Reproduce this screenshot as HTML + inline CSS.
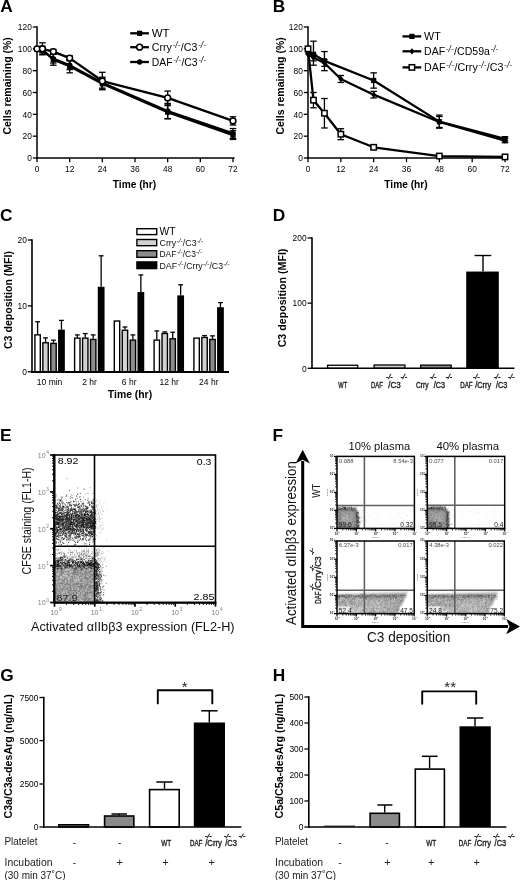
<!DOCTYPE html>
<html lang="en"><head><meta charset="utf-8"><title>Figure</title>
<style>html,body{margin:0;padding:0;background:#fff}svg{display:block}</style></head>
<body>
<svg width="520" height="880" viewBox="0 0 520 880" font-family='"Liberation Sans", Arial, sans-serif' shape-rendering="geometricPrecision">
<rect width="520" height="880" fill="#fff"/>
<filter id="soft" x="0" y="0" width="100%" height="100%" filterUnits="objectBoundingBox"><feGaussianBlur stdDeviation="0.38"/></filter>
<g filter="url(#soft)">
<rect width="520" height="880" fill="#fff"/>
<line x1="37.00" y1="26.30" x2="37.00" y2="158.75" stroke="#000" stroke-width="1.5"/>
<line x1="36.25" y1="158.00" x2="234.60" y2="158.00" stroke="#000" stroke-width="1.5"/>
<line x1="32.80" y1="158.00" x2="37.00" y2="158.00" stroke="#000" stroke-width="1.3"/>
<text x="31.80" y="161.31" font-size="8.4" text-anchor="end">0</text>
<line x1="32.80" y1="136.17" x2="37.00" y2="136.17" stroke="#000" stroke-width="1.3"/>
<text x="31.80" y="139.47" font-size="8.4" text-anchor="end">20</text>
<line x1="32.80" y1="114.33" x2="37.00" y2="114.33" stroke="#000" stroke-width="1.3"/>
<text x="31.80" y="117.64" font-size="8.4" text-anchor="end">40</text>
<line x1="32.80" y1="92.50" x2="37.00" y2="92.50" stroke="#000" stroke-width="1.3"/>
<text x="31.80" y="95.81" font-size="8.4" text-anchor="end">60</text>
<line x1="32.80" y1="70.67" x2="37.00" y2="70.67" stroke="#000" stroke-width="1.3"/>
<text x="31.80" y="73.97" font-size="8.4" text-anchor="end">80</text>
<line x1="32.80" y1="48.83" x2="37.00" y2="48.83" stroke="#000" stroke-width="1.3"/>
<text x="31.80" y="52.14" font-size="8.4" text-anchor="end">100</text>
<line x1="32.80" y1="27.00" x2="37.00" y2="27.00" stroke="#000" stroke-width="1.3"/>
<text x="31.80" y="30.31" font-size="8.4" text-anchor="end">120</text>
<line x1="37.00" y1="158.00" x2="37.00" y2="162.20" stroke="#000" stroke-width="1.3"/>
<text x="37.00" y="172.31" font-size="8.4" text-anchor="middle">0</text>
<line x1="69.67" y1="158.00" x2="69.67" y2="162.20" stroke="#000" stroke-width="1.3"/>
<text x="69.67" y="172.31" font-size="8.4" text-anchor="middle">12</text>
<line x1="102.33" y1="158.00" x2="102.33" y2="162.20" stroke="#000" stroke-width="1.3"/>
<text x="102.33" y="172.31" font-size="8.4" text-anchor="middle">24</text>
<line x1="135.00" y1="158.00" x2="135.00" y2="162.20" stroke="#000" stroke-width="1.3"/>
<text x="135.00" y="172.31" font-size="8.4" text-anchor="middle">36</text>
<line x1="167.67" y1="158.00" x2="167.67" y2="162.20" stroke="#000" stroke-width="1.3"/>
<text x="167.67" y="172.31" font-size="8.4" text-anchor="middle">48</text>
<line x1="200.33" y1="158.00" x2="200.33" y2="162.20" stroke="#000" stroke-width="1.3"/>
<text x="200.33" y="172.31" font-size="8.4" text-anchor="middle">60</text>
<line x1="233.00" y1="158.00" x2="233.00" y2="162.20" stroke="#000" stroke-width="1.3"/>
<text x="233.00" y="172.31" font-size="8.4" text-anchor="middle">72</text>
<text x="134.50" y="188.45" font-size="10.2" text-anchor="middle" font-weight="bold">Time (hr)</text>
<text x="11.32" y="134.60" font-size="10.4" font-weight="bold" textLength="97.40" lengthAdjust="spacingAndGlyphs" transform="rotate(-90 11.32 134.60)">Cells remaining (%)</text>
<text x="0.20" y="12.40" font-size="17.3" font-weight="bold">A</text>
<line x1="42.44" y1="46.10" x2="42.44" y2="52.65" stroke="#000" stroke-width="1.3"/>
<line x1="39.19" y1="46.10" x2="45.69" y2="46.10" stroke="#000" stroke-width="1.3"/>
<line x1="39.19" y1="52.65" x2="45.69" y2="52.65" stroke="#000" stroke-width="1.3"/>
<line x1="53.33" y1="54.29" x2="53.33" y2="65.21" stroke="#000" stroke-width="1.3"/>
<line x1="50.08" y1="54.29" x2="56.58" y2="54.29" stroke="#000" stroke-width="1.3"/>
<line x1="50.08" y1="65.21" x2="56.58" y2="65.21" stroke="#000" stroke-width="1.3"/>
<line x1="69.67" y1="59.75" x2="69.67" y2="72.85" stroke="#000" stroke-width="1.3"/>
<line x1="66.42" y1="59.75" x2="72.92" y2="59.75" stroke="#000" stroke-width="1.3"/>
<line x1="66.42" y1="72.85" x2="72.92" y2="72.85" stroke="#000" stroke-width="1.3"/>
<line x1="102.33" y1="78.31" x2="102.33" y2="89.23" stroke="#000" stroke-width="1.3"/>
<line x1="99.08" y1="78.31" x2="105.58" y2="78.31" stroke="#000" stroke-width="1.3"/>
<line x1="99.08" y1="89.23" x2="105.58" y2="89.23" stroke="#000" stroke-width="1.3"/>
<line x1="167.67" y1="105.60" x2="167.67" y2="118.70" stroke="#000" stroke-width="1.3"/>
<line x1="164.42" y1="105.60" x2="170.92" y2="105.60" stroke="#000" stroke-width="1.3"/>
<line x1="164.42" y1="118.70" x2="170.92" y2="118.70" stroke="#000" stroke-width="1.3"/>
<line x1="233.00" y1="130.71" x2="233.00" y2="139.44" stroke="#000" stroke-width="1.3"/>
<line x1="229.75" y1="130.71" x2="236.25" y2="130.71" stroke="#000" stroke-width="1.3"/>
<line x1="229.75" y1="139.44" x2="236.25" y2="139.44" stroke="#000" stroke-width="1.3"/>
<polyline points="37.00,48.83 42.44,49.38 53.33,59.75 69.67,66.30 102.33,83.77 167.67,112.15 233.00,135.07" fill="none" stroke="#000" stroke-width="2.3" stroke-linejoin="round"/>
<rect x="34.40" y="46.23" width="5.20" height="5.20" fill="#000"/>
<rect x="39.84" y="46.78" width="5.20" height="5.20" fill="#000"/>
<rect x="50.73" y="57.15" width="5.20" height="5.20" fill="#000"/>
<rect x="67.07" y="63.70" width="5.20" height="5.20" fill="#000"/>
<rect x="99.73" y="81.17" width="5.20" height="5.20" fill="#000"/>
<rect x="165.07" y="109.55" width="5.20" height="5.20" fill="#000"/>
<rect x="230.40" y="132.47" width="5.20" height="5.20" fill="#000"/>
<line x1="42.44" y1="47.74" x2="42.44" y2="54.29" stroke="#000" stroke-width="1.3"/>
<line x1="39.19" y1="47.74" x2="45.69" y2="47.74" stroke="#000" stroke-width="1.3"/>
<line x1="39.19" y1="54.29" x2="45.69" y2="54.29" stroke="#000" stroke-width="1.3"/>
<line x1="53.33" y1="54.29" x2="53.33" y2="63.03" stroke="#000" stroke-width="1.3"/>
<line x1="50.08" y1="54.29" x2="56.58" y2="54.29" stroke="#000" stroke-width="1.3"/>
<line x1="50.08" y1="63.03" x2="56.58" y2="63.03" stroke="#000" stroke-width="1.3"/>
<line x1="69.67" y1="60.84" x2="69.67" y2="69.58" stroke="#000" stroke-width="1.3"/>
<line x1="66.42" y1="60.84" x2="72.92" y2="60.84" stroke="#000" stroke-width="1.3"/>
<line x1="66.42" y1="69.58" x2="72.92" y2="69.58" stroke="#000" stroke-width="1.3"/>
<line x1="102.33" y1="77.22" x2="102.33" y2="88.13" stroke="#000" stroke-width="1.3"/>
<line x1="99.08" y1="77.22" x2="105.58" y2="77.22" stroke="#000" stroke-width="1.3"/>
<line x1="99.08" y1="88.13" x2="105.58" y2="88.13" stroke="#000" stroke-width="1.3"/>
<line x1="167.67" y1="103.42" x2="167.67" y2="118.70" stroke="#000" stroke-width="1.3"/>
<line x1="164.42" y1="103.42" x2="170.92" y2="103.42" stroke="#000" stroke-width="1.3"/>
<line x1="164.42" y1="118.70" x2="170.92" y2="118.70" stroke="#000" stroke-width="1.3"/>
<line x1="233.00" y1="128.53" x2="233.00" y2="138.35" stroke="#000" stroke-width="1.3"/>
<line x1="229.75" y1="128.53" x2="236.25" y2="128.53" stroke="#000" stroke-width="1.3"/>
<line x1="229.75" y1="138.35" x2="236.25" y2="138.35" stroke="#000" stroke-width="1.3"/>
<polyline points="37.00,48.83 42.44,51.02 53.33,58.66 69.67,65.21 102.33,82.68 167.67,111.06 233.00,133.44" fill="none" stroke="#000" stroke-width="2.3" stroke-linejoin="round"/>
<circle cx="37.00" cy="48.83" r="2.7" fill="#000"/>
<circle cx="42.44" cy="51.02" r="2.7" fill="#000"/>
<circle cx="53.33" cy="58.66" r="2.7" fill="#000"/>
<circle cx="69.67" cy="65.21" r="2.7" fill="#000"/>
<circle cx="102.33" cy="82.68" r="2.7" fill="#000"/>
<circle cx="167.67" cy="111.06" r="2.7" fill="#000"/>
<circle cx="233.00" cy="133.44" r="2.7" fill="#000"/>
<line x1="42.44" y1="42.83" x2="42.44" y2="54.84" stroke="#000" stroke-width="1.3"/>
<line x1="39.19" y1="42.83" x2="45.69" y2="42.83" stroke="#000" stroke-width="1.3"/>
<line x1="39.19" y1="54.84" x2="45.69" y2="54.84" stroke="#000" stroke-width="1.3"/>
<line x1="53.33" y1="49.38" x2="53.33" y2="53.75" stroke="#000" stroke-width="1.3"/>
<line x1="50.08" y1="49.38" x2="56.58" y2="49.38" stroke="#000" stroke-width="1.3"/>
<line x1="50.08" y1="53.75" x2="56.58" y2="53.75" stroke="#000" stroke-width="1.3"/>
<line x1="69.67" y1="55.93" x2="69.67" y2="60.30" stroke="#000" stroke-width="1.3"/>
<line x1="66.42" y1="55.93" x2="72.92" y2="55.93" stroke="#000" stroke-width="1.3"/>
<line x1="66.42" y1="60.30" x2="72.92" y2="60.30" stroke="#000" stroke-width="1.3"/>
<line x1="102.33" y1="72.30" x2="102.33" y2="89.77" stroke="#000" stroke-width="1.3"/>
<line x1="99.08" y1="72.30" x2="105.58" y2="72.30" stroke="#000" stroke-width="1.3"/>
<line x1="99.08" y1="89.77" x2="105.58" y2="89.77" stroke="#000" stroke-width="1.3"/>
<line x1="167.67" y1="91.08" x2="167.67" y2="104.84" stroke="#000" stroke-width="1.3"/>
<line x1="164.42" y1="91.08" x2="170.92" y2="91.08" stroke="#000" stroke-width="1.3"/>
<line x1="164.42" y1="104.84" x2="170.92" y2="104.84" stroke="#000" stroke-width="1.3"/>
<line x1="233.00" y1="116.74" x2="233.00" y2="125.03" stroke="#000" stroke-width="1.3"/>
<line x1="229.75" y1="116.74" x2="236.25" y2="116.74" stroke="#000" stroke-width="1.3"/>
<line x1="229.75" y1="125.03" x2="236.25" y2="125.03" stroke="#000" stroke-width="1.3"/>
<polyline points="37.00,48.83 42.44,48.83 53.33,51.56 69.67,58.11 102.33,81.04 167.67,97.96 233.00,120.88" fill="none" stroke="#000" stroke-width="2.3" stroke-linejoin="round"/>
<circle cx="37.00" cy="48.83" r="2.9" fill="#fff" stroke="#000" stroke-width="1.5"/>
<circle cx="42.44" cy="48.83" r="2.9" fill="#fff" stroke="#000" stroke-width="1.5"/>
<circle cx="53.33" cy="51.56" r="2.9" fill="#fff" stroke="#000" stroke-width="1.5"/>
<circle cx="69.67" cy="58.11" r="2.9" fill="#fff" stroke="#000" stroke-width="1.5"/>
<circle cx="102.33" cy="81.04" r="2.9" fill="#fff" stroke="#000" stroke-width="1.5"/>
<circle cx="167.67" cy="97.96" r="2.9" fill="#fff" stroke="#000" stroke-width="1.5"/>
<circle cx="233.00" cy="120.88" r="2.9" fill="#fff" stroke="#000" stroke-width="1.5"/>
<line x1="130.20" y1="33.30" x2="148.90" y2="33.30" stroke="#000" stroke-width="2.3"/>
<rect x="137.00" y="30.70" width="5.20" height="5.20" fill="#000"/>
<text x="151.80" y="37.20" font-size="10.8" textLength="17.80" lengthAdjust="spacingAndGlyphs">WT</text>
<line x1="130.20" y1="47.20" x2="148.90" y2="47.20" stroke="#000" stroke-width="2.3"/>
<circle cx="139.60" cy="47.20" r="2.9" fill="#fff" stroke="#000" stroke-width="1.5"/>
<text x="151.80" y="51.10" font-size="10.8" textLength="20.07" lengthAdjust="spacingAndGlyphs">Crry</text>
<text x="172.47" y="47.80" font-size="8.6" font-style="italic" textLength="7.99" lengthAdjust="spacingAndGlyphs">-/-</text>
<text x="180.87" y="51.10" font-size="10.8" textLength="16.54" lengthAdjust="spacingAndGlyphs">/C3</text>
<text x="198.01" y="47.80" font-size="8.6" font-style="italic" textLength="7.99" lengthAdjust="spacingAndGlyphs">-/-</text>
<line x1="130.20" y1="62.00" x2="148.90" y2="62.00" stroke="#000" stroke-width="2.3"/>
<circle cx="139.60" cy="62.00" r="2.7" fill="#000"/>
<text x="151.80" y="65.90" font-size="10.8" textLength="20.79" lengthAdjust="spacingAndGlyphs">DAF</text>
<text x="173.19" y="62.60" font-size="8.6" font-style="italic" textLength="7.81" lengthAdjust="spacingAndGlyphs">-/-</text>
<text x="181.41" y="65.90" font-size="10.8" textLength="16.18" lengthAdjust="spacingAndGlyphs">/C3</text>
<text x="198.19" y="62.60" font-size="8.6" font-style="italic" textLength="7.81" lengthAdjust="spacingAndGlyphs">-/-</text>
<line x1="308.00" y1="26.30" x2="308.00" y2="158.75" stroke="#000" stroke-width="1.5"/>
<line x1="307.25" y1="158.00" x2="506.60" y2="158.00" stroke="#000" stroke-width="1.5"/>
<line x1="303.80" y1="158.00" x2="308.00" y2="158.00" stroke="#000" stroke-width="1.3"/>
<text x="302.80" y="161.31" font-size="8.4" text-anchor="end">0</text>
<line x1="303.80" y1="136.17" x2="308.00" y2="136.17" stroke="#000" stroke-width="1.3"/>
<text x="302.80" y="139.47" font-size="8.4" text-anchor="end">20</text>
<line x1="303.80" y1="114.33" x2="308.00" y2="114.33" stroke="#000" stroke-width="1.3"/>
<text x="302.80" y="117.64" font-size="8.4" text-anchor="end">40</text>
<line x1="303.80" y1="92.50" x2="308.00" y2="92.50" stroke="#000" stroke-width="1.3"/>
<text x="302.80" y="95.81" font-size="8.4" text-anchor="end">60</text>
<line x1="303.80" y1="70.67" x2="308.00" y2="70.67" stroke="#000" stroke-width="1.3"/>
<text x="302.80" y="73.97" font-size="8.4" text-anchor="end">80</text>
<line x1="303.80" y1="48.83" x2="308.00" y2="48.83" stroke="#000" stroke-width="1.3"/>
<text x="302.80" y="52.14" font-size="8.4" text-anchor="end">100</text>
<line x1="303.80" y1="27.00" x2="308.00" y2="27.00" stroke="#000" stroke-width="1.3"/>
<text x="302.80" y="30.31" font-size="8.4" text-anchor="end">120</text>
<line x1="308.00" y1="158.00" x2="308.00" y2="162.20" stroke="#000" stroke-width="1.3"/>
<text x="308.00" y="172.31" font-size="8.4" text-anchor="middle">0</text>
<line x1="340.83" y1="158.00" x2="340.83" y2="162.20" stroke="#000" stroke-width="1.3"/>
<text x="340.83" y="172.31" font-size="8.4" text-anchor="middle">12</text>
<line x1="373.67" y1="158.00" x2="373.67" y2="162.20" stroke="#000" stroke-width="1.3"/>
<text x="373.67" y="172.31" font-size="8.4" text-anchor="middle">24</text>
<line x1="406.50" y1="158.00" x2="406.50" y2="162.20" stroke="#000" stroke-width="1.3"/>
<text x="406.50" y="172.31" font-size="8.4" text-anchor="middle">36</text>
<line x1="439.33" y1="158.00" x2="439.33" y2="162.20" stroke="#000" stroke-width="1.3"/>
<text x="439.33" y="172.31" font-size="8.4" text-anchor="middle">48</text>
<line x1="472.17" y1="158.00" x2="472.17" y2="162.20" stroke="#000" stroke-width="1.3"/>
<text x="472.17" y="172.31" font-size="8.4" text-anchor="middle">60</text>
<line x1="505.00" y1="158.00" x2="505.00" y2="162.20" stroke="#000" stroke-width="1.3"/>
<text x="505.00" y="172.31" font-size="8.4" text-anchor="middle">72</text>
<text x="406.00" y="188.45" font-size="10.2" text-anchor="middle" font-weight="bold">Time (hr)</text>
<text x="283.92" y="134.60" font-size="10.4" font-weight="bold" textLength="97.40" lengthAdjust="spacingAndGlyphs" transform="rotate(-90 283.92 134.60)">Cells remaining (%)</text>
<text x="272.80" y="12.40" font-size="17.3" font-weight="bold">B</text>
<line x1="313.47" y1="41.19" x2="313.47" y2="65.21" stroke="#000" stroke-width="1.3"/>
<line x1="310.22" y1="41.19" x2="316.72" y2="41.19" stroke="#000" stroke-width="1.3"/>
<line x1="310.22" y1="65.21" x2="316.72" y2="65.21" stroke="#000" stroke-width="1.3"/>
<line x1="324.42" y1="51.56" x2="324.42" y2="70.67" stroke="#000" stroke-width="1.3"/>
<line x1="321.17" y1="51.56" x2="327.67" y2="51.56" stroke="#000" stroke-width="1.3"/>
<line x1="321.17" y1="70.67" x2="327.67" y2="70.67" stroke="#000" stroke-width="1.3"/>
<line x1="373.67" y1="72.85" x2="373.67" y2="88.13" stroke="#000" stroke-width="1.3"/>
<line x1="370.42" y1="72.85" x2="376.92" y2="72.85" stroke="#000" stroke-width="1.3"/>
<line x1="370.42" y1="88.13" x2="376.92" y2="88.13" stroke="#000" stroke-width="1.3"/>
<line x1="439.33" y1="115.10" x2="439.33" y2="128.20" stroke="#000" stroke-width="1.3"/>
<line x1="436.08" y1="115.10" x2="442.58" y2="115.10" stroke="#000" stroke-width="1.3"/>
<line x1="436.08" y1="128.20" x2="442.58" y2="128.20" stroke="#000" stroke-width="1.3"/>
<line x1="505.00" y1="136.71" x2="505.00" y2="141.08" stroke="#000" stroke-width="1.3"/>
<line x1="501.75" y1="136.71" x2="508.25" y2="136.71" stroke="#000" stroke-width="1.3"/>
<line x1="501.75" y1="141.08" x2="508.25" y2="141.08" stroke="#000" stroke-width="1.3"/>
<polyline points="308.00,52.11 313.47,54.29 324.42,60.84 373.67,80.49 439.33,121.65 505.00,138.90" fill="none" stroke="#000" stroke-width="2.3" stroke-linejoin="round"/>
<rect x="305.40" y="49.51" width="5.20" height="5.20" fill="#000"/>
<rect x="310.87" y="51.69" width="5.20" height="5.20" fill="#000"/>
<rect x="321.82" y="58.24" width="5.20" height="5.20" fill="#000"/>
<rect x="371.07" y="77.89" width="5.20" height="5.20" fill="#000"/>
<rect x="436.73" y="119.05" width="5.20" height="5.20" fill="#000"/>
<rect x="502.40" y="136.30" width="5.20" height="5.20" fill="#000"/>
<line x1="313.47" y1="54.29" x2="313.47" y2="60.84" stroke="#000" stroke-width="1.3"/>
<line x1="310.22" y1="54.29" x2="316.72" y2="54.29" stroke="#000" stroke-width="1.3"/>
<line x1="310.22" y1="60.84" x2="316.72" y2="60.84" stroke="#000" stroke-width="1.3"/>
<line x1="324.42" y1="59.75" x2="324.42" y2="66.30" stroke="#000" stroke-width="1.3"/>
<line x1="321.17" y1="59.75" x2="327.67" y2="59.75" stroke="#000" stroke-width="1.3"/>
<line x1="321.17" y1="66.30" x2="327.67" y2="66.30" stroke="#000" stroke-width="1.3"/>
<line x1="340.83" y1="75.47" x2="340.83" y2="82.46" stroke="#000" stroke-width="1.3"/>
<line x1="337.58" y1="75.47" x2="344.08" y2="75.47" stroke="#000" stroke-width="1.3"/>
<line x1="337.58" y1="82.46" x2="344.08" y2="82.46" stroke="#000" stroke-width="1.3"/>
<line x1="373.67" y1="91.41" x2="373.67" y2="97.96" stroke="#000" stroke-width="1.3"/>
<line x1="370.42" y1="91.41" x2="376.92" y2="91.41" stroke="#000" stroke-width="1.3"/>
<line x1="370.42" y1="97.96" x2="376.92" y2="97.96" stroke="#000" stroke-width="1.3"/>
<line x1="439.33" y1="116.52" x2="439.33" y2="127.43" stroke="#000" stroke-width="1.3"/>
<line x1="436.08" y1="116.52" x2="442.58" y2="116.52" stroke="#000" stroke-width="1.3"/>
<line x1="436.08" y1="127.43" x2="442.58" y2="127.43" stroke="#000" stroke-width="1.3"/>
<line x1="505.00" y1="138.35" x2="505.00" y2="142.72" stroke="#000" stroke-width="1.3"/>
<line x1="501.75" y1="138.35" x2="508.25" y2="138.35" stroke="#000" stroke-width="1.3"/>
<line x1="501.75" y1="142.72" x2="508.25" y2="142.72" stroke="#000" stroke-width="1.3"/>
<polyline points="308.00,54.29 313.47,57.57 324.42,63.03 340.83,78.96 373.67,94.68 439.33,121.97 505.00,140.53" fill="none" stroke="#000" stroke-width="2.3" stroke-linejoin="round"/>
<path d="M308.00 51.19L310.60 54.29L308.00 57.39L305.40 54.29Z" fill="#000"/>
<path d="M313.47 54.47L316.07 57.57L313.47 60.67L310.87 57.57Z" fill="#000"/>
<path d="M324.42 59.93L327.02 63.03L324.42 66.12L321.82 63.03Z" fill="#000"/>
<path d="M340.83 75.86L343.43 78.96L340.83 82.06L338.23 78.96Z" fill="#000"/>
<path d="M373.67 91.58L376.27 94.68L373.67 97.78L371.07 94.68Z" fill="#000"/>
<path d="M439.33 118.88L441.93 121.97L439.33 125.07L436.73 121.97Z" fill="#000"/>
<path d="M505.00 137.43L507.60 140.53L505.00 143.63L502.40 140.53Z" fill="#000"/>
<line x1="313.47" y1="92.50" x2="313.47" y2="107.78" stroke="#000" stroke-width="1.3"/>
<line x1="310.22" y1="92.50" x2="316.72" y2="92.50" stroke="#000" stroke-width="1.3"/>
<line x1="310.22" y1="107.78" x2="316.72" y2="107.78" stroke="#000" stroke-width="1.3"/>
<line x1="324.42" y1="98.50" x2="324.42" y2="127.98" stroke="#000" stroke-width="1.3"/>
<line x1="321.17" y1="98.50" x2="327.67" y2="98.50" stroke="#000" stroke-width="1.3"/>
<line x1="321.17" y1="127.98" x2="327.67" y2="127.98" stroke="#000" stroke-width="1.3"/>
<line x1="340.83" y1="128.74" x2="340.83" y2="139.66" stroke="#000" stroke-width="1.3"/>
<line x1="337.58" y1="128.74" x2="344.08" y2="128.74" stroke="#000" stroke-width="1.3"/>
<line x1="337.58" y1="139.66" x2="344.08" y2="139.66" stroke="#000" stroke-width="1.3"/>
<line x1="373.67" y1="145.66" x2="373.67" y2="148.94" stroke="#000" stroke-width="1.3"/>
<line x1="370.42" y1="145.66" x2="376.92" y2="145.66" stroke="#000" stroke-width="1.3"/>
<line x1="370.42" y1="148.94" x2="376.92" y2="148.94" stroke="#000" stroke-width="1.3"/>
<polyline points="308.00,48.83 313.47,100.14 324.42,113.24 340.83,134.20 373.67,147.30 439.33,156.03 505.00,156.91" fill="none" stroke="#000" stroke-width="2.3" stroke-linejoin="round"/>
<rect x="305.30" y="46.13" width="5.40" height="5.40" fill="#fff" stroke="#000" stroke-width="1.5"/>
<rect x="310.77" y="97.44" width="5.40" height="5.40" fill="#fff" stroke="#000" stroke-width="1.5"/>
<rect x="321.72" y="110.54" width="5.40" height="5.40" fill="#fff" stroke="#000" stroke-width="1.5"/>
<rect x="338.13" y="131.50" width="5.40" height="5.40" fill="#fff" stroke="#000" stroke-width="1.5"/>
<rect x="370.97" y="144.60" width="5.40" height="5.40" fill="#fff" stroke="#000" stroke-width="1.5"/>
<rect x="436.63" y="153.34" width="5.40" height="5.40" fill="#fff" stroke="#000" stroke-width="1.5"/>
<rect x="502.30" y="154.21" width="5.40" height="5.40" fill="#fff" stroke="#000" stroke-width="1.5"/>
<line x1="402.50" y1="36.40" x2="421.20" y2="36.40" stroke="#000" stroke-width="2.3"/>
<rect x="409.30" y="33.80" width="5.20" height="5.20" fill="#000"/>
<text x="424.10" y="40.30" font-size="10.8" textLength="16.60" lengthAdjust="spacingAndGlyphs">WT</text>
<line x1="402.50" y1="51.30" x2="421.20" y2="51.30" stroke="#000" stroke-width="2.3"/>
<path d="M411.90 48.20L414.50 51.30L411.90 54.40L409.30 51.30Z" fill="#000"/>
<text x="424.10" y="55.20" font-size="10.8" textLength="21.09" lengthAdjust="spacingAndGlyphs">DAF</text>
<text x="445.79" y="51.90" font-size="8.6" font-style="italic" textLength="7.93" lengthAdjust="spacingAndGlyphs">-/-</text>
<text x="454.12" y="55.20" font-size="10.8" textLength="35.76" lengthAdjust="spacingAndGlyphs">/CD59a</text>
<text x="490.47" y="51.90" font-size="8.6" font-style="italic" textLength="7.93" lengthAdjust="spacingAndGlyphs">-/-</text>
<line x1="402.50" y1="67.40" x2="421.20" y2="67.40" stroke="#000" stroke-width="2.3"/>
<rect x="409.20" y="64.70" width="5.40" height="5.40" fill="#fff" stroke="#000" stroke-width="1.5"/>
<text x="424.10" y="71.30" font-size="10.8" textLength="21.41" lengthAdjust="spacingAndGlyphs">DAF</text>
<text x="446.11" y="68.00" font-size="8.6" font-style="italic" textLength="8.05" lengthAdjust="spacingAndGlyphs">-/-</text>
<text x="454.56" y="71.30" font-size="10.8" textLength="23.19" lengthAdjust="spacingAndGlyphs">/Crry</text>
<text x="478.35" y="68.00" font-size="8.6" font-style="italic" textLength="8.05" lengthAdjust="spacingAndGlyphs">-/-</text>
<text x="486.79" y="71.30" font-size="10.8" textLength="16.66" lengthAdjust="spacingAndGlyphs">/C3</text>
<text x="504.05" y="68.00" font-size="8.6" font-style="italic" textLength="8.05" lengthAdjust="spacingAndGlyphs">-/-</text>
<text x="0.10" y="220.70" font-size="17.3" font-weight="bold">C</text>
<line x1="37.60" y1="321.72" x2="37.60" y2="334.24" stroke="#000" stroke-width="1.3"/>
<line x1="35.20" y1="321.72" x2="40.00" y2="321.72" stroke="#000" stroke-width="1.3"/>
<rect x="34.90" y="334.84" width="5.40" height="36.96" fill="#fff" stroke="#000" stroke-width="1.4"/>
<line x1="45.55" y1="337.86" x2="45.55" y2="342.14" stroke="#000" stroke-width="1.3"/>
<line x1="43.15" y1="337.86" x2="47.95" y2="337.86" stroke="#000" stroke-width="1.3"/>
<rect x="42.85" y="342.75" width="5.40" height="29.06" fill="#d2d2d2" stroke="#000" stroke-width="1.4"/>
<line x1="53.50" y1="340.17" x2="53.50" y2="342.80" stroke="#000" stroke-width="1.3"/>
<line x1="51.10" y1="340.17" x2="55.90" y2="340.17" stroke="#000" stroke-width="1.3"/>
<rect x="50.80" y="343.40" width="5.40" height="28.40" fill="#8c8c8c" stroke="#000" stroke-width="1.4"/>
<line x1="61.45" y1="320.40" x2="61.45" y2="329.62" stroke="#000" stroke-width="1.3"/>
<line x1="59.05" y1="320.40" x2="63.85" y2="320.40" stroke="#000" stroke-width="1.3"/>
<rect x="58.05" y="329.62" width="6.80" height="42.18" fill="#000"/>
<line x1="77.30" y1="334.90" x2="77.30" y2="337.53" stroke="#000" stroke-width="1.3"/>
<line x1="74.90" y1="334.90" x2="79.70" y2="334.90" stroke="#000" stroke-width="1.3"/>
<rect x="74.60" y="338.13" width="5.40" height="33.67" fill="#fff" stroke="#000" stroke-width="1.4"/>
<line x1="85.25" y1="333.58" x2="85.25" y2="337.53" stroke="#000" stroke-width="1.3"/>
<line x1="82.85" y1="333.58" x2="87.65" y2="333.58" stroke="#000" stroke-width="1.3"/>
<rect x="82.55" y="338.13" width="5.40" height="33.67" fill="#d2d2d2" stroke="#000" stroke-width="1.4"/>
<line x1="93.20" y1="334.90" x2="93.20" y2="338.85" stroke="#000" stroke-width="1.3"/>
<line x1="90.80" y1="334.90" x2="95.60" y2="334.90" stroke="#000" stroke-width="1.3"/>
<rect x="90.50" y="339.45" width="5.40" height="32.35" fill="#8c8c8c" stroke="#000" stroke-width="1.4"/>
<line x1="101.15" y1="255.82" x2="101.15" y2="286.79" stroke="#000" stroke-width="1.3"/>
<line x1="98.75" y1="255.82" x2="103.55" y2="255.82" stroke="#000" stroke-width="1.3"/>
<rect x="97.75" y="286.79" width="6.80" height="85.01" fill="#000"/>
<rect x="114.30" y="321.00" width="5.40" height="50.80" fill="#fff" stroke="#000" stroke-width="1.4"/>
<line x1="124.95" y1="326.99" x2="124.95" y2="329.62" stroke="#000" stroke-width="1.3"/>
<line x1="122.55" y1="326.99" x2="127.35" y2="326.99" stroke="#000" stroke-width="1.3"/>
<rect x="122.25" y="330.22" width="5.40" height="41.58" fill="#d2d2d2" stroke="#000" stroke-width="1.4"/>
<line x1="132.90" y1="334.90" x2="132.90" y2="339.51" stroke="#000" stroke-width="1.3"/>
<line x1="130.50" y1="334.90" x2="135.30" y2="334.90" stroke="#000" stroke-width="1.3"/>
<rect x="130.20" y="340.11" width="5.40" height="31.69" fill="#8c8c8c" stroke="#000" stroke-width="1.4"/>
<line x1="140.85" y1="274.93" x2="140.85" y2="292.06" stroke="#000" stroke-width="1.3"/>
<line x1="138.45" y1="274.93" x2="143.25" y2="274.93" stroke="#000" stroke-width="1.3"/>
<rect x="137.45" y="292.06" width="6.80" height="79.74" fill="#000"/>
<line x1="156.80" y1="330.94" x2="156.80" y2="339.51" stroke="#000" stroke-width="1.3"/>
<line x1="154.40" y1="330.94" x2="159.20" y2="330.94" stroke="#000" stroke-width="1.3"/>
<rect x="154.10" y="340.11" width="5.40" height="31.69" fill="#fff" stroke="#000" stroke-width="1.4"/>
<line x1="164.75" y1="331.93" x2="164.75" y2="332.92" stroke="#000" stroke-width="1.3"/>
<line x1="162.35" y1="331.93" x2="167.15" y2="331.93" stroke="#000" stroke-width="1.3"/>
<rect x="162.05" y="333.52" width="5.40" height="38.28" fill="#d2d2d2" stroke="#000" stroke-width="1.4"/>
<line x1="172.70" y1="332.26" x2="172.70" y2="338.19" stroke="#000" stroke-width="1.3"/>
<line x1="170.30" y1="332.26" x2="175.10" y2="332.26" stroke="#000" stroke-width="1.3"/>
<rect x="170.00" y="338.79" width="5.40" height="33.01" fill="#8c8c8c" stroke="#000" stroke-width="1.4"/>
<line x1="180.65" y1="284.81" x2="180.65" y2="295.36" stroke="#000" stroke-width="1.3"/>
<line x1="178.25" y1="284.81" x2="183.05" y2="284.81" stroke="#000" stroke-width="1.3"/>
<rect x="177.25" y="295.36" width="6.80" height="76.44" fill="#000"/>
<rect x="193.90" y="338.13" width="5.40" height="33.67" fill="#fff" stroke="#000" stroke-width="1.4"/>
<line x1="204.55" y1="335.56" x2="204.55" y2="336.87" stroke="#000" stroke-width="1.3"/>
<line x1="202.15" y1="335.56" x2="206.95" y2="335.56" stroke="#000" stroke-width="1.3"/>
<rect x="201.85" y="337.47" width="5.40" height="34.33" fill="#d2d2d2" stroke="#000" stroke-width="1.4"/>
<line x1="212.50" y1="335.88" x2="212.50" y2="338.85" stroke="#000" stroke-width="1.3"/>
<line x1="210.10" y1="335.88" x2="214.90" y2="335.88" stroke="#000" stroke-width="1.3"/>
<rect x="209.80" y="339.45" width="5.40" height="32.35" fill="#8c8c8c" stroke="#000" stroke-width="1.4"/>
<line x1="220.45" y1="302.61" x2="220.45" y2="307.22" stroke="#000" stroke-width="1.3"/>
<line x1="218.05" y1="302.61" x2="222.85" y2="302.61" stroke="#000" stroke-width="1.3"/>
<rect x="217.05" y="307.22" width="6.80" height="64.58" fill="#000"/>
<line x1="32.00" y1="239.30" x2="32.00" y2="372.70" stroke="#000" stroke-width="1.6"/>
<line x1="31.20" y1="372.00" x2="229.00" y2="372.00" stroke="#000" stroke-width="1.8"/>
<line x1="27.80" y1="371.80" x2="32.00" y2="371.80" stroke="#000" stroke-width="1.3"/>
<text x="26.80" y="375.11" font-size="8.4" text-anchor="end">0</text>
<line x1="27.80" y1="305.90" x2="32.00" y2="305.90" stroke="#000" stroke-width="1.3"/>
<text x="26.80" y="309.21" font-size="8.4" text-anchor="end">10</text>
<line x1="27.80" y1="240.00" x2="32.00" y2="240.00" stroke="#000" stroke-width="1.3"/>
<text x="26.80" y="243.31" font-size="8.4" text-anchor="end">20</text>
<text x="49.60" y="384.64" font-size="8.5" text-anchor="middle">10 min</text>
<text x="89.60" y="384.64" font-size="8.5" text-anchor="middle">2 hr</text>
<text x="129.20" y="384.64" font-size="8.5" text-anchor="middle">6 hr</text>
<text x="169.20" y="384.64" font-size="8.5" text-anchor="middle">12 hr</text>
<text x="208.80" y="384.64" font-size="8.5" text-anchor="middle">24 hr</text>
<text x="130.00" y="397.72" font-size="10.4" text-anchor="middle" font-weight="bold">Time (hr)</text>
<text x="12.02" y="349.00" font-size="10.4" font-weight="bold" textLength="98.00" lengthAdjust="spacingAndGlyphs" transform="rotate(-90 12.02 349.00)">C3 deposition (MFI)</text>
<rect x="136.90" y="228.70" width="19.80" height="5.90" fill="#fff" stroke="#000" stroke-width="1.4"/>
<text x="159.50" y="235.25" font-size="10.2" textLength="16.00" lengthAdjust="spacingAndGlyphs">WT</text>
<rect x="136.90" y="239.50" width="19.80" height="6.20" fill="#d2d2d2" stroke="#000" stroke-width="1.4"/>
<text x="159.50" y="245.90" font-size="9.2" fill="#111" textLength="16.70" lengthAdjust="spacingAndGlyphs">Crry</text>
<text x="176.50" y="243.00" font-size="6.8" font-style="italic" fill="#111" textLength="6.17" lengthAdjust="spacingAndGlyphs">-/-</text>
<text x="182.87" y="245.90" font-size="9.2" fill="#111" textLength="13.76" lengthAdjust="spacingAndGlyphs">/C3</text>
<text x="196.93" y="243.00" font-size="6.8" font-style="italic" fill="#111" textLength="6.17" lengthAdjust="spacingAndGlyphs">-/-</text>
<rect x="136.90" y="250.70" width="19.80" height="6.60" fill="#8c8c8c" stroke="#000" stroke-width="1.4"/>
<text x="159.50" y="257.30" font-size="9.2" fill="#111" textLength="16.88" lengthAdjust="spacingAndGlyphs">DAF</text>
<text x="176.68" y="254.40" font-size="6.8" font-style="italic" fill="#111" textLength="5.89" lengthAdjust="spacingAndGlyphs">-/-</text>
<text x="182.77" y="257.30" font-size="9.2" fill="#111" textLength="13.14" lengthAdjust="spacingAndGlyphs">/C3</text>
<text x="196.21" y="254.40" font-size="6.8" font-style="italic" fill="#111" textLength="5.89" lengthAdjust="spacingAndGlyphs">-/-</text>
<rect x="136.20" y="261.20" width="21.20" height="8.10" fill="#000"/>
<text x="159.50" y="268.55" font-size="9.2" fill="#111" textLength="17.58" lengthAdjust="spacingAndGlyphs">DAF</text>
<text x="177.38" y="265.65" font-size="6.8" font-style="italic" fill="#111" textLength="6.13" lengthAdjust="spacingAndGlyphs">-/-</text>
<text x="183.71" y="268.55" font-size="9.2" fill="#111" textLength="19.04" lengthAdjust="spacingAndGlyphs">/Crry</text>
<text x="203.06" y="265.65" font-size="6.8" font-style="italic" fill="#111" textLength="6.13" lengthAdjust="spacingAndGlyphs">-/-</text>
<text x="209.39" y="268.55" font-size="9.2" fill="#111" textLength="13.68" lengthAdjust="spacingAndGlyphs">/C3</text>
<text x="223.37" y="265.65" font-size="6.8" font-style="italic" fill="#111" textLength="6.13" lengthAdjust="spacingAndGlyphs">-/-</text>
<text x="272.80" y="220.70" font-size="17.3" font-weight="bold">D</text>
<rect x="327.60" y="365.25" width="30.10" height="3.05" fill="#fff" stroke="#000" stroke-width="1.3"/>
<rect x="374.10" y="364.99" width="30.80" height="3.31" fill="#cfcfcf" stroke="#000" stroke-width="1.3"/>
<rect x="420.60" y="365.12" width="30.60" height="3.18" fill="#8a8a8a" stroke="#000" stroke-width="1.3"/>
<line x1="483.00" y1="255.50" x2="483.00" y2="271.55" stroke="#000" stroke-width="1.4"/>
<line x1="474.50" y1="255.50" x2="491.30" y2="255.50" stroke="#000" stroke-width="1.4"/>
<rect x="466.20" y="271.55" width="32.60" height="96.75" fill="#000"/>
<line x1="312.00" y1="237.30" x2="312.00" y2="369.10" stroke="#000" stroke-width="1.6"/>
<line x1="311.20" y1="368.30" x2="514.50" y2="368.30" stroke="#000" stroke-width="1.6"/>
<line x1="307.60" y1="368.30" x2="312.00" y2="368.30" stroke="#000" stroke-width="1.3"/>
<text x="306.60" y="371.61" font-size="8.4" text-anchor="end">0</text>
<line x1="307.60" y1="303.15" x2="312.00" y2="303.15" stroke="#000" stroke-width="1.3"/>
<text x="306.60" y="306.46" font-size="8.4" text-anchor="end">100</text>
<line x1="307.60" y1="238.00" x2="312.00" y2="238.00" stroke="#000" stroke-width="1.3"/>
<text x="306.60" y="241.31" font-size="8.4" text-anchor="end">200</text>
<text x="285.62" y="347.30" font-size="10.4" font-weight="bold" textLength="98.70" lengthAdjust="spacingAndGlyphs" transform="rotate(-90 285.62 347.30)">C3 deposition (MFI)</text>
<text x="338.30" y="388.00" font-size="8.2" fill="#222" textLength="8.90" lengthAdjust="spacingAndGlyphs" stroke="#222" stroke-width="0.36">WT</text>
<text x="371.00" y="388.00" font-size="8.2" fill="#222" textLength="11.80" lengthAdjust="spacingAndGlyphs" stroke="#222" stroke-width="0.36">DAF</text>
<text x="388.30" y="388.00" font-size="8.2" fill="#222" textLength="12.50" lengthAdjust="spacingAndGlyphs" stroke="#222" stroke-width="0.36">/C3</text>
<text x="389.40" y="378.60" font-size="6.6" text-anchor="middle" font-style="italic" fill="#222" textLength="6.60" lengthAdjust="spacingAndGlyphs" stroke="#222" stroke-width="0.36">-/-</text>
<text x="403.80" y="378.60" font-size="6.6" text-anchor="middle" font-style="italic" fill="#222" textLength="6.60" lengthAdjust="spacingAndGlyphs" stroke="#222" stroke-width="0.36">-/-</text>
<text x="416.00" y="388.00" font-size="8.2" fill="#222" textLength="12.60" lengthAdjust="spacingAndGlyphs" stroke="#222" stroke-width="0.36">Crry</text>
<text x="433.80" y="388.00" font-size="8.2" fill="#222" textLength="11.20" lengthAdjust="spacingAndGlyphs" stroke="#222" stroke-width="0.36">/C3</text>
<text x="433.00" y="378.60" font-size="6.6" text-anchor="middle" font-style="italic" fill="#222" textLength="6.60" lengthAdjust="spacingAndGlyphs" stroke="#222" stroke-width="0.36">-/-</text>
<text x="448.90" y="378.60" font-size="6.6" text-anchor="middle" font-style="italic" fill="#222" textLength="6.60" lengthAdjust="spacingAndGlyphs" stroke="#222" stroke-width="0.36">-/-</text>
<text x="460.20" y="388.00" font-size="8.2" fill="#222" textLength="12.40" lengthAdjust="spacingAndGlyphs" stroke="#222" stroke-width="0.36">DAF</text>
<text x="475.20" y="388.00" font-size="8.2" fill="#222" textLength="16.00" lengthAdjust="spacingAndGlyphs" stroke="#222" stroke-width="0.36">/Crry</text>
<text x="495.90" y="388.00" font-size="8.2" fill="#222" textLength="11.30" lengthAdjust="spacingAndGlyphs" stroke="#222" stroke-width="0.36">/C3</text>
<text x="476.20" y="378.60" font-size="6.6" text-anchor="middle" font-style="italic" fill="#222" textLength="6.60" lengthAdjust="spacingAndGlyphs" stroke="#222" stroke-width="0.36">-/-</text>
<text x="497.00" y="378.60" font-size="6.6" text-anchor="middle" font-style="italic" fill="#222" textLength="6.60" lengthAdjust="spacingAndGlyphs" stroke="#222" stroke-width="0.36">-/-</text>
<text x="511.20" y="378.60" font-size="6.6" text-anchor="middle" font-style="italic" fill="#222" textLength="6.60" lengthAdjust="spacingAndGlyphs" stroke="#222" stroke-width="0.36">-/-</text>
<text x="0.00" y="440.70" font-size="17.3" font-weight="bold">E</text>
<clipPath id="clipE"><rect x="54.5" y="455.0" width="161.0" height="147.5"/></clipPath>
<filter id="blE" x="-20%" y="-20%" width="140%" height="140%"><feGaussianBlur stdDeviation="1.1"/></filter>
<g clip-path="url(#clipE)">
<rect x="54.5" y="565.5" width="41.0" height="39.0" fill="#9c9c9c" filter="url(#blE)"/>
</g>
<path d="M80.4 572.4h0.8M91.7 591.4h0.8M86.7 571.1h0.8M63.8 598.1h0.8M67.0 572.5h0.8M90.8 592.4h0.8M54.7 596.5h0.8M88.6 574.6h0.8M87.6 568.5h0.8M73.9 587.0h0.8M67.1 583.7h0.8M66.1 583.0h0.8M65.1 594.3h0.8M73.0 582.4h0.8M75.4 583.6h0.8M77.5 583.3h0.8M95.8 582.0h0.8M87.4 580.2h0.8M80.3 571.0h0.8M95.5 576.1h0.8M63.4 574.9h0.8M61.1 574.3h0.8M79.9 594.4h0.8M56.3 569.3h0.8M56.0 572.7h0.8M75.9 584.7h0.8M73.8 576.7h0.8M92.6 574.0h0.8M80.6 579.0h0.8M75.8 583.8h0.8M75.1 590.3h0.8M64.8 601.5h0.8M55.0 597.0h0.8M62.5 581.1h0.8M83.2 581.9h0.8M62.8 580.6h0.8M69.8 574.0h0.8M54.7 600.7h0.8M88.9 567.6h0.8M60.9 572.7h0.8M65.6 589.8h0.8M91.0 587.1h0.8M75.7 575.4h0.8M89.7 600.1h0.8M81.0 580.4h0.8M85.3 587.4h0.8M58.3 568.4h0.8M77.0 598.4h0.8M75.6 568.9h0.8M90.7 579.8h0.8M69.5 598.2h0.8M79.3 600.4h0.8M57.0 598.9h0.8M70.6 596.0h0.8M67.9 573.7h0.8M60.7 566.2h0.8M88.4 581.9h0.8M70.2 567.4h0.8M95.1 601.0h0.8M79.0 565.3h0.8M79.6 577.2h0.8M81.0 572.6h0.8M82.6 565.5h0.8M60.8 583.7h0.8M72.8 567.9h0.8M64.4 598.7h0.8M71.2 590.8h0.8M58.5 578.9h0.8M94.7 596.6h0.8M63.4 594.9h0.8M82.4 577.2h0.8M67.0 596.8h0.8M90.8 599.9h0.8M82.0 588.2h0.8M60.0 578.2h0.8M89.6 598.8h0.8M93.7 600.4h0.8M92.0 578.0h0.8M78.1 568.2h0.8M60.5 597.5h0.8M62.5 589.9h0.8M93.0 573.7h0.8M77.4 586.3h0.8M62.0 576.6h0.8M91.2 599.5h0.8M81.1 577.8h0.8M78.1 572.4h0.8M70.1 566.6h0.8M71.6 577.8h0.8M64.4 602.1h0.8M56.1 573.2h0.8M90.9 582.2h0.8M73.9 601.5h0.8M77.2 565.3h0.8M67.9 576.1h0.8M85.7 595.8h0.8M55.5 568.6h0.8M69.9 599.8h0.8M55.8 596.3h0.8M59.6 570.4h0.8M94.6 587.2h0.8M81.8 585.8h0.8M72.3 591.0h0.8M76.2 576.5h0.8M90.7 579.4h0.8M68.8 574.0h0.8M79.0 575.9h0.8M82.9 571.6h0.8M69.2 598.9h0.8M76.0 598.3h0.8M86.3 578.5h0.8M92.2 591.0h0.8M60.8 583.4h0.8M93.2 575.5h0.8M54.7 578.1h0.8M85.7 601.2h0.8M88.1 577.8h0.8M60.2 586.7h0.8M71.9 600.4h0.8M88.3 576.2h0.8M55.1 595.3h0.8M80.6 569.3h0.8M87.4 592.5h0.8M75.8 595.3h0.8M84.6 596.4h0.8M63.9 601.6h0.8M62.7 591.7h0.8M69.6 601.6h0.8M61.9 575.4h0.8M68.9 584.6h0.8M93.8 573.0h0.8M78.3 568.1h0.8M68.6 581.5h0.8M65.8 592.0h0.8M94.0 594.2h0.8M72.9 565.6h0.8M95.2 600.3h0.8M75.9 574.3h0.8M76.1 576.0h0.8M91.7 596.2h0.8M85.3 598.5h0.8M78.6 592.6h0.8M72.2 577.5h0.8M90.9 582.4h0.8M71.6 596.3h0.8M92.8 578.4h0.8M57.4 595.2h0.8M72.3 594.3h0.8M76.1 582.6h0.8M94.0 598.6h0.8M64.9 579.4h0.8M88.0 593.1h0.8M82.6 589.0h0.8M84.3 577.4h0.8M80.6 584.9h0.8M94.8 587.7h0.8M68.3 585.1h0.8M71.0 569.2h0.8M62.9 602.2h0.8M56.6 601.2h0.8M63.3 566.4h0.8M92.5 600.4h0.8M89.4 584.9h0.8M59.2 569.7h0.8M79.6 595.8h0.8M74.4 581.2h0.8M79.2 591.7h0.8M81.9 596.0h0.8M67.2 585.2h0.8M94.4 566.9h0.8M73.8 595.8h0.8M80.6 591.0h0.8M80.9 599.1h0.8M62.1 575.1h0.8M57.1 594.4h0.8M71.6 597.7h0.8M86.2 578.3h0.8M88.3 580.4h0.8M84.8 577.5h0.8M59.2 565.2h0.8M92.4 573.7h0.8M87.8 577.4h0.8M90.9 569.1h0.8M76.2 593.7h0.8M92.5 581.0h0.8M56.4 586.3h0.8M55.8 575.7h0.8M55.3 578.5h0.8M65.0 593.3h0.8M64.8 582.6h0.8M62.3 587.4h0.8M78.0 580.9h0.8M56.1 585.9h0.8M79.0 598.7h0.8M61.4 575.0h0.8M82.6 584.5h0.8M55.4 590.8h0.8M67.4 568.3h0.8M93.4 601.1h0.8M76.8 583.7h0.8M88.2 574.2h0.8M81.8 593.5h0.8M79.8 595.6h0.8M62.4 588.6h0.8M78.3 599.4h0.8M56.1 568.3h0.8M87.8 584.8h0.8M94.3 592.9h0.8M89.9 599.4h0.8M56.6 589.1h0.8M68.6 587.6h0.8M67.7 579.6h0.8M59.2 586.4h0.8M80.5 585.8h0.8M87.6 598.9h0.8M67.5 596.0h0.8M90.3 592.6h0.8M87.6 599.6h0.8M59.9 567.5h0.8M86.3 593.9h0.8M91.1 582.4h0.8M62.7 593.2h0.8M78.3 576.1h0.8M81.0 582.5h0.8M79.8 595.9h0.8M58.5 566.3h0.8M81.9 575.9h0.8M80.7 583.3h0.8M88.7 596.9h0.8M87.8 575.1h0.8M68.1 595.9h0.8M84.5 574.2h0.8M90.5 576.4h0.8M91.6 585.8h0.8M61.2 589.5h0.8M55.6 598.0h0.8M81.5 598.0h0.8M63.4 574.4h0.8M77.9 593.0h0.8M93.7 588.8h0.8M70.2 579.5h0.8M65.0 594.1h0.8M73.4 598.7h0.8M81.8 583.0h0.8M58.7 599.4h0.8M70.3 569.8h0.8M60.0 571.2h0.8M82.0 593.7h0.8M89.0 576.5h0.8M70.1 587.0h0.8M69.9 583.6h0.8M76.9 570.5h0.8M63.4 593.3h0.8M64.8 592.8h0.8M68.2 570.4h0.8M73.5 574.7h0.8M57.9 595.0h0.8M85.7 599.2h0.8M78.5 597.6h0.8M66.9 583.8h0.8M57.7 578.8h0.8M86.2 581.7h0.8M59.9 571.6h0.8M60.0 583.6h0.8M59.9 573.7h0.8M57.9 571.1h0.8M92.1 579.3h0.8M65.7 567.4h0.8M67.2 582.6h0.8M89.1 591.1h0.8M80.2 589.4h0.8M62.3 601.6h0.8M72.5 598.2h0.8M91.2 588.8h0.8M70.1 598.7h0.8M84.0 581.7h0.8M58.5 595.0h0.8M84.7 575.7h0.8M86.7 584.8h0.8M88.8 601.7h0.8M82.5 587.5h0.8M69.9 584.0h0.8M57.2 594.5h0.8M76.0 576.7h0.8M85.9 596.2h0.8M62.4 565.7h0.8M65.5 573.9h0.8M76.7 571.6h0.8M85.6 574.7h0.8M91.7 600.5h0.8M59.7 565.9h0.8M62.1 576.2h0.8M87.7 586.5h0.8M81.2 591.4h0.8M84.4 594.0h0.8M95.9 579.4h0.8M93.5 573.3h0.8M89.5 597.0h0.8M86.8 569.6h0.8M70.9 567.4h0.8M81.1 573.7h0.8M62.2 583.5h0.8M86.0 600.3h0.8M85.9 592.3h0.8M84.4 586.1h0.8M73.0 584.5h0.8M70.2 591.0h0.8M71.9 588.5h0.8M55.9 577.6h0.8M89.5 568.5h0.8M77.0 572.5h0.8M70.6 594.4h0.8M77.2 588.8h0.8M84.4 594.9h0.8M70.3 566.7h0.8M89.0 598.8h0.8M92.7 579.3h0.8M70.6 599.7h0.8M60.2 587.3h0.8M86.1 585.5h0.8M95.7 595.7h0.8M60.6 588.5h0.8M84.1 590.3h0.8M88.8 570.9h0.8M92.7 587.7h0.8M59.6 578.4h0.8M58.3 567.8h0.8M95.5 570.0h0.8M59.3 583.0h0.8M61.8 574.8h0.8M78.4 593.7h0.8M73.0 569.6h0.8M85.6 565.5h0.8M62.4 602.4h0.8M92.4 576.7h0.8M63.5 584.1h0.8M86.4 572.9h0.8M57.3 572.8h0.8M74.1 580.1h0.8M55.9 594.6h0.8M67.5 566.5h0.8M67.5 596.4h0.8M84.4 602.1h0.8M73.4 586.0h0.8M56.9 578.5h0.8M95.8 573.8h0.8M91.4 571.9h0.8M92.5 577.1h0.8M64.7 596.9h0.8M70.9 565.1h0.8M63.9 594.5h0.8M59.7 590.0h0.8M55.9 565.7h0.8M75.4 567.6h0.8M59.6 592.6h0.8M61.8 590.2h0.8M90.2 576.8h0.8M74.6 597.3h0.8M62.1 572.9h0.8M82.3 581.0h0.8M65.5 569.3h0.8M76.4 589.2h0.8M66.2 568.3h0.8M75.9 571.7h0.8M80.6 593.7h0.8M76.8 583.8h0.8M70.9 589.8h0.8M87.3 592.5h0.8M90.7 587.7h0.8M61.9 572.4h0.8M60.2 591.2h0.8M59.2 569.3h0.8M95.2 575.1h0.8M93.6 581.8h0.8M64.1 569.3h0.8M94.8 569.0h0.8M63.1 589.5h0.8M75.5 592.8h0.8M75.1 578.9h0.8M92.5 579.6h0.8M56.2 572.8h0.8M67.6 584.6h0.8M79.4 586.8h0.8M57.3 600.0h0.8M64.3 566.5h0.8M73.8 599.1h0.8M91.1 602.1h0.8M86.1 578.0h0.8M88.9 592.2h0.8M86.1 595.9h0.8M83.9 589.4h0.8M89.8 575.8h0.8M82.8 588.4h0.8M85.0 597.9h0.8M67.0 569.0h0.8M61.5 583.0h0.8M85.9 565.8h0.8M61.4 596.7h0.8M92.7 594.2h0.8M79.3 566.7h0.8M68.2 593.0h0.8M93.4 590.9h0.8M60.9 569.7h0.8M75.9 584.7h0.8M58.3 590.9h0.8M94.6 577.6h0.8M78.4 583.9h0.8M87.9 601.6h0.8M66.2 588.8h0.8M87.8 583.8h0.8M83.7 567.5h0.8M81.2 569.5h0.8M93.9 596.9h0.8M72.5 592.8h0.8M71.7 596.3h0.8M83.2 586.7h0.8M89.2 586.6h0.8M68.4 584.9h0.8M82.3 592.6h0.8M63.2 577.4h0.8M77.4 583.6h0.8M86.4 582.6h0.8M57.2 589.8h0.8M84.7 573.1h0.8M55.1 565.9h0.8M94.3 568.3h0.8M73.9 571.7h0.8M71.5 597.1h0.8M84.4 591.9h0.8M76.2 593.1h0.8M84.8 581.7h0.8M58.0 568.9h0.8M77.9 582.4h0.8M77.7 597.4h0.8M93.2 584.1h0.8M56.1 588.7h0.8M73.3 579.0h0.8M80.7 570.6h0.8M77.4 588.5h0.8M57.6 583.2h0.8M79.1 578.0h0.8M63.7 574.7h0.8M62.6 591.1h0.8M91.0 576.9h0.8M62.7 586.6h0.8M73.4 574.7h0.8M85.6 593.3h0.8M83.9 579.1h0.8M77.5 582.9h0.8M88.0 599.8h0.8M73.8 591.9h0.8M80.2 592.6h0.8M88.5 577.7h0.8M82.6 596.5h0.8M81.1 579.5h0.8M71.4 602.1h0.8M77.7 598.6h0.8M70.9 589.7h0.8M85.4 596.2h0.8M70.3 585.4h0.8M73.9 592.5h0.8M85.9 569.7h0.8M75.4 602.1h0.8M68.5 595.0h0.8M88.8 570.3h0.8M70.3 574.1h0.8M89.6 586.6h0.8M87.1 593.6h0.8M73.1 570.6h0.8M84.1 601.0h0.8M55.9 578.0h0.8M70.7 602.3h0.8M90.2 593.2h0.8M78.6 583.2h0.8M77.6 578.6h0.8M82.1 568.6h0.8M82.6 568.3h0.8M78.7 588.6h0.8M72.0 594.0h0.8M62.1 599.0h0.8M66.6 578.7h0.8M66.7 600.2h0.8M72.4 576.1h0.8M96.0 600.2h0.8M69.1 599.5h0.8M73.1 570.8h0.8M69.9 597.3h0.8M78.6 591.4h0.8M93.8 591.3h0.8M91.4 596.5h0.8M70.2 585.1h0.8M65.6 584.0h0.8M91.2 578.8h0.8M75.0 597.4h0.8M82.9 598.8h0.8M57.5 571.0h0.8M90.5 594.0h0.8M67.5 575.3h0.8M75.0 571.9h0.8M62.7 572.4h0.8M71.9 586.5h0.8M88.9 575.5h0.8M88.8 574.1h0.8M74.2 568.7h0.8M86.4 577.2h0.8M73.5 594.0h0.8M70.0 565.8h0.8M77.2 583.1h0.8M62.9 587.6h0.8M67.6 566.9h0.8M83.8 576.0h0.8M86.5 599.0h0.8M56.9 602.3h0.8M84.9 596.9h0.8M88.4 571.4h0.8M73.0 593.7h0.8M57.1 581.9h0.8M82.8 571.4h0.8M64.7 583.0h0.8M81.2 599.6h0.8M70.1 597.9h0.8M80.9 579.7h0.8M65.2 567.4h0.8M74.3 598.8h0.8M76.3 602.0h0.8M80.7 584.2h0.8M62.9 573.4h0.8M94.4 585.4h0.8M66.5 591.1h0.8M67.2 583.1h0.8M65.1 578.2h0.8M57.3 574.3h0.8M72.1 576.1h0.8M86.5 566.9h0.8M83.9 574.6h0.8M62.6 600.7h0.8M60.2 565.3h0.8M67.8 592.3h0.8M86.4 594.6h0.8M74.8 580.2h0.8M92.8 587.3h0.8M81.7 573.3h0.8M80.3 590.1h0.8M86.4 591.5h0.8M85.6 592.5h0.8M68.8 583.4h0.8M65.2 601.4h0.8M72.7 597.5h0.8M74.8 586.5h0.8M60.4 590.6h0.8M72.8 575.3h0.8M81.1 600.4h0.8M60.1 589.2h0.8M60.2 598.6h0.8M61.7 575.8h0.8M66.3 601.8h0.8M94.4 569.0h0.8M55.6 584.9h0.8M62.1 569.1h0.8M61.3 572.1h0.8M74.2 593.7h0.8M55.1 567.5h0.8M73.5 579.4h0.8M61.3 572.2h0.8M65.7 596.9h0.8M87.4 568.1h0.8M62.1 577.6h0.8M80.1 597.1h0.8M71.4 590.8h0.8M71.8 591.4h0.8M88.4 602.2h0.8M61.2 565.9h0.8M92.8 589.9h0.8M91.6 592.9h0.8M82.2 593.1h0.8M56.6 591.8h0.8M82.0 567.7h0.8M79.4 568.1h0.8M86.5 594.0h0.8M63.4 587.9h0.8M94.1 574.9h0.8M91.3 565.3h0.8M59.2 585.0h0.8M67.6 568.4h0.8M55.8 593.1h0.8M89.0 577.8h0.8M92.5 595.3h0.8M95.6 568.6h0.8M79.9 583.5h0.8M82.1 568.7h0.8M82.7 594.3h0.8M78.2 586.0h0.8M94.0 573.8h0.8M79.7 601.1h0.8M68.4 590.6h0.8M75.8 577.6h0.8M55.3 597.1h0.8M84.6 579.2h0.8M83.3 600.3h0.8M72.0 576.1h0.8M89.8 601.9h0.8M85.9 567.3h0.8M68.5 592.5h0.8M57.7 575.9h0.8M60.0 580.9h0.8M62.1 588.9h0.8M67.1 566.7h0.8M73.1 573.4h0.8M93.0 568.9h0.8M66.1 592.7h0.8M91.8 573.3h0.8M82.7 583.7h0.8M89.9 577.3h0.8M71.2 573.9h0.8M54.6 600.1h0.8M87.2 584.0h0.8M64.7 589.4h0.8M60.4 591.4h0.8M87.7 595.8h0.8M83.0 574.9h0.8M63.3 567.9h0.8M65.6 582.5h0.8M93.5 571.4h0.8M65.6 565.8h0.8M83.6 599.5h0.8M59.9 588.5h0.8M88.3 580.5h0.8M59.4 570.1h0.8M75.9 593.5h0.8M56.0 585.0h0.8M77.3 571.5h0.8M89.6 601.8h0.8M58.0 600.7h0.8M65.9 599.8h0.8M86.2 596.0h0.8M79.7 584.9h0.8M67.5 576.3h0.8M80.6 589.4h0.8M73.4 570.7h0.8M90.3 588.1h0.8M66.7 567.5h0.8M85.9 565.5h0.8M80.9 591.8h0.8M85.2 577.9h0.8M70.2 591.1h0.8M84.6 594.2h0.8M83.5 596.3h0.8M70.6 588.1h0.8M55.6 596.8h0.8M94.5 589.7h0.8M84.1 599.8h0.8M63.0 598.6h0.8M84.8 566.6h0.8M66.1 575.0h0.8M74.0 579.6h0.8M90.2 574.5h0.8M73.1 571.6h0.8M66.5 597.8h0.8M67.2 565.9h0.8M57.7 571.8h0.8M63.6 593.5h0.8M65.8 573.4h0.8M61.7 574.7h0.8M57.1 601.3h0.8M73.8 593.6h0.8M63.4 581.8h0.8M85.2 570.1h0.8M92.8 575.1h0.8M65.8 601.8h0.8M78.2 594.7h0.8M75.5 567.6h0.8M57.6 591.5h0.8M59.7 579.1h0.8M91.2 592.0h0.8M74.2 576.1h0.8M87.9 569.9h0.8M57.3 565.7h0.8M79.2 576.1h0.8M90.4 597.3h0.8M90.5 598.4h0.8M54.7 590.6h0.8M76.2 593.0h0.8M69.8 572.3h0.8M86.0 578.3h0.8M57.5 598.7h0.8M65.5 602.0h0.8M88.2 581.6h0.8M74.0 594.1h0.8M73.3 600.0h0.8M94.7 602.4h0.8M67.8 576.1h0.8M56.2 589.5h0.8M70.8 579.6h0.8M60.9 582.4h0.8M57.9 582.3h0.8M78.1 575.4h0.8M94.1 565.7h0.8M78.5 593.7h0.8M81.4 591.1h0.8M67.9 596.5h0.8M78.2 570.7h0.8M85.7 573.9h0.8M79.0 587.4h0.8M87.8 600.1h0.8M77.3 582.7h0.8M62.7 572.5h0.8M78.7 587.3h0.8M74.9 600.9h0.8M61.4 597.6h0.8M80.2 598.7h0.8M88.4 580.4h0.8M60.1 574.8h0.8M77.1 597.6h0.8M84.9 594.6h0.8M71.2 596.9h0.8M65.7 579.7h0.8M69.9 575.7h0.8M77.0 574.0h0.8M83.0 597.6h0.8M77.7 599.5h0.8M58.9 578.8h0.8M88.4 597.8h0.8M92.8 579.3h0.8M58.7 581.8h0.8M64.9 586.2h0.8M61.7 573.3h0.8M89.7 575.0h0.8M92.3 575.0h0.8M56.3 574.8h0.8M68.3 584.3h0.8M62.5 568.8h0.8M74.0 594.3h0.8M92.7 571.6h0.8M57.4 581.6h0.8M61.6 589.1h0.8M74.7 570.2h0.8M76.2 580.3h0.8M85.4 586.1h0.8M72.7 585.6h0.8M60.4 598.5h0.8M69.2 594.4h0.8M95.3 569.5h0.8M85.7 596.2h0.8M59.3 585.6h0.8M88.0 590.4h0.8M67.4 571.0h0.8M86.9 582.7h0.8M55.0 591.2h0.8M90.7 594.9h0.8M61.2 595.2h0.8M73.4 573.1h0.8M82.0 596.2h0.8M75.6 586.3h0.8M61.4 590.1h0.8M60.3 596.9h0.8M66.3 580.2h0.8M56.7 599.5h0.8M63.5 598.0h0.8M59.9 595.3h0.8M73.8 579.2h0.8M69.3 584.8h0.8M78.9 571.5h0.8M66.2 593.5h0.8M55.9 598.4h0.8M68.2 571.0h0.8M85.8 592.9h0.8M65.1 591.0h0.8M71.3 566.4h0.8M85.8 599.4h0.8M71.4 583.0h0.8M91.3 575.1h0.8M92.6 566.1h0.8M67.4 594.3h0.8M85.0 577.7h0.8M65.0 584.3h0.8M60.3 572.3h0.8M72.7 587.8h0.8M79.5 579.9h0.8M93.3 595.2h0.8M60.6 590.0h0.8M84.1 592.1h0.8M74.2 574.4h0.8M60.0 567.4h0.8M94.9 598.0h0.8M83.4 600.1h0.8M59.8 589.1h0.8M92.1 599.6h0.8M58.8 591.5h0.8M58.3 587.7h0.8M68.3 580.7h0.8M93.4 578.3h0.8M55.9 583.4h0.8M92.6 573.3h0.8M79.9 581.0h0.8M57.3 584.0h0.8M78.1 566.2h0.8M73.5 579.8h0.8M77.9 575.7h0.8M85.1 588.8h0.8M82.7 595.4h0.8M95.9 588.0h0.8M61.0 589.9h0.8M88.2 588.0h0.8M71.6 574.6h0.8M87.0 579.1h0.8M91.5 596.7h0.8M95.7 600.5h0.8M65.5 571.8h0.8M73.3 565.4h0.8M93.6 601.1h0.8M93.7 597.2h0.8M70.0 587.8h0.8M93.5 595.6h0.8M71.3 587.3h0.8M70.1 598.9h0.8M85.9 574.1h0.8M74.1 581.7h0.8M73.1 590.1h0.8M70.5 573.1h0.8M72.5 591.8h0.8M60.3 574.8h0.8M57.0 591.6h0.8M85.8 595.2h0.8M77.9 580.9h0.8M82.4 602.1h0.8M87.8 588.7h0.8M64.0 593.4h0.8M64.2 565.8h0.8M66.0 569.2h0.8M67.1 591.7h0.8M86.1 600.4h0.8M70.0 588.6h0.8M67.9 599.2h0.8M80.9 567.2h0.8M62.2 598.4h0.8M58.9 597.9h0.8M83.4 588.6h0.8M85.9 581.1h0.8M66.8 591.4h0.8M80.9 574.1h0.8M55.9 590.0h0.8M71.3 591.0h0.8M78.5 585.2h0.8M65.0 574.8h0.8M69.0 565.1h0.8M79.8 572.3h0.8M79.0 596.3h0.8M60.9 573.0h0.8M83.8 567.8h0.8M57.8 574.2h0.8M94.7 584.5h0.8M62.9 587.0h0.8M65.0 597.9h0.8M62.8 597.1h0.8M95.6 601.3h0.8M66.4 598.2h0.8M79.6 581.9h0.8M95.6 570.3h0.8M93.9 600.8h0.8M56.3 573.6h0.8M76.1 588.3h0.8M79.5 574.9h0.8M83.6 595.6h0.8M68.4 572.5h0.8M68.1 580.8h0.8M54.7 573.2h0.8M56.0 597.3h0.8M77.3 588.2h0.8M57.6 588.7h0.8M62.9 576.8h0.8M68.3 571.6h0.8M57.4 597.2h0.8M55.8 593.7h0.8M93.0 592.5h0.8M72.6 602.4h0.8M63.0 586.0h0.8M83.9 571.7h0.8M54.9 587.9h0.8M64.7 575.8h0.8M94.4 584.2h0.8M91.8 582.2h0.8M80.9 586.1h0.8M58.4 599.6h0.8M67.7 595.4h0.8M55.7 580.6h0.8M63.6 595.6h0.8M55.6 597.3h0.8M59.7 594.0h0.8M80.8 585.7h0.8M58.7 598.7h0.8M61.0 583.4h0.8M92.0 569.0h0.8M68.4 575.2h0.8M68.3 589.7h0.8M58.1 579.2h0.8M87.5 580.9h0.8M82.6 580.1h0.8M77.2 572.2h0.8M80.1 568.5h0.8M58.7 566.8h0.8M65.3 590.2h0.8M78.7 577.2h0.8M94.0 582.1h0.8M88.4 600.1h0.8M81.1 588.5h0.8M76.0 595.4h0.8M55.1 593.6h0.8M91.5 600.8h0.8M57.3 567.5h0.8M59.9 579.4h0.8M83.3 600.6h0.8M88.2 582.4h0.8M87.1 600.5h0.8M73.3 571.9h0.8M61.8 567.3h0.8M56.0 598.6h0.8M89.8 580.4h0.8M95.1 584.1h0.8M64.6 600.1h0.8M90.4 573.2h0.8M71.2 601.3h0.8M67.4 579.9h0.8M75.5 574.3h0.8M54.8 573.8h0.8M72.9 584.4h0.8M62.8 582.5h0.8M84.1 598.2h0.8M75.4 566.9h0.8M90.6 566.6h0.8M91.7 570.7h0.8M67.6 587.7h0.8M66.1 594.3h0.8M93.5 583.0h0.8M75.4 588.0h0.8M58.5 589.1h0.8M56.4 565.7h0.8M95.6 574.2h0.8M78.5 602.4h0.8M56.8 577.4h0.8M75.7 600.5h0.8M75.4 583.5h0.8M72.6 573.3h0.8M94.0 565.1h0.8M93.9 573.2h0.8M59.7 577.1h0.8M60.8 581.5h0.8M71.4 581.8h0.8M89.1 585.6h0.8M80.4 582.8h0.8M84.8 566.2h0.8M78.4 575.0h0.8M63.2 601.1h0.8M88.4 566.0h0.8M55.1 592.5h0.8M83.5 582.9h0.8M62.6 591.5h0.8M74.1 577.5h0.8M95.0 578.9h0.8M76.9 584.4h0.8M56.9 599.1h0.8M72.3 577.3h0.8M81.9 568.2h0.8M56.9 566.4h0.8M65.0 598.1h0.8M55.3 576.8h0.8M76.9 569.5h0.8M70.3 587.4h0.8M75.4 596.7h0.8M66.8 587.5h0.8M81.8 570.7h0.8M61.7 580.2h0.8M92.1 575.0h0.8M94.3 565.6h0.8M75.0 601.2h0.8M73.8 582.2h0.8M90.2 570.1h0.8M66.5 598.2h0.8M87.8 601.9h0.8M66.4 595.6h0.8M84.4 574.5h0.8M68.4 572.1h0.8M79.5 584.7h0.8M92.9 586.9h0.8M56.8 597.9h0.8M88.0 601.3h0.8M77.0 599.1h0.8M70.2 577.8h0.8M69.0 587.0h0.8M57.4 569.6h0.8M65.2 584.5h0.8M80.4 567.7h0.8M58.5 569.2h0.8M82.3 569.6h0.8M94.4 576.3h0.8M95.2 576.6h0.8M91.4 591.4h0.8M88.0 567.9h0.8M61.9 569.2h0.8M94.8 589.6h0.8M62.9 590.2h0.8M90.6 591.6h0.8M90.9 592.0h0.8M80.3 589.9h0.8M76.1 585.7h0.8M62.8 592.8h0.8M76.1 568.1h0.8M66.6 572.9h0.8M59.7 592.8h0.8M59.8 572.2h0.8M87.7 584.9h0.8M92.8 574.8h0.8M60.4 581.2h0.8M55.1 596.3h0.8M65.4 589.8h0.8M60.1 581.7h0.8M62.3 575.3h0.8M78.7 595.2h0.8M72.0 589.6h0.8M72.3 581.5h0.8M63.0 597.6h0.8M82.1 591.0h0.8M66.5 601.8h0.8M71.1 589.9h0.8M73.7 598.7h0.8M92.0 585.6h0.8M64.7 591.6h0.8M84.3 596.6h0.8M67.3 568.4h0.8M91.6 582.8h0.8M70.9 587.7h0.8M75.5 567.2h0.8M90.9 594.6h0.8M82.4 591.8h0.8M58.4 600.1h0.8M60.2 579.0h0.8M95.6 582.6h0.8M55.7 599.2h0.8M67.0 580.4h0.8M94.3 596.3h0.8M55.1 580.8h0.8M61.2 577.7h0.8M63.4 575.4h0.8M58.1 573.0h0.8M74.1 581.2h0.8M79.1 571.1h0.8M67.7 596.0h0.8M59.0 601.5h0.8M88.2 568.7h0.8M87.9 567.1h0.8M77.8 565.1h0.8M60.2 600.0h0.8M77.0 567.8h0.8M80.6 590.5h0.8M72.3 576.4h0.8M90.4 572.4h0.8M70.7 574.2h0.8M75.7 590.9h0.8M59.2 565.7h0.8M77.9 597.4h0.8M86.3 586.3h0.8M84.8 573.8h0.8M65.2 572.8h0.8M95.7 589.6h0.8M84.4 588.6h0.8M72.1 576.9h0.8M71.7 577.5h0.8M86.8 582.4h0.8M61.8 599.1h0.8M81.0 585.2h0.8M84.3 596.5h0.8M75.9 589.0h0.8M90.7 586.1h0.8M73.9 583.4h0.8M73.8 590.5h0.8M66.3 583.4h0.8M92.7 592.2h0.8M67.6 571.8h0.8M83.4 577.1h0.8M71.5 597.7h0.8M93.3 579.8h0.8M93.8 596.6h0.8M55.7 600.2h0.8M95.8 586.7h0.8M79.6 568.8h0.8M57.6 593.4h0.8M75.1 590.0h0.8M56.6 575.9h0.8M77.3 597.4h0.8M62.2 583.1h0.8M69.8 567.1h0.8M67.1 567.5h0.8M79.5 573.6h0.8M88.6 587.9h0.8M93.4 595.6h0.8M68.1 568.7h0.8M78.1 565.8h0.8M54.7 588.3h0.8M69.9 580.4h0.8M94.4 581.6h0.8M59.4 595.8h0.8M90.6 599.5h0.8M81.6 601.3h0.8M66.7 594.2h0.8M86.8 565.1h0.8M66.5 570.6h0.8M91.6 587.0h0.8M57.9 600.8h0.8M59.4 568.1h0.8M85.6 584.3h0.8M73.1 579.9h0.8M60.6 580.3h0.8M75.8 575.1h0.8M66.8 575.2h0.8M77.3 573.9h0.8M85.4 568.9h0.8M90.1 585.8h0.8M56.9 581.7h0.8M79.1 591.7h0.8M95.3 589.0h0.8M73.6 600.7h0.8M86.4 577.7h0.8M58.5 598.1h0.8M90.8 579.4h0.8M78.7 589.8h0.8M91.4 595.2h0.8M87.2 579.9h0.8M90.6 581.7h0.8M56.9 588.7h0.8M84.2 569.2h0.8M62.7 584.9h0.8M65.5 568.6h0.8M68.0 573.4h0.8M79.0 588.4h0.8M80.6 601.5h0.8M93.2 602.5h0.8M55.0 574.8h0.8M62.5 570.5h0.8M69.5 584.4h0.8M88.4 581.6h0.8M77.3 579.2h0.8M75.7 593.8h0.8M86.0 591.6h0.8M81.7 586.1h0.8M66.5 588.3h0.8M58.1 586.8h0.8M73.7 590.4h0.8M91.0 599.8h0.8M79.3 600.5h0.8M56.7 601.7h0.8M72.8 597.2h0.8M70.5 568.9h0.8M78.7 581.9h0.8M78.9 594.3h0.8M94.0 576.0h0.8M68.5 587.8h0.8M71.4 567.1h0.8M80.0 572.6h0.8M91.3 580.0h0.8M83.8 567.6h0.8M74.0 580.9h0.8M88.3 573.6h0.8M74.6 597.3h0.8M94.5 577.0h0.8M66.2 579.3h0.8M59.8 595.1h0.8M89.0 586.0h0.8M66.8 566.9h0.8M89.7 573.2h0.8M79.8 587.9h0.8M75.6 572.5h0.8M58.1 574.3h0.8M87.1 588.4h0.8M57.2 583.5h0.8M94.6 575.1h0.8M90.9 586.0h0.8M67.1 588.8h0.8M59.8 566.5h0.8M91.3 575.3h0.8M74.4 576.5h0.8M59.7 598.0h0.8M75.2 566.9h0.8M64.7 578.0h0.8M71.4 572.3h0.8M81.1 591.1h0.8M92.5 595.4h0.8M87.7 567.2h0.8M61.2 597.4h0.8M74.3 591.1h0.8M74.9 573.1h0.8M95.6 599.3h0.8M58.1 576.0h0.8M75.7 594.6h0.8M92.4 567.8h0.8M71.1 582.1h0.8M65.4 584.0h0.8M77.6 598.6h0.8M67.8 596.4h0.8M93.0 585.5h0.8M58.0 566.9h0.8M63.1 581.1h0.8M58.0 579.1h0.8M84.0 602.3h0.8M66.7 590.5h0.8M91.9 580.2h0.8M91.6 578.7h0.8M93.4 593.8h0.8M65.1 568.6h0.8M54.5 595.6h0.8M70.6 590.2h0.8M94.4 581.3h0.8M86.2 591.6h0.8M57.0 579.9h0.8M83.7 570.4h0.8M92.6 580.6h0.8M94.7 566.9h0.8M84.2 568.3h0.8M90.3 581.5h0.8M89.4 595.9h0.8M69.4 572.6h0.8M58.6 583.8h0.8M84.7 601.7h0.8M60.2 596.0h0.8M70.4 598.8h0.8M95.8 590.3h0.8M77.7 587.1h0.8M76.2 586.8h0.8M93.8 587.5h0.8M66.3 582.4h0.8M96.0 578.5h0.8M92.3 574.0h0.8M69.6 567.4h0.8M68.1 578.8h0.8M59.8 593.9h0.8M92.5 585.7h0.8M62.2 571.1h0.8M54.9 595.5h0.8M91.4 566.6h0.8M79.3 599.9h0.8M82.4 589.4h0.8M84.9 585.9h0.8M56.3 580.5h0.8M58.3 595.9h0.8M75.2 565.3h0.8M56.6 565.6h0.8M75.4 584.5h0.8M85.1 576.1h0.8M81.8 580.1h0.8M80.1 585.1h0.8M56.4 566.6h0.8M64.3 601.9h0.8M91.7 590.4h0.8M59.6 568.7h0.8M76.6 592.7h0.8M56.6 585.0h0.8M93.5 590.8h0.8M61.6 592.7h0.8M71.5 602.2h0.8M77.2 569.4h0.8M84.3 602.4h0.8M93.4 582.9h0.8M85.1 572.5h0.8M68.9 579.0h0.8M57.6 578.7h0.8M83.9 598.6h0.8M94.9 584.7h0.8M55.2 567.5h0.8M86.6 591.8h0.8M61.8 583.7h0.8M73.6 595.5h0.8M76.2 566.7h0.8M80.0 597.4h0.8M95.6 598.5h0.8M83.0 565.3h0.8M70.8 582.9h0.8M84.2 569.6h0.8M73.9 584.9h0.8M71.6 568.3h0.8M69.7 598.3h0.8M75.0 571.9h0.8M66.2 590.1h0.8M64.5 589.5h0.8M60.7 577.0h0.8M72.8 573.0h0.8M66.7 599.3h0.8M89.2 566.5h0.8M89.7 574.5h0.8M68.8 577.3h0.8M80.2 586.9h0.8M91.9 578.8h0.8M69.4 569.2h0.8M77.5 586.4h0.8M72.9 592.2h0.8M81.5 591.4h0.8M94.3 583.4h0.8M60.3 576.5h0.8M94.6 565.4h0.8M82.1 585.0h0.8M87.5 588.6h0.8M80.9 581.5h0.8M90.6 601.0h0.8M68.0 572.6h0.8M83.9 595.5h0.8M65.5 592.0h0.8M75.6 598.7h0.8M82.8 599.7h0.8M62.8 573.9h0.8M57.0 599.6h0.8M87.3 580.1h0.8M88.1 590.5h0.8M82.1 600.7h0.8M67.8 587.3h0.8M81.8 586.9h0.8M58.0 567.7h0.8M82.0 587.4h0.8M78.4 574.0h0.8M80.1 579.6h0.8M73.0 579.2h0.8M63.8 601.5h0.8M84.6 588.9h0.8M73.8 592.2h0.8M85.4 571.5h0.8M69.6 576.4h0.8M58.1 597.9h0.8M77.0 569.5h0.8M80.3 600.7h0.8M92.8 581.0h0.8M91.3 579.6h0.8M56.9 584.3h0.8M86.5 581.6h0.8M65.3 582.6h0.8M83.4 580.9h0.8M70.2 591.3h0.8M67.9 575.4h0.8M74.8 571.2h0.8M76.5 581.3h0.8M83.3 568.3h0.8M81.0 581.8h0.8M82.6 583.5h0.8M70.4 594.4h0.8M82.6 569.1h0.8M68.8 579.9h0.8M79.7 594.3h0.8M73.6 577.7h0.8M77.9 596.4h0.8M55.2 591.9h0.8M75.2 566.6h0.8M63.6 579.4h0.8M70.5 593.7h0.8M57.6 584.7h0.8M81.8 590.2h0.8M91.6 602.1h0.8M69.2 590.3h0.8M58.9 585.5h0.8M80.2 596.7h0.8M59.8 581.1h0.8M91.5 565.4h0.8M59.6 575.2h0.8M69.5 587.3h0.8M75.0 600.6h0.8M59.4 587.8h0.8M67.7 575.6h0.8M65.9 602.2h0.8M84.1 580.0h0.8M95.4 573.5h0.8M69.6 585.7h0.8M87.3 577.9h0.8M60.3 569.2h0.8M78.6 591.7h0.8M72.5 590.9h0.8M66.5 601.5h0.8M88.6 570.1h0.8M85.5 599.1h0.8M60.1 594.9h0.8M66.6 574.5h0.8M88.5 583.0h0.8M95.7 588.6h0.8M79.9 576.8h0.8M90.7 569.0h0.8M95.3 596.4h0.8M85.2 571.2h0.8M81.3 583.4h0.8M63.7 581.4h0.8M69.9 598.9h0.8M80.4 586.0h0.8M92.9 580.9h0.8M67.0 601.6h0.8M70.9 578.2h0.8M55.4 592.2h0.8M83.4 573.8h0.8M72.9 593.4h0.8M87.6 593.2h0.8M64.2 596.1h0.8M81.9 583.2h0.8M82.4 573.3h0.8M73.8 588.7h0.8M62.3 599.1h0.8M71.2 576.6h0.8M85.4 565.8h0.8M62.4 571.9h0.8M58.2 600.0h0.8M73.7 565.2h0.8M64.2 567.0h0.8M87.7 568.7h0.8M88.4 598.4h0.8M93.7 579.4h0.8M89.4 590.9h0.8M81.4 591.5h0.8M62.3 581.3h0.8M88.7 592.5h0.8M84.7 582.3h0.8M85.5 585.3h0.8M83.4 576.5h0.8M88.9 565.1h0.8M66.9 587.2h0.8M82.4 575.0h0.8M76.0 575.3h0.8M68.5 598.0h0.8M68.1 578.6h0.8M61.0 568.8h0.8M74.9 588.6h0.8M69.8 585.2h0.8M72.0 567.2h0.8M89.8 578.1h0.8M82.8 587.9h0.8M82.7 575.5h0.8M95.3 602.0h0.8M63.5 595.0h0.8M75.6 583.9h0.8M58.3 599.3h0.8M70.8 566.3h0.8M93.9 573.4h0.8M58.1 599.3h0.8M85.9 584.1h0.8M90.4 571.4h0.8M75.6 586.4h0.8M87.6 592.4h0.8M72.8 587.6h0.8M69.2 566.7h0.8M75.5 566.4h0.8M62.6 580.3h0.8M67.3 565.6h0.8M67.2 568.2h0.8M95.5 589.1h0.8M68.4 581.4h0.8M64.0 568.2h0.8M93.5 597.9h0.8M60.3 578.8h0.8M94.6 598.1h0.8M89.9 587.8h0.8M81.4 588.3h0.8M72.3 580.9h0.8M62.7 590.2h0.8M58.9 574.1h0.8M58.8 574.7h0.8M69.0 597.8h0.8M71.4 572.6h0.8M92.8 579.5h0.8M76.8 592.9h0.8M95.6 577.4h0.8M84.4 578.7h0.8M60.6 599.1h0.8M77.5 572.7h0.8M61.1 574.0h0.8M56.1 598.3h0.8M93.7 575.3h0.8M68.5 577.4h0.8M62.4 598.1h0.8M58.7 577.0h0.8M81.6 602.4h0.8M73.6 595.8h0.8M55.0 596.8h0.8M84.2 573.5h0.8M65.2 573.1h0.8M86.9 593.2h0.8M74.8 596.0h0.8M76.7 573.4h0.8M73.5 572.7h0.8M82.6 574.1h0.8M95.6 570.2h0.8M87.6 580.8h0.8M57.4 583.9h0.8M75.0 588.6h0.8M64.2 567.1h0.8M58.7 572.2h0.8M62.6 569.4h0.8M64.8 575.1h0.8M94.3 572.0h0.8M85.4 600.1h0.8M89.9 579.0h0.8M83.5 570.2h0.8M67.6 590.0h0.8M70.7 601.5h0.8M72.8 594.8h0.8M66.7 589.3h0.8M72.0 579.2h0.8M86.5 580.1h0.8M57.6 576.3h0.8M66.0 595.2h0.8M74.4 595.1h0.8M82.6 583.4h0.8M81.3 597.3h0.8M84.6 589.5h0.8M58.9 590.7h0.8M62.0 575.1h0.8M67.3 574.1h0.8M66.2 573.5h0.8M85.9 599.2h0.8M95.7 595.0h0.8M82.8 598.7h0.8M55.9 595.9h0.8M66.9 595.2h0.8M87.8 581.4h0.8M92.9 593.7h0.8M79.2 571.2h0.8M69.0 589.6h0.8M69.2 566.6h0.8M80.8 601.2h0.8M90.4 598.0h0.8M68.6 571.2h0.8M62.4 593.8h0.8M54.6 595.9h0.8M60.2 566.6h0.8M89.8 586.2h0.8M80.4 580.8h0.8M95.6 588.2h0.8M57.4 598.2h0.8M69.7 592.1h0.8M87.5 572.9h0.8M81.9 585.8h0.8M57.3 586.1h0.8M71.2 565.4h0.8M81.0 569.9h0.8M83.0 578.5h0.8M73.2 571.7h0.8M62.3 573.9h0.8M94.6 590.4h0.8M73.9 601.0h0.8M84.3 582.2h0.8M76.7 589.2h0.8M57.8 593.6h0.8M64.3 590.2h0.8M57.1 589.6h0.8M62.4 565.0h0.8M62.8 597.6h0.8M71.7 571.0h0.8M67.9 571.8h0.8M69.5 584.1h0.8M88.4 587.0h0.8M55.4 593.3h0.8M58.8 576.0h0.8M88.0 600.4h0.8M76.7 588.6h0.8M72.7 596.7h0.8M65.6 582.9h0.8M77.0 567.7h0.8M63.7 565.5h0.8M90.1 589.0h0.8M88.7 581.0h0.8M67.9 581.5h0.8M55.5 577.2h0.8M91.3 571.7h0.8M66.9 582.8h0.8M81.8 574.6h0.8M90.1 598.5h0.8M87.6 571.7h0.8M90.3 601.3h0.8M74.8 597.3h0.8M89.5 579.4h0.8M73.6 594.0h0.8M65.4 586.8h0.8M74.5 582.5h0.8M68.4 595.4h0.8M86.3 596.2h0.8M89.0 572.6h0.8M60.4 599.0h0.8M61.3 566.2h0.8M70.4 565.2h0.8M73.7 583.1h0.8M94.2 576.3h0.8M93.6 580.9h0.8M94.6 583.0h0.8M84.8 582.6h0.8M82.6 599.0h0.8M65.7 599.4h0.8M70.0 578.0h0.8M54.6 575.8h0.8M89.1 589.5h0.8M66.0 572.4h0.8M57.8 580.0h0.8M67.6 591.9h0.8M67.9 565.2h0.8M84.5 593.9h0.8M54.7 592.5h0.8M64.0 579.5h0.8M91.7 574.3h0.8M90.0 585.3h0.8M80.6 576.1h0.8M77.7 595.8h0.8M63.7 587.1h0.8M90.8 576.5h0.8M86.1 595.3h0.8M75.8 587.8h0.8M61.2 569.9h0.8M63.5 580.5h0.8M70.2 583.4h0.8M68.2 600.4h0.8M57.0 577.0h0.8M71.4 581.8h0.8M73.1 601.6h0.8M66.4 581.0h0.8M70.4 596.0h0.8M68.3 568.6h0.8M70.1 579.8h0.8M80.2 571.9h0.8M75.1 598.1h0.8M62.7 585.7h0.8M87.5 573.2h0.8M75.8 568.5h0.8M73.5 580.8h0.8M84.1 568.6h0.8M85.7 583.2h0.8M89.7 592.3h0.8M88.2 576.6h0.8M82.3 571.3h0.8M84.4 578.6h0.8M61.0 571.2h0.8M83.5 596.6h0.8M65.1 568.6h0.8M65.2 592.8h0.8M59.5 577.5h0.8M71.0 592.3h0.8M55.3 593.9h0.8M81.8 570.1h0.8M85.5 593.4h0.8M86.7 600.5h0.8M59.8 586.3h0.8M81.1 589.2h0.8M89.3 577.1h0.8M56.0 571.5h0.8M62.5 592.9h0.8M65.6 595.8h0.8M73.7 572.7h0.8M61.6 569.3h0.8M76.9 578.2h0.8M68.8 588.5h0.8M81.7 578.7h0.8M76.5 601.2h0.8M83.0 594.7h0.8M64.7 599.4h0.8M83.8 587.5h0.8M85.0 593.3h0.8M84.5 600.7h0.8M57.3 566.3h0.8M93.8 586.6h0.8M78.4 572.0h0.8M65.8 594.8h0.8M72.5 573.7h0.8M76.0 592.8h0.8M76.0 577.5h0.8M64.8 589.4h0.8M65.5 590.5h0.8M69.6 599.1h0.8M86.9 597.7h0.8M72.7 581.4h0.8M56.1 590.8h0.8M73.3 571.8h0.8M62.9 568.7h0.8M55.0 591.8h0.8M95.0 599.0h0.8M66.7 593.0h0.8M76.8 584.4h0.8M69.4 588.6h0.8M56.7 592.4h0.8M91.9 586.3h0.8M93.3 578.6h0.8M62.2 596.9h0.8M71.8 578.8h0.8M70.0 598.9h0.8M61.4 595.0h0.8M82.0 594.7h0.8M87.0 596.3h0.8M86.0 602.0h0.8M82.5 602.1h0.8M55.2 583.8h0.8M64.0 579.1h0.8M75.9 592.5h0.8M83.7 601.3h0.8M70.5 588.6h0.8M73.1 566.0h0.8M89.4 566.4h0.8M55.5 582.4h0.8M65.6 594.5h0.8M66.5 598.3h0.8M95.7 579.1h0.8M63.9 584.4h0.8M56.5 584.2h0.8M71.8 568.5h0.8M81.5 565.0h0.8M60.9 584.6h0.8M89.3 583.9h0.8" stroke="#707070" stroke-width="0.8" fill="none" stroke-opacity="0.7" clip-path="url(#clipE)"/>
<path d="M89.9 596.8h0.8M61.9 573.9h0.8M89.5 584.2h0.8M65.6 586.5h0.8M76.6 595.2h0.8M83.5 568.0h0.8M60.5 579.9h0.8M93.3 583.9h0.8M93.8 587.9h0.8M94.3 572.0h0.8M54.6 586.3h0.8M80.9 591.6h0.8M82.0 593.0h0.8M90.6 575.0h0.8M62.8 582.6h0.8M59.6 577.6h0.8M87.7 580.8h0.8M65.2 579.9h0.8M57.2 600.6h0.8M58.3 567.5h0.8M81.0 600.6h0.8M76.5 568.2h0.8M85.2 569.8h0.8M87.6 574.3h0.8M54.6 577.2h0.8M92.8 597.4h0.8M90.6 596.9h0.8M92.8 600.2h0.8M86.0 580.8h0.8M70.2 567.6h0.8M64.7 589.2h0.8M91.9 598.9h0.8M71.7 570.8h0.8M74.5 596.4h0.8M83.1 567.1h0.8M82.7 593.0h0.8M82.9 584.5h0.8M80.1 599.2h0.8M75.4 598.1h0.8M85.9 568.7h0.8M70.7 584.7h0.8M65.3 575.6h0.8M91.8 582.6h0.8M89.2 569.4h0.8M83.9 579.8h0.8M61.4 581.5h0.8M56.4 567.1h0.8M92.3 583.8h0.8M93.2 598.8h0.8M65.7 569.2h0.8M80.3 600.5h0.8M55.3 584.4h0.8M70.6 574.5h0.8M83.4 601.4h0.8M69.3 583.8h0.8M87.6 582.5h0.8M91.9 580.4h0.8M60.1 598.3h0.8M82.7 571.6h0.8M69.9 574.5h0.8M61.6 577.1h0.8M68.8 569.2h0.8M74.3 597.0h0.8M91.2 584.3h0.8M85.9 588.4h0.8M54.7 598.4h0.8M56.8 584.6h0.8M95.2 576.8h0.8M77.3 585.9h0.8M79.5 584.8h0.8M69.0 577.6h0.8M88.6 575.2h0.8M77.3 579.7h0.8M78.8 593.1h0.8M64.7 572.9h0.8M86.3 602.4h0.8M63.3 575.4h0.8M60.1 576.7h0.8M79.0 571.4h0.8M88.6 580.9h0.8M66.5 580.2h0.8M66.9 591.2h0.8M60.6 598.8h0.8M79.2 575.8h0.8M86.1 595.7h0.8M59.7 577.9h0.8M76.4 581.4h0.8M76.6 571.6h0.8M58.9 598.7h0.8M76.2 580.3h0.8M65.6 591.9h0.8M62.7 567.9h0.8M94.9 591.7h0.8M58.2 575.0h0.8M68.6 583.0h0.8M79.9 590.9h0.8M71.1 573.1h0.8M55.2 585.7h0.8M90.0 596.7h0.8M64.3 572.8h0.8M71.4 583.6h0.8M91.8 573.5h0.8M94.3 572.1h0.8M92.0 584.4h0.8M71.4 583.2h0.8M85.0 589.9h0.8M89.3 597.5h0.8M62.6 592.1h0.8M94.2 578.9h0.8M58.7 584.3h0.8M81.5 590.9h0.8M64.3 596.8h0.8M63.3 591.2h0.8M60.1 584.8h0.8M93.1 571.7h0.8M59.8 597.8h0.8M91.9 577.0h0.8M61.3 581.4h0.8M68.0 598.4h0.8M63.2 574.4h0.8M95.0 599.4h0.8M58.3 575.1h0.8M89.8 570.1h0.8M66.8 585.2h0.8M93.5 595.2h0.8M85.3 581.3h0.8M65.3 596.9h0.8M75.4 581.1h0.8M61.1 595.9h0.8M71.2 571.0h0.8M55.6 577.1h0.8M82.4 571.3h0.8M78.8 593.3h0.8M65.6 583.7h0.8M55.0 590.3h0.8M93.0 575.5h0.8M59.6 593.1h0.8M67.9 602.2h0.8M55.5 569.8h0.8M70.2 578.3h0.8M71.0 597.9h0.8M76.4 597.2h0.8M67.8 598.0h0.8M64.7 575.0h0.8M86.7 587.0h0.8M65.9 570.1h0.8M68.1 582.3h0.8M74.6 587.5h0.8M65.7 576.2h0.8M84.3 582.0h0.8M57.9 580.0h0.8M67.7 570.0h0.8M71.8 569.4h0.8M65.1 594.7h0.8M88.9 567.1h0.8M69.0 602.0h0.8M71.7 598.8h0.8M73.7 602.0h0.8M88.5 594.9h0.8M63.5 567.1h0.8M88.5 571.1h0.8M93.4 578.3h0.8M65.4 573.4h0.8M61.4 569.1h0.8M86.8 599.6h0.8M67.3 599.3h0.8M63.8 594.2h0.8M57.7 576.0h0.8M79.7 597.3h0.8M92.9 596.1h0.8M90.6 578.5h0.8M78.6 571.5h0.8M72.5 571.8h0.8M94.5 581.5h0.8M81.6 596.5h0.8M93.7 569.7h0.8M82.7 582.3h0.8M83.1 579.6h0.8M83.2 598.7h0.8M59.7 572.4h0.8M64.9 590.3h0.8M57.2 578.5h0.8M92.7 590.0h0.8M95.3 596.2h0.8M79.3 596.3h0.8M60.9 597.0h0.8M59.6 577.4h0.8M72.8 576.8h0.8M70.5 571.4h0.8M62.5 576.1h0.8M58.2 571.2h0.8M81.0 594.8h0.8M87.0 568.7h0.8M57.1 573.8h0.8M67.2 595.1h0.8M66.8 594.3h0.8M76.7 601.6h0.8M79.3 580.6h0.8M71.3 568.6h0.8M90.0 595.7h0.8M70.5 577.2h0.8M66.9 594.4h0.8M85.9 567.7h0.8M89.0 568.2h0.8M90.5 588.2h0.8M61.4 591.3h0.8M62.6 587.0h0.8M73.5 585.9h0.8M94.2 588.2h0.8M79.9 571.6h0.8M80.1 569.3h0.8M67.9 579.4h0.8M95.1 586.4h0.8M62.0 575.8h0.8M77.4 573.4h0.8M82.2 582.8h0.8M87.7 581.5h0.8M87.9 576.5h0.8M70.3 599.9h0.8M65.6 600.5h0.8M94.7 568.7h0.8M77.2 584.0h0.8M66.1 575.4h0.8M60.2 578.9h0.8M87.4 568.0h0.8M89.3 569.8h0.8M77.9 568.2h0.8M70.2 571.5h0.8M81.5 590.0h0.8M94.7 569.8h0.8M78.2 598.5h0.8M86.8 595.5h0.8M90.7 576.6h0.8M85.5 591.5h0.8M74.4 600.8h0.8M61.8 571.1h0.8M83.1 586.9h0.8M88.6 583.5h0.8M94.0 578.0h0.8M60.7 577.2h0.8M59.2 570.1h0.8M80.6 590.0h0.8M88.4 574.0h0.8M57.6 582.0h0.8M79.7 599.9h0.8M65.4 579.4h0.8M95.5 578.2h0.8M69.3 600.1h0.8M57.9 587.7h0.8M86.6 587.3h0.8M66.8 574.9h0.8M71.7 589.8h0.8M59.9 580.5h0.8M68.1 586.3h0.8M60.0 581.1h0.8M65.1 569.9h0.8M78.2 598.2h0.8M66.8 591.6h0.8M81.9 601.0h0.8M91.4 577.9h0.8M78.1 577.0h0.8M55.7 571.8h0.8M93.9 577.9h0.8M62.6 578.5h0.8M68.7 573.5h0.8M76.1 576.4h0.8M79.9 577.4h0.8M68.5 597.5h0.8M72.6 582.8h0.8M80.2 596.1h0.8M73.2 568.8h0.8M66.1 573.7h0.8M71.3 600.8h0.8M70.3 568.8h0.8M66.5 569.5h0.8M79.1 585.4h0.8M75.5 577.3h0.8M71.4 573.9h0.8M83.6 588.6h0.8M87.8 588.6h0.8M81.1 573.7h0.8M68.5 586.1h0.8M92.9 583.1h0.8M58.8 597.1h0.8M87.5 569.4h0.8M71.8 575.3h0.8M70.8 587.1h0.8M89.1 568.2h0.8M81.4 597.0h0.8M94.4 601.4h0.8M90.5 578.7h0.8M59.3 594.5h0.8M75.1 575.8h0.8M86.0 600.7h0.8M57.9 574.5h0.8M76.7 567.2h0.8M95.2 569.4h0.8M64.3 583.3h0.8M59.3 568.4h0.8M66.4 601.8h0.8M68.6 589.4h0.8M66.2 587.2h0.8M72.2 589.2h0.8M88.7 581.8h0.8M75.7 598.4h0.8M78.7 592.3h0.8M59.0 582.3h0.8M57.2 577.1h0.8M93.5 572.1h0.8M68.7 578.2h0.8M93.3 579.5h0.8M68.3 569.9h0.8M80.7 599.8h0.8M81.6 576.2h0.8M58.2 586.2h0.8M57.4 569.3h0.8M72.6 586.6h0.8M59.7 589.9h0.8M66.6 569.8h0.8M62.5 601.6h0.8M67.3 572.8h0.8M73.2 576.3h0.8M67.3 593.1h0.8M68.3 579.0h0.8M74.4 598.1h0.8M82.5 575.5h0.8M56.2 578.1h0.8M95.4 591.6h0.8M72.2 597.5h0.8M92.3 598.4h0.8M54.8 577.2h0.8M56.9 585.8h0.8M58.6 581.6h0.8M91.9 591.0h0.8M71.4 575.1h0.8M89.2 596.8h0.8M83.0 592.3h0.8M58.1 573.2h0.8M69.3 578.1h0.8M68.1 578.9h0.8M73.1 600.0h0.8M85.4 583.2h0.8M57.9 588.9h0.8M92.5 600.0h0.8M74.0 581.1h0.8M69.5 600.6h0.8M83.1 577.4h0.8M65.8 567.5h0.8M83.7 570.6h0.8M71.6 591.6h0.8M74.1 580.5h0.8M62.3 596.6h0.8M62.8 585.9h0.8M89.8 591.3h0.8M78.1 579.5h0.8M71.8 587.8h0.8M86.3 591.8h0.8M91.9 580.4h0.8M61.0 584.4h0.8M95.4 596.9h0.8M55.1 600.0h0.8M79.7 579.4h0.8M65.3 569.4h0.8M64.8 596.9h0.8M74.8 582.9h0.8M79.3 601.4h0.8M72.4 594.1h0.8M83.8 580.1h0.8M93.5 597.2h0.8M61.4 586.4h0.8M64.2 592.3h0.8M79.5 598.4h0.8M71.3 587.6h0.8M67.4 600.6h0.8M75.2 581.1h0.8M83.1 580.4h0.8M91.8 589.7h0.8M93.1 581.4h0.8M88.1 592.1h0.8M68.7 585.9h0.8M90.7 593.4h0.8M83.6 596.3h0.8M61.7 587.1h0.8M93.6 599.5h0.8M64.6 594.7h0.8M82.5 597.4h0.8M83.0 567.7h0.8M91.7 567.5h0.8M81.8 589.5h0.8M94.8 578.8h0.8M56.9 598.0h0.8M56.0 580.9h0.8M62.5 593.4h0.8M78.1 575.7h0.8M71.9 589.3h0.8M57.9 599.0h0.8M62.8 597.6h0.8M78.2 580.0h0.8M71.0 584.1h0.8M85.8 586.0h0.8M73.6 579.2h0.8M90.5 584.2h0.8M85.6 601.2h0.8M74.8 598.2h0.8M69.2 578.2h0.8M63.3 591.3h0.8M66.5 600.7h0.8M69.1 579.9h0.8M69.3 597.1h0.8M61.8 595.3h0.8M73.9 598.5h0.8M59.1 570.0h0.8M90.1 599.8h0.8M77.1 601.8h0.8M58.4 575.6h0.8M67.9 589.5h0.8M65.0 570.2h0.8M60.9 588.4h0.8M74.2 592.2h0.8M62.0 593.5h0.8M60.7 597.4h0.8M83.3 577.4h0.8M72.1 571.1h0.8M82.1 596.0h0.8M73.8 567.9h0.8M75.2 575.3h0.8M67.2 575.4h0.8M72.0 594.5h0.8M74.2 582.7h0.8M68.5 596.7h0.8M88.4 590.7h0.8M64.6 596.9h0.8M63.5 594.9h0.8M68.6 598.2h0.8M86.7 576.8h0.8M89.3 579.6h0.8M77.7 589.3h0.8M69.3 587.7h0.8M81.1 594.6h0.8M88.4 595.7h0.8M64.5 577.8h0.8M81.9 571.3h0.8M83.6 593.3h0.8M70.5 591.4h0.8M60.4 576.8h0.8M79.4 569.0h0.8M63.1 567.8h0.8M69.6 575.8h0.8M76.8 576.7h0.8M94.0 574.4h0.8M60.5 568.8h0.8M57.5 573.0h0.8M76.6 579.4h0.8M93.2 570.3h0.8M56.4 574.3h0.8M80.8 582.6h0.8M55.6 597.1h0.8M77.1 597.9h0.8M59.4 581.4h0.8M81.5 571.5h0.8M69.3 576.6h0.8M81.3 591.0h0.8M65.1 581.5h0.8M57.6 587.2h0.8M62.0 593.2h0.8M65.7 590.4h0.8M61.3 597.5h0.8M62.6 570.0h0.8M76.8 577.5h0.8M72.4 568.2h0.8M88.3 585.5h0.8M74.9 588.8h0.8M76.6 576.0h0.8M83.6 569.0h0.8M89.5 583.5h0.8M78.5 573.0h0.8M56.0 573.9h0.8M73.3 580.5h0.8M55.8 600.5h0.8M79.3 579.8h0.8M57.2 592.2h0.8M76.6 580.2h0.8M60.6 581.4h0.8M89.6 572.0h0.8M58.4 573.6h0.8M81.5 594.4h0.8M83.4 582.2h0.8M65.8 577.1h0.8M78.8 602.0h0.8M68.0 598.2h0.8M65.1 576.4h0.8M65.1 582.4h0.8M55.1 587.1h0.8M82.1 572.9h0.8M57.4 582.2h0.8M62.6 577.1h0.8M58.1 595.8h0.8M87.5 570.4h0.8M76.2 602.2h0.8M73.7 575.4h0.8M78.4 578.8h0.8M87.6 569.7h0.8M80.1 599.4h0.8M75.5 596.4h0.8M67.3 569.4h0.8M75.7 585.8h0.8M95.0 580.9h0.8M77.9 588.5h0.8M74.1 578.9h0.8M90.9 600.9h0.8M56.7 574.7h0.8M57.1 596.1h0.8M86.9 576.5h0.8M93.1 590.1h0.8M56.6 582.2h0.8M55.5 585.7h0.8M54.9 585.5h0.8M78.2 589.2h0.8M60.1 569.4h0.8M77.5 569.1h0.8M81.7 601.5h0.8M55.1 576.0h0.8M90.2 579.7h0.8M64.9 575.5h0.8M77.2 589.9h0.8M69.0 601.9h0.8M68.6 581.3h0.8M71.0 578.4h0.8M54.7 579.4h0.8M72.1 568.0h0.8M65.4 570.2h0.8M69.2 568.7h0.8M61.2 578.5h0.8M68.2 601.9h0.8M83.2 572.0h0.8M94.8 586.5h0.8M62.6 574.4h0.8M90.0 568.3h0.8M79.7 596.7h0.8M58.6 571.5h0.8M55.1 571.8h0.8M90.7 596.0h0.8M64.1 575.7h0.8M58.9 574.1h0.8M81.4 600.5h0.8M83.5 573.9h0.8M91.2 596.5h0.8M75.0 577.9h0.8M67.3 587.1h0.8M67.5 578.0h0.8M62.9 579.0h0.8M80.5 600.1h0.8M93.1 599.2h0.8M58.0 573.2h0.8M70.4 592.7h0.8M68.9 572.0h0.8M57.8 577.6h0.8M78.9 569.5h0.8M94.8 590.0h0.8M65.8 592.8h0.8M84.3 593.5h0.8M91.4 594.5h0.8M65.6 581.0h0.8M92.2 573.3h0.8M85.2 567.2h0.8M81.0 582.6h0.8M62.5 600.1h0.8M65.9 582.9h0.8M58.7 588.9h0.8M91.2 599.5h0.8M87.7 597.6h0.8M58.1 593.3h0.8M76.3 588.0h0.8M63.2 575.2h0.8M85.9 593.6h0.8M78.0 581.8h0.8M93.3 592.1h0.8M84.3 574.9h0.8M58.6 600.4h0.8M69.8 572.8h0.8M78.1 595.1h0.8M91.9 598.6h0.8M69.7 572.4h0.8M62.2 597.7h0.8M66.1 589.9h0.8M64.7 588.4h0.8M60.8 576.0h0.8M68.6 578.7h0.8M64.7 575.3h0.8M75.4 582.7h0.8M91.2 590.0h0.8M93.6 592.9h0.8M61.0 592.1h0.8M77.8 579.3h0.8M82.1 578.9h0.8M60.8 594.1h0.8M76.3 601.6h0.8M62.7 574.9h0.8M69.4 581.7h0.8M67.8 576.8h0.8M87.9 601.6h0.8M64.1 567.6h0.8M76.6 598.7h0.8M78.5 594.2h0.8M68.0 578.8h0.8M92.6 591.2h0.8M68.1 580.1h0.8M67.9 589.6h0.8M82.9 582.1h0.8M74.5 599.5h0.8M84.2 583.2h0.8M60.8 595.8h0.8M60.6 587.5h0.8M84.7 580.2h0.8M70.4 601.3h0.8M89.6 573.9h0.8M64.1 599.2h0.8M64.3 601.8h0.8M89.9 597.1h0.8M69.3 588.7h0.8M59.0 589.1h0.8M63.5 600.0h0.8M86.1 582.4h0.8M65.4 596.3h0.8M77.3 594.5h0.8M88.7 597.5h0.8M79.5 582.6h0.8M85.4 590.2h0.8M94.6 570.3h0.8M66.8 569.6h0.8M90.4 570.8h0.8M77.1 593.1h0.8M62.8 579.6h0.8M59.9 599.2h0.8M67.9 569.8h0.8M60.1 573.1h0.8M86.1 596.7h0.8M77.4 581.9h0.8M56.3 574.8h0.8M90.5 594.7h0.8M78.9 575.3h0.8M72.7 601.6h0.8M60.3 576.8h0.8M73.8 597.5h0.8M92.1 584.0h0.8M78.5 600.2h0.8M73.3 577.5h0.8M79.4 599.8h0.8M77.1 577.7h0.8M80.1 582.9h0.8M62.7 589.5h0.8M60.6 586.7h0.8M55.0 590.8h0.8M88.6 591.7h0.8M54.6 576.5h0.8M65.0 567.3h0.8M78.5 592.7h0.8M75.0 588.3h0.8M91.5 587.0h0.8M63.2 584.6h0.8M59.2 600.0h0.8M61.1 577.5h0.8M74.9 599.4h0.8M66.4 573.0h0.8M73.2 591.7h0.8M82.7 600.4h0.8M67.7 572.5h0.8M81.8 594.3h0.8M55.3 576.7h0.8M76.9 569.1h0.8M91.7 582.3h0.8M92.8 591.8h0.8M77.9 577.1h0.8M94.8 600.7h0.8M64.2 567.1h0.8M66.7 576.5h0.8M72.9 579.1h0.8M75.4 580.2h0.8M88.1 577.6h0.8M72.8 567.8h0.8M56.5 574.5h0.8M83.2 576.3h0.8M63.6 590.9h0.8M90.7 580.4h0.8M63.2 592.6h0.8M66.6 582.7h0.8M60.1 579.1h0.8M66.9 572.6h0.8M79.1 575.1h0.8M65.5 599.0h0.8M56.5 583.2h0.8M78.5 578.1h0.8M84.6 574.8h0.8M59.0 598.1h0.8M71.9 592.0h0.8M57.3 591.7h0.8M55.2 595.6h0.8M69.9 575.6h0.8M66.2 593.0h0.8M90.4 569.5h0.8M55.1 590.6h0.8M81.0 578.4h0.8M84.6 590.5h0.8M71.6 575.0h0.8M75.0 579.5h0.8M64.6 590.8h0.8M64.8 600.4h0.8M56.7 579.1h0.8M91.6 573.0h0.8M55.7 571.4h0.8M60.1 590.8h0.8M84.2 598.7h0.8M73.3 567.6h0.8M75.5 579.2h0.8M66.6 573.0h0.8M61.1 600.9h0.8M87.3 571.7h0.8M59.6 569.4h0.8M66.6 594.3h0.8M85.3 602.5h0.8M66.7 594.5h0.8M93.5 571.1h0.8M61.7 581.5h0.8M76.1 585.5h0.8M76.6 598.9h0.8M75.0 593.7h0.8M86.3 569.1h0.8M56.4 583.1h0.8M76.9 594.6h0.8M86.9 586.3h0.8M56.6 590.7h0.8M76.9 601.3h0.8M72.6 601.7h0.8M71.1 596.7h0.8M76.5 587.3h0.8M80.1 577.9h0.8M83.3 572.7h0.8M91.3 572.9h0.8M81.4 589.7h0.8M95.5 594.4h0.8M81.8 597.5h0.8M65.5 599.4h0.8M60.5 577.2h0.8M57.4 578.9h0.8M65.5 574.0h0.8M59.4 586.3h0.8M82.5 600.6h0.8M82.8 593.9h0.8M79.6 582.5h0.8M70.2 572.6h0.8M73.5 596.9h0.8M65.1 598.8h0.8M92.2 594.3h0.8M55.2 577.4h0.8M67.6 580.9h0.8M78.0 587.7h0.8M61.9 599.6h0.8M89.5 575.6h0.8M74.2 581.9h0.8M69.7 569.1h0.8M57.1 567.1h0.8M66.0 575.6h0.8M78.7 595.7h0.8M66.0 591.0h0.8M56.4 583.9h0.8M78.3 581.5h0.8M67.0 576.4h0.8M89.2 594.2h0.8M82.9 584.3h0.8M84.1 569.5h0.8M91.0 589.3h0.8M87.7 602.3h0.8M68.0 569.6h0.8M77.8 602.4h0.8M65.1 570.5h0.8M62.8 577.9h0.8M62.9 601.7h0.8M59.1 601.5h0.8M64.3 573.6h0.8M63.7 592.6h0.8M82.1 588.7h0.8M64.8 581.1h0.8M56.4 594.8h0.8M71.8 589.5h0.8M62.7 575.0h0.8M82.8 584.4h0.8M63.6 592.2h0.8M77.3 589.1h0.8M61.7 586.3h0.8M74.3 593.2h0.8M90.1 571.8h0.8M66.9 568.5h0.8M76.1 568.2h0.8M72.5 589.0h0.8M57.4 582.4h0.8M55.3 596.7h0.8M89.0 601.5h0.8M68.5 571.0h0.8M82.6 580.5h0.8M71.4 581.9h0.8" stroke="#dcdcdc" stroke-width="0.8" fill="none" stroke-opacity="0.8" clip-path="url(#clipE)"/>
<path d="M77.7 566.6h0.9M93.2 565.7h0.9M80.0 561.6h0.9M67.5 560.5h0.9M82.7 563.5h0.9M68.5 562.3h0.9M78.1 567.8h0.9M58.7 559.7h0.9M78.5 558.7h0.9M74.8 562.8h0.9M81.9 563.5h0.9M78.6 563.8h0.9M78.8 565.5h0.9M85.8 568.9h0.9M60.2 562.6h0.9M86.4 562.1h0.9M81.0 558.9h0.9M83.8 564.1h0.9M71.5 565.7h0.9M58.1 562.8h0.9M93.7 566.6h0.9M89.6 563.6h0.9M96.0 567.4h0.9M74.1 564.4h0.9M92.1 560.8h0.9M91.5 561.8h0.9M77.9 559.5h0.9M92.8 559.0h0.9M89.1 564.2h0.9M58.9 565.8h0.9M60.2 568.6h0.9M71.8 563.4h0.9M77.1 562.9h0.9M82.2 560.6h0.9M78.5 566.1h0.9M91.7 564.5h0.9M88.5 562.0h0.9M58.9 565.3h0.9M68.9 565.0h0.9M92.2 558.6h0.9M86.6 565.4h0.9M55.2 563.9h0.9M81.1 562.5h0.9M59.9 562.4h0.9M75.9 568.0h0.9M96.8 567.5h0.9M57.7 568.2h0.9M89.5 560.5h0.9M75.1 561.8h0.9M96.1 565.9h0.9M91.0 560.4h0.9M57.3 561.6h0.9M81.8 558.8h0.9M91.1 568.3h0.9M66.4 566.3h0.9M84.5 564.7h0.9M65.3 564.1h0.9M63.2 562.4h0.9M68.6 562.5h0.9M67.0 565.1h0.9M95.4 561.6h0.9M64.5 566.7h0.9M72.5 562.2h0.9M75.1 561.2h0.9M83.9 566.9h0.9M95.7 563.1h0.9M80.6 564.9h0.9M91.1 562.4h0.9M60.1 557.6h0.9M82.6 564.9h0.9M61.8 560.0h0.9M91.5 566.3h0.9M79.8 559.5h0.9M60.3 558.7h0.9M90.6 564.3h0.9M76.8 564.6h0.9M75.1 563.8h0.9M57.9 560.3h0.9M93.0 565.8h0.9M76.3 559.7h0.9M91.2 562.3h0.9M57.7 561.5h0.9M83.4 562.5h0.9M70.5 565.7h0.9M77.3 561.9h0.9M81.0 565.0h0.9M89.6 565.3h0.9M93.7 559.1h0.9M61.6 560.5h0.9M91.0 562.5h0.9M59.5 562.0h0.9M55.0 564.3h0.9M67.3 558.5h0.9M66.6 565.4h0.9M87.3 565.4h0.9M78.3 563.1h0.9M71.0 559.9h0.9M88.1 563.5h0.9M94.3 562.1h0.9M81.8 565.0h0.9M82.3 563.3h0.9M91.1 565.4h0.9M66.9 562.4h0.9M96.8 567.3h0.9M62.0 557.5h0.9M56.4 560.9h0.9M89.5 564.8h0.9M61.9 559.6h0.9M68.8 565.4h0.9M76.3 560.3h0.9M59.2 563.7h0.9M72.5 561.1h0.9M69.5 562.4h0.9M58.1 564.0h0.9M80.1 563.2h0.9M73.7 562.5h0.9M61.3 569.1h0.9M88.0 563.5h0.9M71.9 561.0h0.9M55.6 565.9h0.9M91.9 565.6h0.9M71.9 566.7h0.9M58.4 568.1h0.9M66.8 561.1h0.9M65.3 566.3h0.9M56.4 566.5h0.9M68.6 563.5h0.9M61.7 564.1h0.9M63.6 555.7h0.9M83.2 562.0h0.9M61.2 568.1h0.9M55.4 558.9h0.9M62.1 562.1h0.9M67.1 564.2h0.9M61.5 565.0h0.9M79.9 567.7h0.9M91.9 558.9h0.9M89.8 563.6h0.9M74.5 565.7h0.9M87.9 560.1h0.9M88.1 563.4h0.9M81.5 568.4h0.9M88.6 566.9h0.9M70.6 564.9h0.9M86.3 556.7h0.9M76.7 563.2h0.9M85.9 564.5h0.9M85.9 562.7h0.9M57.3 563.3h0.9M89.9 571.5h0.9M56.0 562.9h0.9M72.7 561.0h0.9M79.6 564.1h0.9M89.5 562.7h0.9M56.9 562.7h0.9M83.0 563.3h0.9M69.2 565.5h0.9M56.2 564.1h0.9M68.6 560.4h0.9M81.7 563.2h0.9M58.0 564.7h0.9M90.6 562.3h0.9M56.3 566.5h0.9M64.7 565.5h0.9M68.5 560.9h0.9M57.2 564.3h0.9M93.8 568.7h0.9M95.6 567.6h0.9M93.0 563.4h0.9M63.0 565.8h0.9M89.9 561.7h0.9M68.9 559.7h0.9M66.8 564.9h0.9M83.8 564.1h0.9M58.1 564.8h0.9M54.7 563.4h0.9M94.1 564.3h0.9M69.5 562.2h0.9M88.3 564.7h0.9M72.6 565.7h0.9M58.4 563.3h0.9M74.7 565.6h0.9M61.8 558.9h0.9M57.9 561.5h0.9M55.3 567.3h0.9M71.5 568.1h0.9M65.5 564.2h0.9M68.8 563.2h0.9M95.4 560.2h0.9M89.7 564.4h0.9M84.5 565.5h0.9M64.9 559.6h0.9M86.4 565.0h0.9M84.2 564.8h0.9M76.9 564.6h0.9M64.7 560.6h0.9M63.3 564.9h0.9M72.3 559.6h0.9M66.3 567.4h0.9M92.1 563.9h0.9M74.3 560.5h0.9M83.3 567.0h0.9M92.6 566.5h0.9M80.9 561.8h0.9M61.3 569.2h0.9M68.1 560.9h0.9M93.7 564.3h0.9M56.5 566.6h0.9M63.9 557.6h0.9M80.8 566.1h0.9M90.8 563.3h0.9M89.4 563.5h0.9M85.6 560.7h0.9M84.3 564.4h0.9M70.4 560.6h0.9M57.1 561.0h0.9M81.5 562.3h0.9M57.6 560.3h0.9M88.4 567.6h0.9M60.1 560.0h0.9M55.5 561.5h0.9M97.0 562.7h0.9M61.6 563.5h0.9M79.2 565.6h0.9M57.1 565.6h0.9M96.2 562.7h0.9M55.2 562.5h0.9M83.7 563.6h0.9M90.4 565.6h0.9M67.1 565.3h0.9M54.8 562.2h0.9M56.1 558.1h0.9M57.1 569.1h0.9M86.6 566.0h0.9M77.0 564.2h0.9M92.6 564.4h0.9M81.4 562.1h0.9M79.7 560.9h0.9M63.1 562.6h0.9M64.0 562.9h0.9M96.1 561.9h0.9M95.0 559.7h0.9M73.1 562.7h0.9M88.3 565.0h0.9M85.1 562.2h0.9M66.3 563.6h0.9M63.0 558.1h0.9M86.3 563.0h0.9M95.4 563.2h0.9M96.3 560.3h0.9M69.7 559.0h0.9M57.3 564.6h0.9M68.1 561.4h0.9M57.5 564.8h0.9M96.5 562.4h0.9M67.6 565.1h0.9M90.5 562.6h0.9M65.0 559.6h0.9M95.3 563.3h0.9M75.3 562.6h0.9M89.9 565.2h0.9M80.0 562.3h0.9M87.1 562.5h0.9M57.6 565.7h0.9M58.2 566.5h0.9M69.7 565.5h0.9M91.8 566.2h0.9M93.1 564.7h0.9M84.7 565.5h0.9M79.9 565.8h0.9M56.6 564.5h0.9M93.9 563.7h0.9M82.5 563.9h0.9M80.7 569.8h0.9M90.3 563.5h0.9M64.5 562.9h0.9M80.8 562.6h0.9M83.5 563.4h0.9M86.6 564.1h0.9M58.5 560.6h0.9M85.5 558.4h0.9M92.9 564.3h0.9M81.2 559.3h0.9M61.7 564.2h0.9M93.5 563.9h0.9M58.8 566.5h0.9M64.3 567.8h0.9M90.8 564.5h0.9M79.5 562.1h0.9M68.8 560.4h0.9M88.6 561.4h0.9M82.0 563.6h0.9M59.5 558.1h0.9M64.4 563.7h0.9M88.9 563.5h0.9M89.0 565.2h0.9M57.7 562.6h0.9M76.7 563.8h0.9M84.8 561.6h0.9M68.3 562.3h0.9M57.2 558.9h0.9M72.2 563.8h0.9M94.2 567.5h0.9M85.5 563.9h0.9M63.6 564.5h0.9M90.4 560.9h0.9M82.9 567.2h0.9M66.8 561.5h0.9M65.9 565.6h0.9M62.0 563.8h0.9M71.7 561.0h0.9M69.8 566.2h0.9M66.6 563.5h0.9M91.6 564.0h0.9M86.8 564.7h0.9M75.4 563.4h0.9M95.4 562.5h0.9M83.1 564.7h0.9M95.0 562.4h0.9M89.6 563.7h0.9M81.5 561.8h0.9M84.0 559.6h0.9M87.4 561.7h0.9M86.7 562.2h0.9M91.6 563.5h0.9M68.9 566.6h0.9M69.9 559.1h0.9M65.0 563.8h0.9M93.7 557.7h0.9M92.9 560.8h0.9M73.3 562.2h0.9M71.6 557.6h0.9M60.1 558.7h0.9M95.9 563.9h0.9M83.1 563.7h0.9M95.5 563.2h0.9M81.4 561.4h0.9M76.3 569.1h0.9M86.3 563.1h0.9M92.2 561.3h0.9M90.4 567.9h0.9M69.2 565.1h0.9M76.0 562.5h0.9M94.7 566.6h0.9M76.0 563.9h0.9M88.6 565.2h0.9M76.8 564.1h0.9M89.9 560.8h0.9M57.4 566.0h0.9M54.6 563.9h0.9M58.4 560.9h0.9M73.0 561.5h0.9M70.1 566.0h0.9M95.3 562.5h0.9M96.9 563.6h0.9M60.2 565.2h0.9M90.0 563.8h0.9M76.1 559.5h0.9M90.3 565.2h0.9M70.2 565.9h0.9M87.3 565.8h0.9M54.7 567.7h0.9M74.4 564.4h0.9M68.6 565.5h0.9M65.2 567.6h0.9M67.3 562.7h0.9M72.3 568.0h0.9M75.6 568.0h0.9M76.8 565.5h0.9M85.7 568.3h0.9M89.6 565.7h0.9M95.4 561.2h0.9M82.9 566.5h0.9M65.4 564.3h0.9M79.1 564.6h0.9M73.1 563.9h0.9M64.5 567.0h0.9M68.6 564.9h0.9M64.2 561.7h0.9M77.4 564.8h0.9M57.3 565.4h0.9M77.6 561.6h0.9M72.0 562.4h0.9M54.8 562.5h0.9M66.2 561.9h0.9M95.8 564.4h0.9M79.1 566.1h0.9M57.3 568.4h0.9M79.1 566.6h0.9M84.4 566.2h0.9M60.2 566.5h0.9M71.6 567.0h0.9M63.6 562.5h0.9M77.6 565.3h0.9M89.5 564.3h0.9M64.7 563.2h0.9M60.4 562.3h0.9M60.4 562.2h0.9M80.6 562.8h0.9M57.4 560.3h0.9M76.9 564.9h0.9M88.9 563.4h0.9M87.1 563.8h0.9M83.0 564.4h0.9M55.0 565.4h0.9M72.8 562.0h0.9M64.8 563.2h0.9M76.4 559.3h0.9M61.0 557.7h0.9M60.2 558.5h0.9M94.9 567.5h0.9M91.9 558.8h0.9M58.7 564.7h0.9M89.7 567.3h0.9M57.3 562.3h0.9M68.9 567.7h0.9M96.7 568.3h0.9M94.5 566.0h0.9M74.4 569.7h0.9M84.3 565.1h0.9M70.8 561.6h0.9M90.6 564.9h0.9M67.9 562.4h0.9M63.3 560.1h0.9M60.6 560.2h0.9M81.3 569.5h0.9M78.2 562.1h0.9M92.9 563.5h0.9M60.7 561.8h0.9M88.7 563.9h0.9M94.6 562.9h0.9M86.2 562.5h0.9M59.4 560.4h0.9M61.0 559.9h0.9M58.2 561.6h0.9M68.7 564.3h0.9M86.8 568.9h0.9M60.7 566.3h0.9M73.6 568.3h0.9M56.4 564.8h0.9M83.3 563.3h0.9M58.7 560.1h0.9M88.2 563.5h0.9M80.5 558.0h0.9M62.6 562.8h0.9M84.2 567.8h0.9M69.3 564.4h0.9M76.8 566.5h0.9M78.2 562.6h0.9M66.0 560.0h0.9M72.2 562.3h0.9M87.9 562.5h0.9M91.2 566.7h0.9M90.6 568.7h0.9M78.6 561.6h0.9M91.6 562.6h0.9M60.5 563.2h0.9M96.3 562.7h0.9M56.4 560.3h0.9M92.7 563.8h0.9M88.1 564.5h0.9M71.1 564.6h0.9M88.1 560.4h0.9M95.2 563.3h0.9M61.5 559.0h0.9M82.1 565.9h0.9M54.7 560.9h0.9M82.7 562.9h0.9M57.1 562.4h0.9M82.9 562.1h0.9M55.6 560.8h0.9M71.6 559.0h0.9M91.3 568.1h0.9M67.5 564.2h0.9M95.7 564.3h0.9M74.5 569.0h0.9M62.2 563.3h0.9M94.3 565.0h0.9M61.1 563.6h0.9M79.7 566.7h0.9" stroke="#111" stroke-width="0.9" fill="none" stroke-opacity="0.9" clip-path="url(#clipE)"/>
<path d="M56.7 560.5h0.75M57.6 549.5h0.75M61.7 551.1h0.75M88.4 552.8h0.75M80.9 559.8h0.75M86.7 554.7h0.75M79.0 555.7h0.75M70.1 558.8h0.75M89.1 556.7h0.75M62.0 557.1h0.75M70.3 555.1h0.75M72.8 560.3h0.75M84.4 553.5h0.75M88.0 562.3h0.75M79.4 555.1h0.75M81.3 553.4h0.75M66.9 558.6h0.75M80.6 557.9h0.75M91.6 549.1h0.75M73.8 557.1h0.75M87.6 551.4h0.75M76.9 553.3h0.75M77.1 559.1h0.75M81.3 553.2h0.75M60.7 557.5h0.75M64.0 554.9h0.75M62.2 563.2h0.75M78.0 555.9h0.75M83.9 552.0h0.75M85.6 552.3h0.75M63.7 553.0h0.75M69.2 556.7h0.75M60.9 556.2h0.75M83.3 559.7h0.75M73.0 556.9h0.75M66.5 556.7h0.75M64.4 557.4h0.75M96.3 555.8h0.75M75.7 557.3h0.75M98.1 559.1h0.75M68.6 559.1h0.75M64.0 554.3h0.75M86.0 549.9h0.75M94.6 553.3h0.75M61.7 557.2h0.75M80.3 554.5h0.75M94.3 557.8h0.75M96.1 554.2h0.75M73.3 552.2h0.75M95.9 562.5h0.75M62.4 561.2h0.75M74.0 555.3h0.75M74.0 561.0h0.75M65.3 560.9h0.75M75.8 552.2h0.75M87.6 565.9h0.75M59.3 552.8h0.75M75.7 555.3h0.75M77.6 552.3h0.75M63.1 556.5h0.75M82.8 551.5h0.75M65.6 556.2h0.75M79.6 560.1h0.75M79.7 557.0h0.75M87.4 555.2h0.75M95.6 561.8h0.75M95.2 553.0h0.75M76.6 559.7h0.75M66.1 555.1h0.75M65.2 557.0h0.75M89.1 556.3h0.75M88.0 556.6h0.75M89.4 556.0h0.75M91.2 553.4h0.75M79.4 554.1h0.75M94.0 557.8h0.75M83.4 555.8h0.75M82.3 552.0h0.75M91.3 553.6h0.75M83.2 553.7h0.75M88.3 556.0h0.75M95.4 556.8h0.75M71.9 556.5h0.75M87.5 553.8h0.75M67.6 556.2h0.75M75.9 551.2h0.75M97.3 556.0h0.75M96.2 550.2h0.75M87.8 552.7h0.75M91.8 551.8h0.75M93.4 558.4h0.75M81.3 551.8h0.75M65.2 557.1h0.75M55.3 554.4h0.75M88.0 551.7h0.75M88.0 550.4h0.75M86.7 557.8h0.75M80.0 557.5h0.75M83.4 558.9h0.75M86.1 562.7h0.75M77.9 557.1h0.75M83.5 557.1h0.75M64.4 555.6h0.75M78.0 556.5h0.75M82.2 554.8h0.75M79.5 552.9h0.75M65.8 563.2h0.75M60.1 549.4h0.75M83.3 557.0h0.75M59.5 557.7h0.75M89.4 556.6h0.75M62.5 552.6h0.75M88.5 555.4h0.75M70.1 554.4h0.75M94.2 552.2h0.75M64.4 555.9h0.75M61.4 554.6h0.75M84.2 554.0h0.75M88.5 558.5h0.75M69.9 552.2h0.75M75.3 557.6h0.75M83.6 553.8h0.75M67.5 557.5h0.75M71.6 556.3h0.75M79.4 556.9h0.75M67.8 552.5h0.75M60.9 553.2h0.75M94.5 552.9h0.75M59.9 556.6h0.75M97.9 558.7h0.75M91.7 559.9h0.75M74.2 554.2h0.75M92.4 556.3h0.75M57.3 550.2h0.75M79.3 548.0h0.75M70.1 552.9h0.75M67.7 553.6h0.75M93.9 550.4h0.75M56.2 549.6h0.75M92.4 557.9h0.75M58.0 553.1h0.75M84.3 549.9h0.75M67.1 564.3h0.75M77.7 556.6h0.75M95.2 554.8h0.75M89.6 558.4h0.75M58.9 553.2h0.75M67.9 561.6h0.75M76.0 550.4h0.75M86.0 551.2h0.75M54.7 555.4h0.75M92.5 553.2h0.75M91.5 561.0h0.75M96.6 550.2h0.75M63.4 553.3h0.75M63.9 556.8h0.75M91.1 557.9h0.75M77.1 559.5h0.75M65.3 557.1h0.75M55.2 563.8h0.75M64.0 554.2h0.75M84.2 556.5h0.75M86.7 559.0h0.75M70.1 554.8h0.75M94.9 554.8h0.75M76.9 554.2h0.75M77.3 553.6h0.75M71.9 551.8h0.75M72.2 553.9h0.75M70.3 550.3h0.75M90.8 557.2h0.75M73.9 550.2h0.75M64.7 563.3h0.75M73.7 562.0h0.75M95.2 559.8h0.75M82.6 555.1h0.75M59.1 553.7h0.75M72.9 560.2h0.75M75.0 556.5h0.75M55.1 557.9h0.75M96.8 553.3h0.75M94.8 559.7h0.75M59.0 553.0h0.75M78.8 556.2h0.75M68.3 549.6h0.75M63.8 553.5h0.75M66.6 557.6h0.75M56.9 554.2h0.75M84.8 554.2h0.75M70.6 558.7h0.75M85.3 555.6h0.75M90.4 560.3h0.75M69.6 557.9h0.75M60.7 557.6h0.75M83.2 550.3h0.75M84.2 551.2h0.75M88.9 559.0h0.75M60.6 552.0h0.75M56.5 553.5h0.75M93.2 558.0h0.75M81.2 554.6h0.75M58.6 557.5h0.75M85.7 552.7h0.75M57.0 556.9h0.75M82.3 559.7h0.75M78.9 557.0h0.75M86.0 547.9h0.75M58.6 558.1h0.75M94.5 556.0h0.75M95.9 552.6h0.75M97.8 560.8h0.75M88.2 549.6h0.75M68.2 562.5h0.75M97.6 553.5h0.75M81.5 561.5h0.75M86.1 555.6h0.75M83.6 551.0h0.75M63.6 556.1h0.75M92.0 557.0h0.75M83.0 557.7h0.75M64.2 559.6h0.75M71.1 552.6h0.75M60.8 557.6h0.75M73.5 558.4h0.75M98.0 554.8h0.75M71.4 552.4h0.75M71.9 552.4h0.75M89.8 558.5h0.75M58.1 558.7h0.75M59.8 552.8h0.75M87.3 551.0h0.75M60.2 560.2h0.75M81.4 550.2h0.75M90.4 556.4h0.75M79.3 552.9h0.75M58.0 549.5h0.75M63.6 556.2h0.75M78.3 555.1h0.75M96.5 561.0h0.75M83.3 563.9h0.75M85.2 555.1h0.75M80.7 559.5h0.75M68.8 559.5h0.75M81.2 553.9h0.75M54.9 552.7h0.75M72.7 561.6h0.75M90.2 554.5h0.75M63.5 555.7h0.75M83.0 554.8h0.75M86.2 555.3h0.75M61.4 553.6h0.75M92.2 558.5h0.75M65.2 560.3h0.75M96.9 554.5h0.75M69.7 550.9h0.75M81.4 556.0h0.75M96.2 550.5h0.75" stroke="#444" stroke-width="0.75" fill="none" stroke-opacity="0.75" clip-path="url(#clipE)"/>
<path d="M97.6 601.4h0.9M99.3 597.3h0.9M103.2 594.6h0.9M96.2 591.8h0.9M99.1 584.8h0.9M97.7 588.7h0.9M103.3 592.5h0.9M97.8 576.0h0.9M100.4 571.1h0.9M97.6 590.4h0.9M100.2 586.8h0.9M101.3 602.1h0.9M98.0 579.4h0.9M95.5 579.4h0.9M97.4 567.8h0.9M96.4 563.6h0.9M97.4 568.5h0.9M102.2 586.4h0.9M97.8 601.1h0.9M97.6 567.5h0.9M98.9 569.3h0.9M100.1 589.9h0.9M95.8 574.9h0.9M98.2 564.8h0.9M97.1 598.1h0.9M96.3 568.9h0.9M98.8 580.2h0.9M96.7 592.8h0.9M97.6 593.8h0.9M102.4 600.8h0.9M99.2 586.4h0.9M97.5 568.8h0.9M105.8 566.2h0.9M99.8 588.4h0.9M99.0 584.1h0.9M96.1 572.8h0.9M96.6 569.5h0.9M97.7 576.8h0.9M95.2 574.4h0.9M101.1 577.0h0.9M96.4 576.9h0.9M98.1 592.7h0.9M100.8 581.2h0.9M95.9 596.5h0.9M96.2 582.8h0.9M96.5 574.5h0.9M98.9 599.5h0.9M96.6 588.7h0.9M98.0 596.3h0.9M96.2 572.2h0.9M98.4 601.4h0.9M97.8 588.1h0.9M100.1 577.8h0.9M96.7 572.9h0.9M96.2 566.9h0.9M98.4 564.3h0.9M95.2 570.7h0.9M97.6 575.2h0.9M96.9 584.0h0.9M99.0 578.7h0.9M98.7 564.8h0.9M97.3 568.7h0.9M97.0 563.7h0.9M98.9 564.6h0.9M99.7 574.7h0.9M95.5 588.2h0.9M97.4 569.1h0.9M100.2 597.9h0.9M95.9 602.0h0.9M96.6 587.3h0.9M97.8 564.9h0.9M95.2 570.2h0.9M97.0 583.2h0.9M100.4 599.9h0.9M97.5 601.8h0.9M101.1 592.1h0.9M99.1 598.2h0.9M97.7 566.8h0.9M95.4 583.0h0.9M99.2 581.9h0.9M97.5 571.6h0.9M95.2 585.3h0.9M97.4 585.2h0.9M95.3 601.4h0.9M97.7 565.6h0.9M98.9 574.8h0.9M97.4 569.8h0.9M99.6 571.8h0.9M96.3 575.6h0.9M96.6 577.6h0.9M99.9 600.8h0.9M98.2 576.0h0.9M96.5 582.1h0.9M99.3 569.6h0.9M99.2 571.7h0.9M95.9 571.6h0.9M96.9 585.5h0.9M101.2 574.9h0.9M95.9 574.0h0.9M98.5 583.7h0.9M96.3 563.6h0.9M96.8 597.1h0.9M97.2 565.0h0.9M99.7 579.2h0.9M95.1 602.0h0.9M97.1 569.6h0.9M98.0 564.8h0.9M98.2 582.2h0.9M95.8 587.9h0.9M95.6 578.1h0.9M96.1 571.7h0.9M95.7 590.3h0.9M95.8 586.3h0.9M98.5 576.7h0.9M97.6 587.3h0.9M96.6 596.2h0.9M99.0 583.3h0.9M99.8 578.3h0.9M98.3 587.3h0.9M98.9 582.9h0.9M97.7 566.9h0.9M95.3 598.7h0.9M96.7 567.9h0.9M97.9 592.3h0.9M101.4 580.1h0.9M99.0 593.9h0.9M97.1 583.7h0.9M95.7 595.4h0.9M96.0 581.6h0.9M99.1 572.8h0.9M97.9 593.4h0.9M98.8 595.7h0.9M96.2 582.9h0.9M95.8 599.7h0.9M100.3 590.9h0.9M98.1 599.8h0.9M95.5 570.7h0.9M95.6 600.3h0.9M96.2 593.3h0.9M101.4 600.2h0.9M95.1 576.8h0.9M96.5 585.0h0.9M101.2 598.3h0.9M97.0 589.6h0.9M97.1 574.4h0.9M100.2 574.4h0.9M98.8 600.4h0.9M96.0 589.5h0.9M96.7 565.1h0.9M95.6 573.2h0.9M95.7 585.0h0.9M98.0 570.5h0.9M98.0 581.4h0.9M96.5 589.4h0.9M95.4 566.3h0.9M100.8 573.0h0.9M97.9 597.8h0.9M96.9 564.6h0.9M98.8 567.4h0.9M99.9 595.4h0.9M99.6 589.7h0.9M97.7 581.6h0.9M100.1 596.9h0.9M95.7 571.2h0.9M97.6 563.2h0.9M102.8 595.1h0.9M96.6 588.2h0.9M101.1 576.3h0.9M95.6 585.9h0.9M95.2 566.2h0.9M97.9 575.4h0.9M98.4 585.5h0.9M96.3 596.4h0.9M97.1 575.5h0.9M97.0 565.4h0.9M100.4 566.5h0.9M95.9 575.1h0.9M102.5 587.7h0.9M97.7 590.9h0.9M96.5 590.4h0.9M97.1 597.6h0.9M97.9 589.9h0.9M96.6 589.5h0.9M96.0 586.5h0.9M101.5 589.3h0.9M97.0 591.9h0.9M99.3 601.6h0.9M96.1 570.1h0.9M97.2 588.4h0.9M96.9 567.9h0.9M101.8 571.1h0.9M96.5 599.6h0.9M96.1 579.0h0.9M97.2 585.4h0.9M96.5 571.4h0.9M96.0 583.1h0.9M97.3 564.0h0.9M96.2 585.9h0.9M95.9 600.7h0.9M103.6 590.1h0.9M95.7 589.3h0.9M97.3 584.9h0.9M98.2 575.7h0.9M96.4 593.6h0.9M96.9 578.3h0.9M96.9 576.3h0.9M98.9 584.6h0.9M95.5 601.5h0.9M100.7 592.0h0.9M97.8 589.6h0.9M98.3 568.1h0.9M96.1 594.9h0.9M98.1 579.7h0.9M95.5 587.8h0.9M96.8 585.2h0.9M95.9 594.0h0.9M97.3 564.3h0.9M98.1 566.9h0.9M96.2 574.1h0.9M96.1 571.0h0.9M95.3 589.9h0.9M102.6 567.6h0.9M96.0 566.6h0.9M99.9 583.9h0.9M100.0 565.6h0.9M100.6 594.4h0.9M101.0 576.0h0.9M97.9 574.9h0.9M96.9 586.6h0.9M98.4 601.6h0.9M95.9 574.2h0.9M97.2 571.9h0.9M98.4 577.5h0.9M97.3 593.8h0.9M96.7 599.9h0.9M101.3 569.1h0.9M95.3 564.2h0.9M103.1 575.1h0.9M104.8 575.7h0.9M99.7 592.5h0.9M95.3 589.9h0.9M98.6 592.5h0.9M95.7 578.5h0.9M97.1 579.9h0.9M95.4 600.2h0.9M98.5 564.9h0.9M98.4 563.8h0.9M96.0 563.7h0.9M95.1 595.3h0.9M95.5 583.5h0.9M95.5 590.4h0.9M97.1 588.8h0.9M95.1 595.1h0.9M96.8 583.9h0.9M99.8 576.0h0.9M97.9 567.4h0.9M101.3 579.2h0.9M95.7 570.7h0.9M100.2 599.6h0.9M99.9 593.1h0.9M96.3 574.2h0.9M105.8 583.2h0.9M95.9 581.5h0.9M97.2 586.9h0.9M96.4 600.4h0.9M99.5 573.9h0.9M97.3 587.3h0.9M95.5 582.9h0.9M102.2 600.7h0.9M99.1 571.6h0.9M95.7 588.6h0.9M97.5 566.6h0.9M98.8 584.5h0.9M97.3 600.9h0.9M96.7 591.4h0.9M101.9 564.2h0.9M102.1 601.9h0.9M96.0 584.3h0.9M96.0 585.9h0.9M96.9 600.3h0.9M103.3 586.1h0.9M95.1 571.7h0.9M99.9 580.0h0.9M97.4 592.6h0.9M95.5 578.7h0.9M96.0 569.7h0.9M97.3 578.4h0.9M97.0 567.1h0.9M98.0 566.9h0.9M99.5 567.8h0.9M96.5 583.1h0.9M99.8 575.7h0.9M97.4 570.1h0.9M98.3 592.2h0.9M96.0 587.2h0.9M98.7 595.4h0.9M95.4 569.4h0.9M97.0 587.5h0.9M97.1 573.4h0.9M95.4 582.6h0.9M98.8 580.6h0.9M96.3 586.0h0.9M95.5 585.5h0.9M100.4 599.3h0.9M95.4 587.7h0.9M99.2 576.9h0.9M97.9 594.4h0.9M96.8 569.4h0.9M97.0 593.6h0.9M98.6 585.8h0.9M95.5 573.3h0.9M99.9 592.7h0.9M99.5 567.5h0.9M98.4 564.4h0.9M98.4 573.7h0.9M101.5 582.9h0.9M100.2 587.9h0.9M96.6 575.4h0.9M99.3 585.9h0.9M95.7 601.7h0.9M98.8 602.4h0.9M95.2 591.5h0.9M95.7 574.9h0.9M96.8 581.8h0.9M96.9 594.9h0.9M100.4 598.0h0.9M97.2 600.6h0.9M98.2 578.3h0.9M95.4 576.4h0.9M95.2 576.3h0.9" stroke="#222" stroke-width="0.9" fill="none" stroke-opacity="0.8" clip-path="url(#clipE)"/>
<path d="M98.6 551.9h0.7M100.1 562.8h0.7M99.4 549.3h0.7M101.5 561.4h0.7M96.6 556.6h0.7M98.1 548.6h0.7M99.8 550.4h0.7M103.8 558.5h0.7M102.5 557.0h0.7M97.2 551.9h0.7M97.3 552.7h0.7M96.6 562.8h0.7M100.3 559.8h0.7M97.0 558.6h0.7M96.8 562.8h0.7M102.4 551.7h0.7M103.0 553.3h0.7M97.3 561.4h0.7M96.0 555.0h0.7M99.7 555.1h0.7M96.1 560.9h0.7M98.3 564.0h0.7M103.4 562.2h0.7M99.5 560.3h0.7M98.1 555.1h0.7M104.7 559.3h0.7M95.7 551.6h0.7M101.8 552.1h0.7M107.0 551.3h0.7M101.8 558.9h0.7M95.7 563.2h0.7M103.9 560.1h0.7M98.8 552.3h0.7M100.0 558.6h0.7M100.7 553.6h0.7M100.7 561.2h0.7M95.8 555.8h0.7M98.9 552.0h0.7M97.7 552.7h0.7M95.8 549.4h0.7M97.2 553.8h0.7M97.8 553.4h0.7M95.6 555.3h0.7M99.2 558.5h0.7M96.8 562.9h0.7M105.5 561.1h0.7M104.9 557.2h0.7M100.7 553.8h0.7M98.1 550.7h0.7M101.4 557.5h0.7" stroke="#666" stroke-width="0.7" fill="none" stroke-opacity="0.8" clip-path="url(#clipE)"/>
<path d="M57.6 508.9h0.9M57.1 520.2h0.9M80.7 521.5h0.9M61.6 523.1h0.9M88.9 531.6h0.9M81.8 530.3h0.9M76.0 496.1h0.9M92.4 534.2h0.9M60.3 516.5h0.9M67.4 516.0h0.9M75.3 534.7h0.9M93.6 518.7h0.9M58.1 508.2h0.9M79.1 508.7h0.9M91.8 521.8h0.9M60.8 529.9h0.9M83.2 535.5h0.9M82.6 519.7h0.9M69.4 516.8h0.9M76.4 536.7h0.9M92.4 516.9h0.9M73.7 535.1h0.9M73.3 523.5h0.9M77.6 523.5h0.9M56.3 519.0h0.9M87.4 524.1h0.9M57.1 516.9h0.9M94.2 514.8h0.9M93.8 520.0h0.9M87.7 515.1h0.9M90.8 524.2h0.9M79.6 522.1h0.9M67.2 518.8h0.9M79.2 519.4h0.9M82.2 519.1h0.9M60.7 537.8h0.9M86.0 521.2h0.9M67.2 515.6h0.9M75.5 518.5h0.9M65.7 527.6h0.9M66.3 519.4h0.9M90.1 519.8h0.9M85.8 518.8h0.9M57.5 522.8h0.9M85.8 525.0h0.9M92.0 525.5h0.9M83.2 505.7h0.9M82.7 511.1h0.9M65.6 496.3h0.9M83.0 528.9h0.9M70.2 531.8h0.9M91.9 533.6h0.9M83.2 522.6h0.9M67.9 532.2h0.9M90.3 520.9h0.9M86.0 520.1h0.9M63.0 506.6h0.9M63.6 513.8h0.9M55.5 515.7h0.9M85.8 530.0h0.9M58.4 537.0h0.9M66.0 516.8h0.9M84.5 524.8h0.9M67.2 523.9h0.9M66.4 513.9h0.9M57.7 504.9h0.9M57.0 514.1h0.9M77.9 507.6h0.9M60.5 518.3h0.9M93.6 519.9h0.9M56.0 519.5h0.9M67.6 519.7h0.9M62.4 525.8h0.9M91.0 512.4h0.9M85.0 529.7h0.9M59.5 505.4h0.9M57.2 521.8h0.9M58.3 524.9h0.9M84.6 513.7h0.9M84.9 506.1h0.9M80.3 527.3h0.9M74.6 514.9h0.9M73.5 528.7h0.9M78.8 528.5h0.9M59.3 521.2h0.9M86.8 521.2h0.9M86.1 530.6h0.9M82.2 524.8h0.9M64.4 512.4h0.9M63.6 522.8h0.9M94.2 526.5h0.9M92.9 523.2h0.9M84.9 523.0h0.9M86.4 519.8h0.9M73.3 520.1h0.9M90.1 512.4h0.9M82.6 507.7h0.9M72.5 531.9h0.9M82.3 515.2h0.9M58.2 523.3h0.9M70.8 507.0h0.9M88.8 522.7h0.9M74.2 513.4h0.9M77.4 511.6h0.9M92.7 512.1h0.9M63.0 530.2h0.9M82.3 532.0h0.9M73.0 501.3h0.9M64.4 523.6h0.9M56.9 529.5h0.9M79.4 509.7h0.9M62.3 527.7h0.9M78.3 516.3h0.9M72.2 511.8h0.9M71.2 517.9h0.9M90.5 516.9h0.9M58.6 508.1h0.9M77.4 542.4h0.9M71.6 516.9h0.9M61.1 514.2h0.9M70.8 529.3h0.9M89.7 520.5h0.9M62.9 533.8h0.9M82.2 518.7h0.9M65.7 524.5h0.9M75.8 522.1h0.9M77.0 522.8h0.9M57.9 519.3h0.9M87.3 520.2h0.9M70.1 537.0h0.9M63.4 514.8h0.9M63.3 516.1h0.9M94.4 518.0h0.9M92.7 526.6h0.9M73.8 525.0h0.9M65.8 530.0h0.9M83.3 508.6h0.9M57.1 523.7h0.9M89.4 519.6h0.9M55.2 518.5h0.9M57.0 522.8h0.9M68.4 502.7h0.9M73.2 523.8h0.9M55.2 522.6h0.9M66.4 507.8h0.9M94.4 520.3h0.9M86.0 535.8h0.9M57.3 517.6h0.9M90.1 526.8h0.9M73.6 519.1h0.9M94.6 513.6h0.9M67.8 512.6h0.9M67.4 517.5h0.9M82.2 533.5h0.9M74.5 528.9h0.9M66.1 514.6h0.9M76.0 530.6h0.9M80.5 520.0h0.9M67.5 514.7h0.9M88.0 525.3h0.9M85.0 512.6h0.9M85.1 506.5h0.9M81.4 533.4h0.9M64.2 504.0h0.9M83.2 526.3h0.9M62.0 506.9h0.9M60.7 521.0h0.9M75.2 519.4h0.9M61.9 517.1h0.9M60.1 500.7h0.9M78.7 520.2h0.9M94.0 520.9h0.9M57.2 512.8h0.9M72.8 520.6h0.9M58.6 530.6h0.9M76.5 514.5h0.9M78.0 523.7h0.9M74.6 510.4h0.9M56.6 524.8h0.9M83.0 527.3h0.9M75.3 544.5h0.9M77.9 529.7h0.9M81.7 525.3h0.9M91.2 534.5h0.9M72.4 511.9h0.9M91.5 531.3h0.9M62.0 516.1h0.9M73.2 515.5h0.9M62.1 531.5h0.9M69.9 523.5h0.9M91.1 533.7h0.9M94.0 507.7h0.9M73.9 523.8h0.9M66.1 516.3h0.9M67.9 518.7h0.9M91.1 503.4h0.9M72.5 530.1h0.9M62.9 523.3h0.9M88.4 512.1h0.9M75.4 508.7h0.9M72.1 513.2h0.9M91.1 534.4h0.9M84.8 520.4h0.9M55.6 518.2h0.9M93.7 525.9h0.9M73.2 521.4h0.9M62.2 523.5h0.9M91.4 528.3h0.9M71.8 524.4h0.9M82.4 529.5h0.9M85.0 510.2h0.9M62.8 521.9h0.9M94.3 518.0h0.9M77.5 522.4h0.9M57.3 521.0h0.9M76.5 515.4h0.9M55.7 518.1h0.9M94.2 530.2h0.9M81.6 516.2h0.9M70.2 509.8h0.9M87.0 526.9h0.9M86.8 530.5h0.9M83.0 518.9h0.9M64.4 522.6h0.9M58.7 513.6h0.9M89.2 519.5h0.9M90.5 531.7h0.9M68.8 528.9h0.9M70.5 522.8h0.9M71.1 518.9h0.9M66.1 506.3h0.9M92.5 524.4h0.9M76.3 525.7h0.9M83.4 531.3h0.9M79.2 540.2h0.9M58.6 525.0h0.9M57.9 530.4h0.9M60.9 511.1h0.9M74.9 532.7h0.9M80.1 529.6h0.9M94.8 534.2h0.9M91.0 527.8h0.9M84.6 525.7h0.9M70.3 535.2h0.9M68.8 515.3h0.9M82.9 527.5h0.9M68.8 531.6h0.9M85.6 514.2h0.9M84.1 510.8h0.9M59.8 525.6h0.9M87.2 522.7h0.9M58.7 527.2h0.9M67.7 527.5h0.9M94.0 514.4h0.9M81.1 524.7h0.9M89.3 532.0h0.9M92.1 518.3h0.9M65.6 518.9h0.9M86.8 511.1h0.9M69.9 529.2h0.9M57.6 539.7h0.9M59.3 508.9h0.9M60.0 528.7h0.9M80.3 530.0h0.9M80.7 516.4h0.9M88.9 518.2h0.9M66.8 511.9h0.9M85.5 514.4h0.9M65.7 523.2h0.9M67.5 527.7h0.9M81.2 522.7h0.9M70.7 529.6h0.9M94.9 523.5h0.9M67.7 510.8h0.9M64.5 535.1h0.9M90.2 532.6h0.9M89.9 515.1h0.9M61.5 538.1h0.9M68.5 526.0h0.9M75.4 522.9h0.9M57.7 539.4h0.9M69.8 498.5h0.9M85.8 506.8h0.9M85.7 528.3h0.9M61.0 519.4h0.9M67.1 512.9h0.9M65.7 535.7h0.9M82.4 526.2h0.9M60.3 509.9h0.9M94.4 515.6h0.9M59.6 529.5h0.9M76.1 538.3h0.9M83.1 503.2h0.9M92.9 524.0h0.9M79.6 518.2h0.9M89.2 505.6h0.9M76.2 520.2h0.9M63.8 506.9h0.9M71.8 516.8h0.9M79.3 536.7h0.9M76.2 526.5h0.9M86.3 529.0h0.9M76.6 527.3h0.9M70.3 525.1h0.9M75.6 530.8h0.9M75.8 511.0h0.9M55.4 518.5h0.9M68.1 529.7h0.9M77.9 515.0h0.9M83.5 517.7h0.9M72.1 533.0h0.9M84.8 536.0h0.9M75.1 516.2h0.9M69.8 514.3h0.9M64.7 527.2h0.9M86.9 524.3h0.9M91.9 515.6h0.9M84.2 527.4h0.9M63.8 527.0h0.9M83.2 522.6h0.9M92.0 534.5h0.9M55.2 529.4h0.9M85.9 531.4h0.9M89.2 532.0h0.9M79.2 515.2h0.9M55.3 524.9h0.9M82.7 522.6h0.9M76.3 516.6h0.9M64.6 524.3h0.9M59.9 524.2h0.9M70.9 521.4h0.9M77.4 517.4h0.9M74.1 529.6h0.9M55.7 507.1h0.9M60.9 529.5h0.9M82.2 522.0h0.9M76.8 524.4h0.9M84.7 499.8h0.9M71.6 537.5h0.9M65.3 505.8h0.9M86.9 513.9h0.9M63.7 527.9h0.9M57.4 516.3h0.9M69.7 518.1h0.9M73.1 501.2h0.9M63.4 517.8h0.9M93.2 523.9h0.9M64.3 528.2h0.9M59.9 519.2h0.9M81.5 523.9h0.9M60.7 526.0h0.9M66.2 515.6h0.9M71.6 514.9h0.9M66.0 540.1h0.9M81.2 514.0h0.9M60.6 533.4h0.9M80.8 522.6h0.9M59.6 535.6h0.9M78.2 516.0h0.9M94.2 526.7h0.9M86.5 525.0h0.9M92.9 519.8h0.9M76.8 524.8h0.9M61.3 514.8h0.9M69.8 521.2h0.9M86.1 518.2h0.9M60.3 529.0h0.9M81.6 521.1h0.9M67.9 509.0h0.9M91.7 518.5h0.9M69.0 521.0h0.9M67.9 513.5h0.9M65.9 534.3h0.9M76.6 525.7h0.9M93.1 529.8h0.9M76.6 514.8h0.9M84.7 518.2h0.9M75.8 531.3h0.9M58.3 508.6h0.9M78.5 525.4h0.9M78.8 522.8h0.9M78.8 517.3h0.9M66.9 522.8h0.9M65.7 511.9h0.9M68.2 524.0h0.9M56.2 510.6h0.9M61.4 510.0h0.9M66.5 535.0h0.9M75.5 515.4h0.9M91.5 502.2h0.9M83.0 531.0h0.9M75.6 514.7h0.9M83.7 489.1h0.9M72.8 521.4h0.9M56.9 530.6h0.9M82.5 525.2h0.9M83.2 538.0h0.9M81.2 520.8h0.9M89.1 527.5h0.9M86.3 512.5h0.9M88.2 523.5h0.9M56.8 536.2h0.9M95.0 526.6h0.9M78.5 523.5h0.9M78.7 503.5h0.9M79.5 518.4h0.9M65.8 509.9h0.9M67.1 529.2h0.9M90.1 515.0h0.9M79.0 525.3h0.9M93.4 512.6h0.9M63.3 539.6h0.9M78.4 511.0h0.9M79.0 523.2h0.9M80.0 524.0h0.9M70.4 513.8h0.9M72.2 527.7h0.9M62.4 531.2h0.9M78.8 530.1h0.9M81.9 503.5h0.9M90.7 524.0h0.9M88.7 502.1h0.9M94.2 539.7h0.9M94.0 522.6h0.9M83.0 517.6h0.9M66.2 528.2h0.9M76.6 526.5h0.9M58.3 510.9h0.9M77.6 537.2h0.9M67.2 519.7h0.9M76.5 505.5h0.9M85.0 535.1h0.9M57.4 536.3h0.9M90.0 533.7h0.9M56.5 527.1h0.9M74.6 513.6h0.9M63.7 530.8h0.9M56.6 539.4h0.9M74.2 529.6h0.9M65.5 537.0h0.9M58.2 514.7h0.9M88.0 531.5h0.9M64.8 530.8h0.9M92.5 508.0h0.9M79.3 506.7h0.9M69.2 515.2h0.9M57.4 522.7h0.9M89.2 526.2h0.9M59.4 519.9h0.9M86.1 521.4h0.9M76.1 520.9h0.9M73.2 522.8h0.9M58.2 527.5h0.9M71.8 526.7h0.9M55.7 521.5h0.9M85.5 524.4h0.9M83.3 517.7h0.9M60.4 529.5h0.9M75.4 517.2h0.9M62.1 537.5h0.9M83.5 521.8h0.9M62.6 524.6h0.9M61.9 514.8h0.9M66.4 518.8h0.9M93.9 523.6h0.9M87.7 522.2h0.9M71.1 516.1h0.9M86.8 511.1h0.9M69.5 522.4h0.9M62.5 523.5h0.9M90.9 527.2h0.9M56.5 533.8h0.9M86.7 519.1h0.9M93.4 503.2h0.9M58.4 520.7h0.9M89.4 504.6h0.9M86.2 509.9h0.9M56.7 531.7h0.9M72.8 527.4h0.9M65.4 515.9h0.9M70.4 516.0h0.9M70.3 521.2h0.9M70.8 505.4h0.9M55.4 526.5h0.9M65.9 518.7h0.9M66.6 539.4h0.9M81.0 512.0h0.9M82.8 531.5h0.9M85.0 515.6h0.9M80.5 531.7h0.9M90.8 512.8h0.9M77.2 529.0h0.9M67.5 517.9h0.9M56.6 514.2h0.9M84.1 520.6h0.9M77.5 526.5h0.9M61.5 525.9h0.9M75.5 537.0h0.9M92.8 529.8h0.9M79.2 497.1h0.9M67.4 518.2h0.9M87.3 503.2h0.9M70.8 518.4h0.9M55.6 527.9h0.9M58.2 509.4h0.9M93.5 510.9h0.9M58.7 523.4h0.9M86.3 519.3h0.9M56.2 537.0h0.9M72.0 525.1h0.9M66.3 527.1h0.9M68.8 538.6h0.9M58.6 517.3h0.9M71.1 522.0h0.9M85.4 512.6h0.9M76.0 524.5h0.9M60.3 531.8h0.9M87.2 535.0h0.9M89.9 521.7h0.9M73.2 515.3h0.9M69.4 514.8h0.9M55.7 508.8h0.9M57.8 523.2h0.9M70.0 534.9h0.9M59.5 499.6h0.9M93.8 501.4h0.9M80.8 535.3h0.9M67.5 506.8h0.9M78.4 525.2h0.9M61.7 510.1h0.9M91.7 529.5h0.9M75.0 529.5h0.9M83.0 523.7h0.9M62.3 529.9h0.9M74.0 522.6h0.9M83.6 527.4h0.9M70.5 539.4h0.9M57.6 532.5h0.9M73.8 515.9h0.9M88.0 514.5h0.9M73.5 519.8h0.9M94.2 519.9h0.9M77.4 522.8h0.9M90.3 516.4h0.9M56.3 528.3h0.9M80.3 522.5h0.9M75.4 525.6h0.9M69.3 522.2h0.9M91.1 528.0h0.9M58.7 510.8h0.9M74.4 537.1h0.9M67.3 525.4h0.9M93.4 526.4h0.9M86.3 528.0h0.9M63.0 532.4h0.9M60.1 529.2h0.9M56.0 524.4h0.9M62.2 520.4h0.9M92.2 506.6h0.9M89.9 524.2h0.9M87.0 519.2h0.9M71.0 519.2h0.9M74.3 545.0h0.9M78.0 504.5h0.9M87.4 522.7h0.9M55.2 533.7h0.9M62.3 531.3h0.9M78.3 534.0h0.9M60.7 510.2h0.9M92.5 513.1h0.9M56.8 528.1h0.9M93.9 519.4h0.9M63.6 538.5h0.9M62.8 524.4h0.9M72.0 524.1h0.9M80.5 526.4h0.9M94.2 519.7h0.9M74.1 523.4h0.9M90.9 515.8h0.9M90.6 521.9h0.9M94.4 517.7h0.9M69.4 524.7h0.9M74.0 508.8h0.9M55.9 508.1h0.9M70.4 526.6h0.9M69.1 524.4h0.9M60.0 513.1h0.9M88.3 520.1h0.9M66.2 512.3h0.9M60.2 541.7h0.9M59.6 507.5h0.9M56.0 538.6h0.9M85.2 514.5h0.9M76.3 526.3h0.9M75.9 519.8h0.9M71.5 518.7h0.9M93.6 531.2h0.9M70.1 530.1h0.9M74.0 519.6h0.9M82.6 513.7h0.9M92.2 542.0h0.9M89.3 535.7h0.9M90.3 523.7h0.9M62.3 519.5h0.9M92.8 525.1h0.9M88.0 523.1h0.9M68.2 533.7h0.9M87.2 513.2h0.9M93.1 522.5h0.9M84.7 514.9h0.9M84.5 534.8h0.9M88.5 539.5h0.9M90.2 521.5h0.9M86.2 527.5h0.9M58.1 535.7h0.9M63.3 519.5h0.9M59.8 513.5h0.9M73.6 532.2h0.9M57.6 527.2h0.9M77.0 520.4h0.9M92.0 536.2h0.9M94.3 524.6h0.9M56.5 505.4h0.9M82.3 525.7h0.9M60.7 521.8h0.9M89.5 540.2h0.9M56.2 522.2h0.9M59.1 520.4h0.9M67.9 526.5h0.9M55.2 524.7h0.9M81.5 509.0h0.9M63.2 523.5h0.9M83.8 519.3h0.9M93.0 535.7h0.9M73.8 545.2h0.9M73.8 511.8h0.9M94.9 513.2h0.9M67.5 514.4h0.9M90.4 516.1h0.9M83.5 515.8h0.9M55.4 522.9h0.9M66.9 532.7h0.9M83.8 510.0h0.9M56.8 507.8h0.9M89.3 504.9h0.9M91.5 532.9h0.9M85.4 535.0h0.9M87.4 507.8h0.9M78.9 506.9h0.9M87.3 523.6h0.9M73.7 532.8h0.9M71.3 532.0h0.9M83.1 524.2h0.9M73.6 528.9h0.9M67.4 525.5h0.9M65.6 517.1h0.9M72.5 540.5h0.9M70.3 522.4h0.9M85.2 511.8h0.9M86.4 517.9h0.9M86.9 507.7h0.9M88.8 522.6h0.9M69.5 532.8h0.9M69.8 510.4h0.9M88.5 533.1h0.9M62.2 542.3h0.9M83.1 526.0h0.9M76.0 511.4h0.9M81.7 514.3h0.9M82.9 519.2h0.9M81.8 510.2h0.9M64.4 510.5h0.9M55.9 519.9h0.9M93.1 520.7h0.9M90.9 528.2h0.9M75.2 511.0h0.9M81.4 540.2h0.9M58.6 532.5h0.9M73.3 530.9h0.9M78.5 516.2h0.9M83.0 538.9h0.9M63.8 519.1h0.9M58.7 539.7h0.9M93.4 532.6h0.9M88.9 513.9h0.9M62.1 518.1h0.9M87.9 540.2h0.9M87.5 531.9h0.9M62.3 520.9h0.9M87.2 524.3h0.9M70.3 524.3h0.9M68.4 515.1h0.9M61.4 520.5h0.9M78.7 516.1h0.9M79.5 518.3h0.9M75.5 526.8h0.9M59.0 513.3h0.9M86.8 529.3h0.9M67.7 523.4h0.9M65.6 529.7h0.9M80.6 530.9h0.9M62.4 534.3h0.9M91.4 528.4h0.9M80.9 529.1h0.9M86.6 520.7h0.9M68.6 527.8h0.9M72.1 513.8h0.9M65.1 520.1h0.9M65.0 529.5h0.9M71.6 521.9h0.9M86.5 526.6h0.9M75.1 512.4h0.9M88.3 535.4h0.9M59.5 516.9h0.9M66.6 526.2h0.9M56.5 522.2h0.9M91.5 531.3h0.9M57.5 518.8h0.9M76.7 512.9h0.9M81.9 504.3h0.9M63.2 519.5h0.9M94.2 511.0h0.9M94.2 527.5h0.9M64.5 536.1h0.9M60.6 501.2h0.9M81.0 510.1h0.9M75.6 525.3h0.9M79.2 534.2h0.9M79.7 525.3h0.9M93.2 525.5h0.9M85.7 527.2h0.9M67.5 527.9h0.9M84.9 538.1h0.9M73.0 528.2h0.9M94.0 510.6h0.9M74.1 517.9h0.9M55.4 524.4h0.9M91.7 514.7h0.9M66.1 519.9h0.9M87.9 517.4h0.9M79.5 515.7h0.9M84.8 529.0h0.9M84.6 518.7h0.9M91.2 512.0h0.9M88.3 515.6h0.9M80.8 522.8h0.9M68.1 542.5h0.9M74.8 524.9h0.9M66.2 536.6h0.9M68.5 527.1h0.9M73.4 501.9h0.9M71.9 526.0h0.9M66.6 514.3h0.9M67.2 509.5h0.9M67.5 512.1h0.9M62.7 539.5h0.9M78.3 507.3h0.9M58.7 516.5h0.9M64.9 533.5h0.9M61.8 528.7h0.9M83.3 506.0h0.9M66.2 521.3h0.9M59.0 517.5h0.9M87.9 520.5h0.9M72.5 529.6h0.9M87.2 516.9h0.9M67.8 519.3h0.9M68.9 536.3h0.9M77.4 504.8h0.9M57.8 518.8h0.9M94.1 526.9h0.9M60.3 510.5h0.9M91.5 516.3h0.9M81.4 509.8h0.9M85.6 523.9h0.9M63.4 516.4h0.9M90.7 529.9h0.9M76.4 532.1h0.9M71.5 522.8h0.9M62.7 518.7h0.9M61.9 524.9h0.9M89.5 522.9h0.9M93.8 510.7h0.9M71.7 532.6h0.9M83.9 524.5h0.9M82.9 529.9h0.9M74.8 509.3h0.9M74.2 530.8h0.9M77.1 542.5h0.9M68.9 528.3h0.9M84.8 508.5h0.9M71.7 522.7h0.9M75.2 521.8h0.9M62.3 524.4h0.9M94.0 520.1h0.9M58.1 527.1h0.9M83.7 517.9h0.9M81.4 524.5h0.9M68.8 515.8h0.9M94.1 523.3h0.9M56.5 531.9h0.9M65.9 517.6h0.9M68.5 528.7h0.9M80.7 513.8h0.9M78.6 518.8h0.9M83.5 520.1h0.9M89.4 534.3h0.9M55.8 515.0h0.9M77.4 534.0h0.9M71.0 508.3h0.9M82.6 520.8h0.9M76.1 531.1h0.9M68.9 529.0h0.9M55.3 512.6h0.9M67.4 510.6h0.9M72.8 530.7h0.9M68.5 510.2h0.9M70.2 527.9h0.9M81.0 517.3h0.9M68.4 522.2h0.9M89.0 544.5h0.9M69.5 537.2h0.9M72.4 530.4h0.9M72.3 509.1h0.9M91.1 525.4h0.9M79.2 522.8h0.9M93.6 521.3h0.9M55.2 535.1h0.9M93.2 505.8h0.9M62.8 525.4h0.9M90.9 523.5h0.9M56.8 515.1h0.9M89.3 538.9h0.9M80.3 510.1h0.9M82.4 522.6h0.9M70.6 523.1h0.9M70.5 501.2h0.9M61.3 508.5h0.9M60.6 513.0h0.9M80.0 529.8h0.9M68.7 531.4h0.9M56.2 528.0h0.9M61.8 524.6h0.9M61.8 501.1h0.9M62.7 524.3h0.9M73.2 517.3h0.9M91.4 533.5h0.9M78.3 535.2h0.9M84.6 543.8h0.9M59.2 529.1h0.9M82.7 530.1h0.9M89.6 512.3h0.9M94.8 523.0h0.9M83.5 510.4h0.9M79.3 530.9h0.9M93.5 510.8h0.9M60.2 520.2h0.9M86.7 514.4h0.9M83.8 517.7h0.9M84.0 526.6h0.9M69.2 516.8h0.9M58.2 524.4h0.9M60.7 512.6h0.9M82.1 535.7h0.9M67.5 516.0h0.9M93.0 532.0h0.9M59.9 542.8h0.9M87.6 498.8h0.9M74.1 512.7h0.9M66.8 520.2h0.9M65.2 533.5h0.9M69.1 517.6h0.9M69.7 525.9h0.9M64.0 515.2h0.9M63.8 527.6h0.9M93.8 510.5h0.9M71.9 530.3h0.9M79.9 493.4h0.9M83.1 504.0h0.9M68.3 539.8h0.9M92.4 523.9h0.9M66.8 513.6h0.9M62.7 543.5h0.9M56.8 532.3h0.9M65.5 533.1h0.9M57.5 518.1h0.9M80.1 528.2h0.9M78.0 527.1h0.9M55.9 506.2h0.9M93.0 527.9h0.9M84.1 520.4h0.9M77.0 534.6h0.9M92.8 534.8h0.9M76.2 516.0h0.9M62.0 516.3h0.9M86.2 524.0h0.9M93.2 528.5h0.9M57.4 518.2h0.9M75.2 521.1h0.9M64.1 528.1h0.9M91.2 526.3h0.9M58.8 533.4h0.9M87.3 524.5h0.9M63.2 513.6h0.9M80.7 505.1h0.9M82.7 530.0h0.9M85.4 518.9h0.9M57.1 518.8h0.9M74.3 519.3h0.9M60.0 506.9h0.9M60.1 518.4h0.9M61.5 496.9h0.9M60.9 518.2h0.9M92.4 513.5h0.9M77.4 540.0h0.9M65.1 526.5h0.9M74.4 520.1h0.9M57.2 523.7h0.9M63.6 529.2h0.9M80.1 514.8h0.9M82.8 519.9h0.9M79.6 518.7h0.9M94.2 522.8h0.9M88.4 503.0h0.9M73.6 529.9h0.9M65.0 512.8h0.9M64.7 521.5h0.9M94.6 531.9h0.9M55.5 516.6h0.9M86.8 519.5h0.9M75.0 510.1h0.9M87.7 511.8h0.9M75.8 501.2h0.9M88.3 533.3h0.9M83.3 510.9h0.9M80.6 525.7h0.9M93.1 525.3h0.9M59.7 515.8h0.9M92.0 522.6h0.9M75.9 521.2h0.9M83.3 517.3h0.9M81.7 522.6h0.9M70.7 522.6h0.9M76.1 512.1h0.9M93.9 509.4h0.9M74.5 513.8h0.9M91.7 523.3h0.9M55.3 535.6h0.9M78.0 536.5h0.9M82.6 525.2h0.9M70.8 531.3h0.9M58.2 523.3h0.9M86.7 532.9h0.9M85.1 523.3h0.9M70.3 525.9h0.9M58.9 519.3h0.9M88.6 522.0h0.9M86.0 540.7h0.9M88.4 510.3h0.9M87.8 522.1h0.9M65.5 516.3h0.9M80.0 531.5h0.9M73.6 539.9h0.9M70.6 519.0h0.9M71.4 494.9h0.9M81.9 528.1h0.9M94.9 528.1h0.9M73.9 505.5h0.9M69.7 519.7h0.9M80.1 521.4h0.9M80.2 499.3h0.9M71.3 528.7h0.9M80.8 526.4h0.9M81.3 524.4h0.9M84.9 511.6h0.9M61.7 515.0h0.9M81.1 515.8h0.9M71.7 526.7h0.9M90.2 512.3h0.9M79.7 536.4h0.9M87.4 525.7h0.9M87.4 500.6h0.9M63.5 538.6h0.9M58.1 523.6h0.9M85.4 516.6h0.9M57.2 523.0h0.9M92.9 504.0h0.9M82.6 523.9h0.9M71.9 497.8h0.9M81.8 511.9h0.9M60.3 535.3h0.9M80.5 534.4h0.9M91.8 518.6h0.9M55.0 512.4h0.9M92.5 531.2h0.9M67.4 521.5h0.9M70.9 524.1h0.9M92.6 528.1h0.9M86.9 511.3h0.9M70.4 529.8h0.9M94.2 501.1h0.9M56.3 536.4h0.9M81.4 506.4h0.9M75.4 515.7h0.9M90.5 515.3h0.9M55.7 529.1h0.9M67.9 529.3h0.9M74.1 525.5h0.9M57.9 527.3h0.9M80.8 526.6h0.9M88.9 521.2h0.9M91.3 503.0h0.9M60.8 499.1h0.9M75.3 499.1h0.9M94.4 521.4h0.9M57.9 519.6h0.9M83.2 520.5h0.9M66.4 524.1h0.9M91.3 519.6h0.9M79.3 512.0h0.9M90.9 507.0h0.9M57.0 503.1h0.9M79.2 533.9h0.9M71.8 530.9h0.9M59.3 508.5h0.9M71.4 519.1h0.9M84.7 526.2h0.9M78.3 537.7h0.9M78.8 515.9h0.9M66.2 523.6h0.9M75.4 533.3h0.9M72.9 504.6h0.9M91.4 514.6h0.9M90.1 521.4h0.9M72.5 514.7h0.9M75.1 542.8h0.9M66.7 530.4h0.9M77.7 523.8h0.9M60.2 512.3h0.9M93.6 530.4h0.9M71.6 528.1h0.9M55.4 516.7h0.9M66.9 517.5h0.9M93.0 507.3h0.9M67.4 521.0h0.9M70.5 530.4h0.9M94.0 531.7h0.9M86.4 527.6h0.9M69.4 530.0h0.9M61.6 515.9h0.9M70.6 517.1h0.9M69.9 533.7h0.9M90.8 526.3h0.9M76.6 513.9h0.9M92.0 526.7h0.9M94.4 530.0h0.9M89.8 528.8h0.9M71.3 522.8h0.9M70.6 516.7h0.9M76.9 525.7h0.9M82.2 538.6h0.9M89.0 523.2h0.9M87.7 515.1h0.9M67.5 525.1h0.9M84.4 509.5h0.9M70.0 524.0h0.9M86.1 518.8h0.9M55.5 531.2h0.9M88.9 522.8h0.9M82.9 532.2h0.9M60.9 544.5h0.9M65.0 519.6h0.9M67.4 513.5h0.9M75.5 526.3h0.9M91.2 520.9h0.9M93.8 523.1h0.9M79.1 515.8h0.9M59.4 527.2h0.9M94.1 522.4h0.9M93.4 500.4h0.9M58.5 519.4h0.9M81.6 525.0h0.9M81.7 533.4h0.9M81.4 516.0h0.9M84.0 513.8h0.9M55.2 533.1h0.9M67.4 515.7h0.9M68.5 522.8h0.9M81.0 526.4h0.9M58.8 529.0h0.9M66.1 521.8h0.9M62.0 510.7h0.9M56.9 531.7h0.9M73.9 517.4h0.9M63.2 516.6h0.9M74.3 541.5h0.9M63.2 530.4h0.9M86.7 511.2h0.9M59.5 517.0h0.9M85.8 519.3h0.9M81.3 514.3h0.9M61.3 502.8h0.9M70.1 529.6h0.9M70.3 529.4h0.9M73.2 524.1h0.9M82.0 517.7h0.9M55.6 523.8h0.9M61.6 528.0h0.9M82.9 511.4h0.9M58.7 518.4h0.9M88.8 516.2h0.9M69.8 528.6h0.9M56.5 524.3h0.9M85.7 508.9h0.9M64.8 515.6h0.9M94.9 539.1h0.9M91.9 512.1h0.9M90.4 523.2h0.9M90.4 515.5h0.9M57.9 534.0h0.9M56.1 521.0h0.9M71.0 517.4h0.9M71.8 510.1h0.9M71.4 519.3h0.9M78.9 529.8h0.9M86.4 528.3h0.9M86.5 508.6h0.9M92.2 537.0h0.9M82.1 519.2h0.9M90.1 511.3h0.9M58.6 522.9h0.9M56.0 515.5h0.9M73.1 515.9h0.9M90.3 515.4h0.9M70.4 520.8h0.9M59.4 516.7h0.9M60.1 504.8h0.9M64.2 526.8h0.9M89.5 516.5h0.9M68.4 533.4h0.9M89.4 526.9h0.9M92.7 527.7h0.9M86.0 523.4h0.9M91.9 534.4h0.9M65.2 518.4h0.9M62.8 511.9h0.9M64.7 525.0h0.9M55.7 494.9h0.9M92.2 518.0h0.9M63.2 523.7h0.9M80.2 517.5h0.9M66.4 534.0h0.9M76.6 528.5h0.9M72.4 522.7h0.9M83.8 517.7h0.9M63.0 532.4h0.9M66.5 514.9h0.9M60.5 517.5h0.9M68.0 528.9h0.9M88.3 527.4h0.9M93.5 541.6h0.9M55.6 519.5h0.9M88.8 503.1h0.9M84.4 528.1h0.9M58.2 533.9h0.9M61.4 520.0h0.9M89.6 536.9h0.9M62.8 539.1h0.9M91.3 515.0h0.9M76.6 516.9h0.9M94.4 509.3h0.9M75.2 526.9h0.9M60.2 528.6h0.9M79.2 527.5h0.9M72.8 509.5h0.9M57.8 514.1h0.9M87.7 507.5h0.9M91.0 505.7h0.9M93.6 508.3h0.9M80.8 506.0h0.9M78.3 519.8h0.9M62.8 525.7h0.9M93.6 527.7h0.9M84.4 521.3h0.9M81.7 515.0h0.9M82.8 521.4h0.9M88.7 527.1h0.9M68.7 518.6h0.9M59.5 522.0h0.9M94.6 518.5h0.9M56.3 516.4h0.9M65.9 521.9h0.9M74.7 510.6h0.9M56.6 531.8h0.9M67.4 506.2h0.9M89.8 526.0h0.9M80.0 508.2h0.9M78.4 536.3h0.9M55.7 530.0h0.9M72.1 513.6h0.9M59.9 517.1h0.9M70.5 510.5h0.9M70.5 520.9h0.9M72.0 525.5h0.9M86.2 508.1h0.9M73.5 533.6h0.9M91.3 515.8h0.9M68.8 524.2h0.9M60.7 530.1h0.9M69.2 526.8h0.9M89.9 525.6h0.9M69.4 519.6h0.9M87.8 521.4h0.9M82.7 523.0h0.9M65.3 533.2h0.9M62.7 507.1h0.9M59.5 516.7h0.9M73.0 509.3h0.9M82.8 512.1h0.9M66.8 513.7h0.9M93.2 532.2h0.9M55.6 542.5h0.9M86.4 534.7h0.9M61.8 509.9h0.9M94.9 522.2h0.9M58.9 510.4h0.9M91.8 525.9h0.9M71.1 533.9h0.9M66.5 527.2h0.9M56.6 530.0h0.9M63.8 520.1h0.9M70.3 502.3h0.9M92.4 502.1h0.9M93.7 520.5h0.9M58.2 527.1h0.9M77.5 533.9h0.9M56.3 518.1h0.9M59.2 522.2h0.9M79.6 524.0h0.9M76.1 531.9h0.9M91.0 520.8h0.9M91.1 510.8h0.9M61.4 532.1h0.9M80.4 525.5h0.9M87.3 525.2h0.9M85.9 509.1h0.9M77.7 521.4h0.9M75.5 504.7h0.9M77.8 501.9h0.9M71.5 519.2h0.9M77.6 517.2h0.9M90.7 527.0h0.9M68.9 535.6h0.9M72.6 521.2h0.9M72.5 538.9h0.9M89.7 515.8h0.9M64.8 528.9h0.9M72.6 509.1h0.9M85.1 522.7h0.9M70.7 518.4h0.9M89.2 519.5h0.9M76.5 527.2h0.9M59.0 503.1h0.9M69.7 522.6h0.9M60.9 513.6h0.9M72.6 522.6h0.9M69.6 525.3h0.9M68.6 517.9h0.9M88.2 517.9h0.9M90.9 510.3h0.9M85.2 526.9h0.9M85.6 514.9h0.9M90.7 525.8h0.9M91.7 507.6h0.9M62.0 534.8h0.9M90.9 511.5h0.9M61.4 532.8h0.9M65.9 517.1h0.9M86.6 526.8h0.9M60.7 520.1h0.9M93.6 528.1h0.9M92.3 521.5h0.9M55.0 533.9h0.9M80.5 528.0h0.9M92.0 528.1h0.9M76.6 537.8h0.9M76.5 514.7h0.9M78.5 534.2h0.9M77.1 522.2h0.9M78.3 507.1h0.9M82.2 526.2h0.9M93.2 519.5h0.9M58.3 537.9h0.9M64.4 516.7h0.9M55.2 522.0h0.9M57.7 523.8h0.9M63.1 502.9h0.9M91.1 526.4h0.9M67.6 511.8h0.9M79.0 535.2h0.9M67.5 537.7h0.9M94.5 521.4h0.9M62.7 506.1h0.9M70.8 523.3h0.9M69.8 523.2h0.9M63.5 528.5h0.9M58.0 518.6h0.9M70.6 509.9h0.9M63.1 520.1h0.9M55.9 512.5h0.9M90.4 538.8h0.9M68.7 514.6h0.9M55.5 515.1h0.9M79.6 521.0h0.9M74.1 509.4h0.9M82.6 517.2h0.9M69.4 520.2h0.9M60.6 516.7h0.9M80.6 519.1h0.9M70.9 533.6h0.9M90.1 525.7h0.9M68.1 508.5h0.9M63.9 517.3h0.9M62.4 528.8h0.9M65.2 515.2h0.9M64.5 522.3h0.9M75.9 521.2h0.9M69.9 526.6h0.9M93.8 519.8h0.9M63.2 520.1h0.9M92.6 513.1h0.9M68.4 525.0h0.9M74.3 512.5h0.9M93.4 538.4h0.9M86.2 521.3h0.9M92.9 519.3h0.9M76.6 529.2h0.9M67.7 520.7h0.9M82.0 522.4h0.9M82.4 521.0h0.9M56.7 514.4h0.9M59.3 512.5h0.9M92.9 514.7h0.9M83.8 532.5h0.9M87.9 515.4h0.9M62.5 517.5h0.9M94.0 517.1h0.9M67.0 528.3h0.9M60.6 540.8h0.9M69.4 512.5h0.9M69.1 526.8h0.9M57.3 522.7h0.9M88.9 518.6h0.9M89.8 526.4h0.9M62.9 509.1h0.9M77.0 529.6h0.9M89.8 523.6h0.9M70.1 511.8h0.9M75.4 537.0h0.9M64.8 529.8h0.9M73.7 532.8h0.9M67.5 507.3h0.9M88.0 518.9h0.9M61.4 516.4h0.9M56.3 527.6h0.9M91.0 534.7h0.9M61.9 503.0h0.9M77.0 521.7h0.9M83.4 520.3h0.9M68.1 531.2h0.9M92.2 521.1h0.9M68.5 509.1h0.9M62.9 519.6h0.9M57.6 511.4h0.9M91.0 513.9h0.9M63.6 521.9h0.9M90.9 516.8h0.9M73.3 524.2h0.9M92.3 506.8h0.9M58.5 544.1h0.9M89.2 533.8h0.9M94.2 528.5h0.9M83.4 508.9h0.9M60.3 500.5h0.9M94.9 513.1h0.9M87.0 519.2h0.9M63.4 543.2h0.9M93.8 534.2h0.9M58.4 516.4h0.9M60.2 533.2h0.9M55.6 533.4h0.9M78.7 521.7h0.9M71.2 533.3h0.9M58.4 524.7h0.9M74.7 515.1h0.9M90.2 510.1h0.9M58.7 520.3h0.9M80.6 531.2h0.9M61.7 508.3h0.9M75.4 505.8h0.9M68.7 526.8h0.9M66.0 495.1h0.9M55.5 539.2h0.9M78.1 517.2h0.9M72.7 528.6h0.9M82.7 539.6h0.9M62.4 507.4h0.9M94.3 511.3h0.9M55.8 543.3h0.9M62.8 518.7h0.9M80.7 520.3h0.9M60.4 523.7h0.9M65.4 531.8h0.9M75.1 534.4h0.9M85.3 522.6h0.9M89.6 518.2h0.9M67.7 521.1h0.9M81.3 524.4h0.9M55.9 534.2h0.9M90.6 522.8h0.9M81.9 539.2h0.9M91.1 513.2h0.9M63.4 526.7h0.9M74.9 538.6h0.9M84.7 534.0h0.9M56.0 524.7h0.9M88.6 512.9h0.9M83.3 514.6h0.9M86.5 520.0h0.9M61.5 524.5h0.9M86.1 519.1h0.9M77.7 507.4h0.9M61.0 514.3h0.9M60.3 526.5h0.9M89.3 529.6h0.9M70.9 507.9h0.9M65.9 518.0h0.9M69.7 505.2h0.9M82.4 516.0h0.9M61.5 522.1h0.9M81.0 518.1h0.9M90.8 515.8h0.9M81.9 509.7h0.9M92.8 503.4h0.9M66.3 521.1h0.9M69.2 518.8h0.9M69.9 535.9h0.9M69.3 505.6h0.9M65.7 525.7h0.9M86.7 534.5h0.9M66.3 502.5h0.9M71.7 527.9h0.9M73.9 505.9h0.9M94.9 526.6h0.9M68.2 535.8h0.9M82.6 521.5h0.9M68.1 524.3h0.9M87.0 514.8h0.9M70.5 524.3h0.9M55.9 532.5h0.9M75.9 519.7h0.9M68.5 520.1h0.9M65.6 525.3h0.9M66.7 529.5h0.9M55.1 505.6h0.9M84.2 522.1h0.9M76.9 514.8h0.9M80.5 526.3h0.9M77.8 531.6h0.9M70.2 524.5h0.9M73.3 534.1h0.9M74.1 511.9h0.9M91.7 517.5h0.9M68.9 511.9h0.9M61.1 522.1h0.9M58.4 522.4h0.9M68.5 519.6h0.9M77.9 509.7h0.9M78.3 520.8h0.9M84.1 517.3h0.9M81.4 527.4h0.9M58.3 518.9h0.9M70.6 532.8h0.9M69.8 523.8h0.9M59.5 503.5h0.9M78.5 519.8h0.9M86.0 507.6h0.9M56.7 530.9h0.9M76.2 535.4h0.9M59.8 521.2h0.9M86.1 525.8h0.9M77.3 507.5h0.9M57.6 499.7h0.9M75.6 516.1h0.9M64.6 519.0h0.9M63.3 506.8h0.9M81.7 522.4h0.9M71.2 524.6h0.9M92.1 527.8h0.9M91.7 536.6h0.9M89.1 529.4h0.9M71.4 518.0h0.9M91.2 522.5h0.9M57.9 527.4h0.9M86.0 511.4h0.9M69.4 534.4h0.9M89.6 530.3h0.9M56.2 519.3h0.9M78.0 515.3h0.9M66.8 529.7h0.9M77.6 530.7h0.9M60.6 539.0h0.9M82.8 531.1h0.9M75.5 523.6h0.9M63.9 528.4h0.9M76.5 512.7h0.9M72.8 528.5h0.9M56.3 506.6h0.9M83.4 525.7h0.9M83.6 527.0h0.9M91.4 506.4h0.9M92.7 540.2h0.9M69.8 510.4h0.9M80.7 531.7h0.9M79.3 516.4h0.9M57.1 524.6h0.9M84.0 515.2h0.9M72.0 531.6h0.9M79.8 539.2h0.9M75.2 529.2h0.9M66.2 528.4h0.9M89.9 523.1h0.9M58.8 519.3h0.9M79.1 527.6h0.9M62.4 523.2h0.9M92.0 520.2h0.9M92.5 508.3h0.9M83.5 518.7h0.9M90.4 527.6h0.9M85.7 517.1h0.9M81.2 525.1h0.9M84.9 520.3h0.9M91.4 511.7h0.9M63.7 512.9h0.9M84.2 514.5h0.9M62.2 518.9h0.9M73.4 519.2h0.9M68.6 532.6h0.9M80.4 511.1h0.9M80.6 501.8h0.9M91.1 528.4h0.9M88.6 517.3h0.9M57.6 520.6h0.9M56.8 536.0h0.9M83.4 527.5h0.9M68.8 531.0h0.9M94.0 522.9h0.9M63.6 531.1h0.9M93.3 515.8h0.9M85.3 514.8h0.9M85.5 517.2h0.9M79.3 537.1h0.9M90.4 536.9h0.9M64.4 515.9h0.9M89.8 533.1h0.9M90.2 520.2h0.9M79.3 532.2h0.9M81.5 518.7h0.9M64.2 531.1h0.9M74.7 520.7h0.9M78.5 519.0h0.9M67.6 521.6h0.9M56.7 523.3h0.9M93.0 516.1h0.9M87.2 508.5h0.9M69.6 538.3h0.9M76.3 518.0h0.9M78.6 504.1h0.9M93.3 499.7h0.9M77.3 494.5h0.9M83.9 515.9h0.9M87.1 535.1h0.9M59.0 505.9h0.9M78.3 518.7h0.9M92.2 503.9h0.9M88.0 532.6h0.9M91.9 525.4h0.9M61.5 525.0h0.9M86.1 535.0h0.9M66.2 537.9h0.9M90.0 531.9h0.9M86.4 516.2h0.9M70.0 508.9h0.9M78.2 511.7h0.9M73.8 504.8h0.9M92.7 539.5h0.9M77.2 520.0h0.9M58.1 523.1h0.9M76.4 523.8h0.9M55.8 541.6h0.9M60.4 516.4h0.9M74.6 533.4h0.9M73.5 524.8h0.9M57.8 520.4h0.9M68.6 503.1h0.9M66.5 530.9h0.9M66.5 514.6h0.9M72.7 517.4h0.9M56.4 524.1h0.9M56.3 522.8h0.9M64.4 532.9h0.9M83.7 515.3h0.9M92.5 523.5h0.9M85.2 524.6h0.9M58.1 522.2h0.9M88.0 528.5h0.9M87.8 519.4h0.9M88.8 533.7h0.9M84.1 515.0h0.9M65.4 507.8h0.9M74.8 521.5h0.9M72.6 533.5h0.9M56.4 516.9h0.9M76.6 515.8h0.9M65.6 518.5h0.9M93.1 523.5h0.9M81.7 520.2h0.9M87.4 524.9h0.9M56.3 505.1h0.9M83.5 536.6h0.9M87.1 527.6h0.9M73.5 513.5h0.9M65.1 535.3h0.9M74.5 526.3h0.9M77.0 536.3h0.9M72.4 510.4h0.9M67.7 538.1h0.9M81.7 522.4h0.9M90.7 501.8h0.9M65.7 529.3h0.9M90.3 519.0h0.9M57.2 512.0h0.9M82.5 519.8h0.9M68.8 502.9h0.9M76.0 527.6h0.9M69.2 519.8h0.9M58.2 519.3h0.9M61.6 535.7h0.9M94.5 522.2h0.9M71.6 515.4h0.9M93.0 512.6h0.9M75.8 521.3h0.9M91.0 532.3h0.9M72.8 516.2h0.9M94.7 511.8h0.9M74.1 530.9h0.9M65.3 522.5h0.9M62.0 521.7h0.9M57.9 542.3h0.9M59.4 510.0h0.9M82.3 523.9h0.9M69.5 504.5h0.9M89.9 519.0h0.9M62.9 527.7h0.9M92.4 532.9h0.9M62.6 509.5h0.9M65.8 530.1h0.9M68.6 529.6h0.9M65.5 520.7h0.9M87.1 521.9h0.9M57.8 513.3h0.9M64.8 526.1h0.9M57.1 503.7h0.9M86.0 537.2h0.9M59.8 531.6h0.9M75.4 518.0h0.9M89.7 527.9h0.9M67.6 527.1h0.9M59.6 540.8h0.9M65.7 515.9h0.9M92.6 509.3h0.9M58.8 502.0h0.9M89.6 519.0h0.9M59.8 506.6h0.9M61.5 520.2h0.9M85.9 525.9h0.9M80.6 517.6h0.9M67.8 512.7h0.9M83.1 533.6h0.9M60.9 519.9h0.9M90.2 524.2h0.9M78.0 531.2h0.9M92.8 509.1h0.9M78.8 512.9h0.9M89.3 520.3h0.9M78.3 511.7h0.9M58.5 519.4h0.9M79.5 516.3h0.9M66.7 509.9h0.9M80.5 517.9h0.9M94.9 521.7h0.9M79.4 521.8h0.9M88.4 527.2h0.9M69.2 504.9h0.9M55.5 507.3h0.9M56.9 529.6h0.9M55.7 517.6h0.9M63.7 533.8h0.9M65.8 524.9h0.9M67.9 508.1h0.9M81.2 527.1h0.9M85.0 512.0h0.9M85.8 524.4h0.9M85.1 533.9h0.9M89.2 542.6h0.9M83.8 521.2h0.9M73.4 528.7h0.9M71.5 524.8h0.9M58.3 529.6h0.9M55.5 497.0h0.9M89.3 518.1h0.9M60.9 524.7h0.9M89.6 526.5h0.9M71.0 514.5h0.9M57.4 530.0h0.9M88.2 532.7h0.9M83.6 522.6h0.9M94.9 519.7h0.9M76.7 518.4h0.9M92.2 523.3h0.9M75.3 533.4h0.9M65.5 536.5h0.9M71.0 517.3h0.9M81.4 512.8h0.9M90.6 514.2h0.9M87.6 531.5h0.9M92.2 524.1h0.9M76.5 524.8h0.9M73.4 526.6h0.9M76.0 525.6h0.9M92.3 520.7h0.9M69.6 511.7h0.9M57.4 515.9h0.9M70.7 523.1h0.9M81.0 525.7h0.9M88.3 518.3h0.9M92.7 517.8h0.9M82.5 535.2h0.9M87.5 517.3h0.9M87.5 524.1h0.9M87.4 518.8h0.9M79.0 513.5h0.9M92.8 507.1h0.9M90.7 516.7h0.9M55.3 513.9h0.9M59.9 530.2h0.9M94.7 510.7h0.9M81.7 517.9h0.9M60.6 528.3h0.9M91.4 520.8h0.9M58.6 526.7h0.9M76.5 530.0h0.9M70.5 505.8h0.9M66.5 517.9h0.9M64.6 512.6h0.9M58.5 535.0h0.9M70.1 520.8h0.9M59.0 526.7h0.9M80.0 538.4h0.9M67.9 518.4h0.9M85.7 522.6h0.9M92.5 525.9h0.9M90.5 519.3h0.9M84.6 534.1h0.9M86.2 529.8h0.9M58.7 531.6h0.9M93.9 522.4h0.9M78.0 518.6h0.9M76.7 518.4h0.9M82.0 518.4h0.9M62.5 506.0h0.9M73.8 525.4h0.9M59.9 529.8h0.9M91.7 521.8h0.9M75.0 517.1h0.9M60.3 522.2h0.9M93.8 524.1h0.9M78.2 525.1h0.9M85.2 539.3h0.9M87.1 513.6h0.9M82.8 525.4h0.9M72.7 528.6h0.9M66.2 522.6h0.9M57.1 519.6h0.9M80.0 512.0h0.9M59.4 516.1h0.9M69.8 528.7h0.9M90.6 535.9h0.9M91.2 515.5h0.9M87.9 526.4h0.9M62.7 526.9h0.9M92.7 531.6h0.9M60.6 524.2h0.9M91.7 526.1h0.9M85.0 530.5h0.9M93.8 510.6h0.9M94.4 522.3h0.9M76.0 504.9h0.9M67.5 502.9h0.9M91.7 513.9h0.9M67.5 507.0h0.9M68.3 526.7h0.9M77.8 531.4h0.9M60.7 518.9h0.9M73.2 520.5h0.9M60.5 519.6h0.9M73.1 519.3h0.9M91.3 523.2h0.9M91.8 525.2h0.9M93.3 517.4h0.9M84.0 514.3h0.9M84.9 516.9h0.9M72.1 529.5h0.9M90.8 517.8h0.9M60.4 535.8h0.9M61.7 519.5h0.9M59.7 535.0h0.9M71.3 510.4h0.9M57.4 515.2h0.9M83.1 526.4h0.9M62.3 526.5h0.9M82.6 520.3h0.9M77.5 541.4h0.9M82.7 522.5h0.9M83.1 524.6h0.9M86.4 516.4h0.9M74.2 537.7h0.9M77.8 530.0h0.9M65.0 525.8h0.9M75.0 506.2h0.9M58.6 525.3h0.9M93.2 517.4h0.9M92.2 525.6h0.9M57.9 530.6h0.9M55.4 514.7h0.9M70.8 523.9h0.9M76.1 530.2h0.9M74.2 523.4h0.9M68.5 518.7h0.9M79.9 511.7h0.9M71.0 515.4h0.9M71.2 509.7h0.9M56.3 531.3h0.9M78.7 522.8h0.9M58.3 510.2h0.9M89.3 521.8h0.9M74.1 509.5h0.9M69.2 490.4h0.9M81.4 533.3h0.9M90.4 533.0h0.9M61.7 507.7h0.9M71.1 515.0h0.9M93.9 523.8h0.9M89.6 518.1h0.9M70.6 513.6h0.9M69.5 516.9h0.9M87.6 519.5h0.9M58.4 516.5h0.9M59.7 523.8h0.9M77.8 519.6h0.9M77.7 514.5h0.9M77.8 522.0h0.9M85.6 506.0h0.9M90.3 535.6h0.9M71.0 505.2h0.9M68.0 521.0h0.9M89.0 525.0h0.9M64.8 525.7h0.9M90.0 524.3h0.9M83.3 533.8h0.9M88.9 511.1h0.9M80.5 521.1h0.9M59.2 523.2h0.9M83.6 517.1h0.9M74.8 516.1h0.9M62.3 534.0h0.9" stroke="#111" stroke-width="0.9" fill="none" stroke-opacity="0.9" clip-path="url(#clipE)"/>
<path d="M61.7 519.1h0.8M91.3 502.7h0.8M75.1 499.8h0.8M90.2 525.4h0.8M55.1 526.2h0.8M83.3 517.7h0.8M84.9 513.6h0.8M62.3 504.3h0.8M91.0 519.1h0.8M64.1 519.3h0.8M67.5 504.2h0.8M87.9 502.2h0.8M91.3 510.2h0.8M65.0 515.2h0.8M73.7 513.2h0.8M88.5 531.4h0.8M76.0 503.5h0.8M63.6 525.7h0.8M69.4 540.6h0.8M79.8 532.5h0.8M83.5 504.1h0.8M66.8 478.7h0.8M62.1 531.8h0.8M85.7 527.0h0.8M66.6 511.8h0.8M64.3 537.9h0.8M66.0 514.3h0.8M63.7 521.5h0.8M59.8 505.5h0.8M69.9 524.5h0.8M62.0 514.0h0.8M80.4 513.0h0.8M58.6 535.1h0.8M68.8 523.0h0.8M92.4 499.1h0.8M72.8 529.7h0.8M90.2 531.7h0.8M63.6 508.3h0.8M85.9 514.5h0.8M58.0 520.8h0.8M92.5 516.5h0.8M93.0 521.7h0.8M82.2 529.1h0.8M62.6 513.1h0.8M86.7 510.0h0.8M80.7 512.5h0.8M85.7 520.5h0.8M63.5 517.4h0.8M74.7 505.0h0.8M70.3 536.0h0.8M63.0 522.4h0.8M64.8 508.2h0.8M89.9 525.7h0.8M57.0 539.2h0.8M74.2 529.6h0.8M58.9 536.2h0.8M57.8 526.2h0.8M72.0 519.5h0.8M68.8 527.7h0.8M64.9 537.0h0.8M64.7 532.0h0.8M63.7 534.8h0.8M80.0 523.1h0.8M93.6 530.7h0.8M66.8 537.0h0.8M70.5 517.7h0.8M82.4 501.9h0.8M66.8 544.2h0.8M59.6 528.2h0.8M80.5 513.8h0.8M68.7 523.3h0.8M54.7 516.5h0.8M67.6 496.1h0.8M89.7 517.4h0.8M56.6 500.1h0.8M90.2 522.8h0.8M79.1 518.5h0.8M87.8 535.9h0.8M76.9 518.3h0.8M82.9 525.2h0.8M90.0 515.8h0.8M61.4 514.7h0.8M58.9 500.4h0.8M77.4 533.9h0.8M73.7 522.4h0.8M75.3 511.8h0.8M68.9 522.9h0.8M93.7 514.2h0.8M78.7 509.9h0.8M78.9 523.5h0.8M55.6 537.0h0.8M65.6 516.2h0.8M65.8 500.1h0.8M94.2 511.4h0.8M60.0 545.2h0.8M74.7 508.6h0.8M83.8 536.6h0.8M79.4 516.7h0.8M85.0 530.4h0.8M69.0 518.5h0.8M61.0 497.9h0.8M63.6 514.2h0.8M75.3 518.2h0.8M70.8 527.9h0.8M91.3 515.3h0.8M70.5 518.2h0.8M63.0 524.5h0.8M78.5 526.6h0.8M85.9 519.8h0.8M76.9 517.5h0.8M54.8 510.7h0.8M73.9 501.6h0.8M61.9 497.5h0.8M63.9 529.3h0.8M85.3 494.0h0.8M93.0 539.7h0.8M89.4 532.0h0.8M63.9 515.9h0.8M71.5 503.9h0.8M88.9 520.4h0.8M88.2 520.3h0.8M56.8 535.8h0.8M65.6 509.6h0.8M78.2 514.7h0.8M62.3 519.3h0.8M55.3 516.2h0.8M63.3 511.3h0.8M76.2 496.0h0.8M83.1 497.1h0.8M84.0 510.6h0.8M77.1 516.9h0.8M78.4 534.0h0.8M86.3 544.0h0.8M80.5 525.6h0.8M90.6 518.4h0.8M59.2 512.7h0.8M75.8 505.1h0.8M72.4 514.2h0.8M90.8 516.4h0.8M66.8 540.5h0.8M81.6 511.7h0.8M82.3 531.0h0.8M64.0 514.4h0.8M54.8 502.9h0.8M71.2 523.4h0.8M62.6 522.4h0.8M62.1 503.9h0.8M72.9 507.9h0.8M61.7 509.0h0.8M76.9 533.5h0.8M79.1 526.5h0.8M73.3 523.4h0.8M77.1 526.9h0.8M62.4 513.4h0.8M77.5 526.8h0.8M88.7 511.6h0.8M88.4 501.4h0.8M58.9 510.2h0.8M67.5 523.0h0.8M83.2 521.3h0.8M78.1 534.9h0.8M70.0 496.4h0.8M87.8 517.0h0.8M90.3 525.6h0.8M77.0 506.6h0.8M64.5 523.6h0.8M93.0 514.4h0.8M73.7 504.3h0.8M68.3 535.8h0.8M59.6 500.6h0.8M92.2 534.1h0.8M82.1 514.3h0.8M57.3 506.9h0.8M61.8 507.7h0.8M91.5 509.8h0.8M57.5 508.2h0.8M81.5 523.9h0.8M77.3 494.0h0.8M74.5 537.5h0.8M82.2 531.8h0.8M68.0 539.5h0.8M79.5 506.4h0.8M89.6 487.7h0.8M77.4 511.4h0.8M75.5 517.8h0.8M79.0 524.4h0.8M62.0 512.9h0.8M67.8 518.9h0.8M83.2 522.2h0.8M77.2 498.4h0.8M89.2 504.4h0.8M71.0 523.8h0.8M64.4 535.2h0.8M60.5 509.2h0.8M91.5 520.2h0.8M83.7 543.0h0.8M66.9 516.2h0.8M62.2 534.8h0.8M88.6 524.2h0.8M60.4 523.3h0.8M75.4 530.2h0.8M81.2 516.9h0.8M92.0 517.2h0.8M81.9 533.6h0.8M58.8 523.8h0.8M75.3 527.1h0.8M90.9 503.4h0.8M65.3 520.4h0.8M58.0 537.1h0.8M56.8 532.8h0.8M87.9 525.0h0.8M91.8 512.9h0.8M72.9 511.6h0.8M66.7 526.3h0.8M70.4 540.1h0.8M61.6 520.8h0.8M72.0 538.5h0.8M73.4 516.0h0.8M75.8 537.0h0.8M58.7 506.2h0.8M93.5 522.8h0.8M79.5 505.3h0.8M77.4 529.4h0.8M87.6 528.2h0.8M56.5 506.9h0.8M78.0 509.8h0.8M69.3 514.0h0.8M80.1 499.4h0.8M92.0 507.3h0.8M57.3 508.1h0.8M61.4 531.2h0.8M68.5 539.6h0.8M75.9 514.0h0.8M87.6 516.2h0.8M83.9 523.2h0.8M76.5 512.9h0.8M62.2 516.3h0.8M74.6 531.9h0.8M72.1 523.4h0.8M59.0 519.0h0.8M91.1 512.2h0.8M88.2 540.8h0.8M79.0 511.6h0.8M64.4 521.9h0.8M77.6 505.8h0.8M67.4 511.9h0.8M80.4 521.5h0.8M56.0 514.7h0.8M78.6 527.7h0.8M76.9 521.2h0.8M91.5 500.9h0.8M77.3 487.9h0.8M85.8 534.1h0.8M63.4 512.0h0.8M76.6 540.9h0.8M67.4 520.4h0.8M93.9 509.5h0.8M92.8 528.0h0.8M64.3 516.4h0.8M79.4 520.4h0.8M57.3 507.2h0.8M76.4 529.1h0.8M93.9 535.5h0.8M60.1 512.9h0.8M83.7 545.1h0.8M75.1 512.2h0.8M94.2 523.7h0.8M70.8 497.3h0.8M87.6 493.3h0.8M86.5 540.1h0.8M88.6 536.2h0.8M80.4 496.5h0.8M68.5 523.4h0.8M78.3 526.1h0.8M86.1 521.3h0.8M87.3 524.3h0.8M79.8 507.3h0.8M72.7 517.9h0.8M57.9 504.2h0.8M59.1 515.3h0.8M80.3 525.4h0.8M70.3 509.2h0.8M81.6 516.3h0.8M75.3 514.1h0.8M70.5 520.4h0.8M62.7 533.0h0.8M88.4 523.5h0.8M65.4 525.7h0.8M79.7 500.0h0.8M58.6 515.1h0.8M93.0 531.6h0.8M60.6 508.1h0.8M74.7 514.1h0.8M87.0 506.6h0.8M63.8 538.8h0.8M80.3 513.8h0.8M70.8 510.0h0.8M93.0 528.8h0.8M59.9 535.5h0.8M62.2 527.1h0.8M76.3 533.9h0.8M81.8 523.1h0.8M77.5 518.3h0.8M61.8 514.0h0.8M74.1 513.0h0.8M57.1 511.8h0.8M81.4 525.3h0.8M67.7 518.5h0.8M92.9 521.3h0.8M70.5 528.6h0.8M56.6 519.4h0.8M55.0 501.0h0.8M67.7 509.1h0.8M65.0 504.5h0.8M92.5 493.5h0.8M85.7 521.6h0.8M69.2 503.3h0.8" stroke="#444" stroke-width="0.8" fill="none" stroke-opacity="0.85" clip-path="url(#clipE)"/>
<path d="M100.4 511.0h0.7M99.6 525.8h0.7M98.8 517.3h0.7M96.5 524.2h0.7M99.3 517.0h0.7M95.6 528.2h0.7M97.0 518.4h0.7M97.6 519.8h0.7M97.7 513.7h0.7M95.8 521.5h0.7M99.4 500.4h0.7M97.1 549.2h0.7M100.0 512.4h0.7M96.3 521.0h0.7M95.7 514.7h0.7M101.2 514.5h0.7M101.0 524.3h0.7M98.0 514.3h0.7M99.1 515.2h0.7M96.2 504.7h0.7M106.4 509.7h0.7M101.4 507.0h0.7M105.9 539.7h0.7M96.8 505.2h0.7M97.0 508.1h0.7M99.5 522.0h0.7M96.1 535.6h0.7M96.6 501.2h0.7M99.2 502.8h0.7M99.1 521.2h0.7M95.9 523.6h0.7M98.5 504.3h0.7M96.2 500.0h0.7M102.4 509.3h0.7M97.3 528.0h0.7M100.0 519.4h0.7M100.4 528.0h0.7M99.2 518.6h0.7M96.5 519.5h0.7M96.3 526.6h0.7M102.1 518.5h0.7M102.3 522.4h0.7M99.3 509.8h0.7M97.8 513.2h0.7M102.5 525.0h0.7M96.8 517.2h0.7M103.2 511.6h0.7M98.6 527.0h0.7M99.9 525.8h0.7M99.1 519.7h0.7M96.2 511.4h0.7M101.3 529.6h0.7M103.2 547.2h0.7M97.6 510.7h0.7M103.7 502.8h0.7M102.7 511.2h0.7M97.2 509.5h0.7M95.9 505.9h0.7M96.5 506.8h0.7M97.8 529.1h0.7M103.3 529.2h0.7M96.8 536.0h0.7M102.5 528.0h0.7M95.9 514.5h0.7M100.5 531.7h0.7M98.5 513.0h0.7M96.6 515.9h0.7M96.0 506.8h0.7M99.6 533.2h0.7M95.4 530.8h0.7" stroke="#777" stroke-width="0.7" fill="none" stroke-opacity="0.8" clip-path="url(#clipE)"/>
<line x1="94.50" y1="455.00" x2="94.50" y2="602.50" stroke="#000" stroke-width="1.6"/>
<line x1="54.50" y1="546.20" x2="215.50" y2="546.20" stroke="#000" stroke-width="1.6"/>
<rect x="54.5" y="455.0" width="161.0" height="147.5" fill="none" stroke="#000" stroke-width="1.6"/>
<line x1="54.20" y1="454.20" x2="54.20" y2="603.30" stroke="#000" stroke-width="2.2"/>
<line x1="53.70" y1="602.80" x2="216.30" y2="602.80" stroke="#000" stroke-width="2.0"/>
<line x1="52.10" y1="591.40" x2="54.50" y2="591.40" stroke="#000" stroke-width="1.0"/>
<line x1="66.62" y1="602.50" x2="66.62" y2="604.90" stroke="#000" stroke-width="1.0"/>
<line x1="52.10" y1="584.91" x2="54.50" y2="584.91" stroke="#000" stroke-width="1.0"/>
<line x1="73.70" y1="602.50" x2="73.70" y2="604.90" stroke="#000" stroke-width="1.0"/>
<line x1="52.10" y1="580.30" x2="54.50" y2="580.30" stroke="#000" stroke-width="1.0"/>
<line x1="78.73" y1="602.50" x2="78.73" y2="604.90" stroke="#000" stroke-width="1.0"/>
<line x1="52.10" y1="576.73" x2="54.50" y2="576.73" stroke="#000" stroke-width="1.0"/>
<line x1="82.63" y1="602.50" x2="82.63" y2="604.90" stroke="#000" stroke-width="1.0"/>
<line x1="52.10" y1="573.81" x2="54.50" y2="573.81" stroke="#000" stroke-width="1.0"/>
<line x1="85.82" y1="602.50" x2="85.82" y2="604.90" stroke="#000" stroke-width="1.0"/>
<line x1="52.10" y1="571.34" x2="54.50" y2="571.34" stroke="#000" stroke-width="1.0"/>
<line x1="88.52" y1="602.50" x2="88.52" y2="604.90" stroke="#000" stroke-width="1.0"/>
<line x1="52.10" y1="569.20" x2="54.50" y2="569.20" stroke="#000" stroke-width="1.0"/>
<line x1="90.85" y1="602.50" x2="90.85" y2="604.90" stroke="#000" stroke-width="1.0"/>
<line x1="52.10" y1="567.31" x2="54.50" y2="567.31" stroke="#000" stroke-width="1.0"/>
<line x1="92.91" y1="602.50" x2="92.91" y2="604.90" stroke="#000" stroke-width="1.0"/>
<line x1="52.10" y1="554.52" x2="54.50" y2="554.52" stroke="#000" stroke-width="1.0"/>
<line x1="106.87" y1="602.50" x2="106.87" y2="604.90" stroke="#000" stroke-width="1.0"/>
<line x1="52.10" y1="548.03" x2="54.50" y2="548.03" stroke="#000" stroke-width="1.0"/>
<line x1="113.95" y1="602.50" x2="113.95" y2="604.90" stroke="#000" stroke-width="1.0"/>
<line x1="52.10" y1="543.42" x2="54.50" y2="543.42" stroke="#000" stroke-width="1.0"/>
<line x1="118.98" y1="602.50" x2="118.98" y2="604.90" stroke="#000" stroke-width="1.0"/>
<line x1="52.10" y1="539.85" x2="54.50" y2="539.85" stroke="#000" stroke-width="1.0"/>
<line x1="122.88" y1="602.50" x2="122.88" y2="604.90" stroke="#000" stroke-width="1.0"/>
<line x1="52.10" y1="536.93" x2="54.50" y2="536.93" stroke="#000" stroke-width="1.0"/>
<line x1="126.07" y1="602.50" x2="126.07" y2="604.90" stroke="#000" stroke-width="1.0"/>
<line x1="52.10" y1="534.46" x2="54.50" y2="534.46" stroke="#000" stroke-width="1.0"/>
<line x1="128.77" y1="602.50" x2="128.77" y2="604.90" stroke="#000" stroke-width="1.0"/>
<line x1="52.10" y1="532.32" x2="54.50" y2="532.32" stroke="#000" stroke-width="1.0"/>
<line x1="131.10" y1="602.50" x2="131.10" y2="604.90" stroke="#000" stroke-width="1.0"/>
<line x1="52.10" y1="530.44" x2="54.50" y2="530.44" stroke="#000" stroke-width="1.0"/>
<line x1="133.16" y1="602.50" x2="133.16" y2="604.90" stroke="#000" stroke-width="1.0"/>
<line x1="52.10" y1="517.65" x2="54.50" y2="517.65" stroke="#000" stroke-width="1.0"/>
<line x1="147.12" y1="602.50" x2="147.12" y2="604.90" stroke="#000" stroke-width="1.0"/>
<line x1="52.10" y1="511.16" x2="54.50" y2="511.16" stroke="#000" stroke-width="1.0"/>
<line x1="154.20" y1="602.50" x2="154.20" y2="604.90" stroke="#000" stroke-width="1.0"/>
<line x1="52.10" y1="506.55" x2="54.50" y2="506.55" stroke="#000" stroke-width="1.0"/>
<line x1="159.23" y1="602.50" x2="159.23" y2="604.90" stroke="#000" stroke-width="1.0"/>
<line x1="52.10" y1="502.98" x2="54.50" y2="502.98" stroke="#000" stroke-width="1.0"/>
<line x1="163.13" y1="602.50" x2="163.13" y2="604.90" stroke="#000" stroke-width="1.0"/>
<line x1="52.10" y1="500.06" x2="54.50" y2="500.06" stroke="#000" stroke-width="1.0"/>
<line x1="166.32" y1="602.50" x2="166.32" y2="604.90" stroke="#000" stroke-width="1.0"/>
<line x1="52.10" y1="497.59" x2="54.50" y2="497.59" stroke="#000" stroke-width="1.0"/>
<line x1="169.02" y1="602.50" x2="169.02" y2="604.90" stroke="#000" stroke-width="1.0"/>
<line x1="52.10" y1="495.45" x2="54.50" y2="495.45" stroke="#000" stroke-width="1.0"/>
<line x1="171.35" y1="602.50" x2="171.35" y2="604.90" stroke="#000" stroke-width="1.0"/>
<line x1="52.10" y1="493.56" x2="54.50" y2="493.56" stroke="#000" stroke-width="1.0"/>
<line x1="173.41" y1="602.50" x2="173.41" y2="604.90" stroke="#000" stroke-width="1.0"/>
<line x1="52.10" y1="480.77" x2="54.50" y2="480.77" stroke="#000" stroke-width="1.0"/>
<line x1="187.37" y1="602.50" x2="187.37" y2="604.90" stroke="#000" stroke-width="1.0"/>
<line x1="52.10" y1="474.28" x2="54.50" y2="474.28" stroke="#000" stroke-width="1.0"/>
<line x1="194.45" y1="602.50" x2="194.45" y2="604.90" stroke="#000" stroke-width="1.0"/>
<line x1="52.10" y1="469.67" x2="54.50" y2="469.67" stroke="#000" stroke-width="1.0"/>
<line x1="199.48" y1="602.50" x2="199.48" y2="604.90" stroke="#000" stroke-width="1.0"/>
<line x1="52.10" y1="466.10" x2="54.50" y2="466.10" stroke="#000" stroke-width="1.0"/>
<line x1="203.38" y1="602.50" x2="203.38" y2="604.90" stroke="#000" stroke-width="1.0"/>
<line x1="52.10" y1="463.18" x2="54.50" y2="463.18" stroke="#000" stroke-width="1.0"/>
<line x1="206.57" y1="602.50" x2="206.57" y2="604.90" stroke="#000" stroke-width="1.0"/>
<line x1="52.10" y1="460.71" x2="54.50" y2="460.71" stroke="#000" stroke-width="1.0"/>
<line x1="209.27" y1="602.50" x2="209.27" y2="604.90" stroke="#000" stroke-width="1.0"/>
<line x1="52.10" y1="458.57" x2="54.50" y2="458.57" stroke="#000" stroke-width="1.0"/>
<line x1="211.60" y1="602.50" x2="211.60" y2="604.90" stroke="#000" stroke-width="1.0"/>
<line x1="52.10" y1="456.69" x2="54.50" y2="456.69" stroke="#000" stroke-width="1.0"/>
<line x1="213.66" y1="602.50" x2="213.66" y2="604.90" stroke="#000" stroke-width="1.0"/>
<line x1="50.10" y1="602.50" x2="54.50" y2="602.50" stroke="#000" stroke-width="1.7"/>
<text x="37.75" y="605.41" font-size="7.0" fill="#7d7d7d">10</text>
<text x="46.23" y="601.70" font-size="4.8" fill="#7d7d7d">0</text>
<line x1="54.50" y1="602.50" x2="54.50" y2="606.70" stroke="#000" stroke-width="1.7"/>
<text x="50.42" y="615.11" font-size="7.0" fill="#7d7d7d">10</text>
<text x="58.91" y="611.40" font-size="4.8" fill="#7d7d7d">0</text>
<line x1="50.10" y1="565.62" x2="54.50" y2="565.62" stroke="#000" stroke-width="1.7"/>
<text x="37.75" y="568.53" font-size="7.0" fill="#7d7d7d">10</text>
<text x="46.23" y="564.82" font-size="4.8" fill="#7d7d7d">1</text>
<line x1="94.75" y1="602.50" x2="94.75" y2="606.70" stroke="#000" stroke-width="1.7"/>
<text x="90.67" y="615.11" font-size="7.0" fill="#7d7d7d">10</text>
<text x="99.16" y="611.40" font-size="4.8" fill="#7d7d7d">1</text>
<line x1="50.10" y1="528.75" x2="54.50" y2="528.75" stroke="#000" stroke-width="1.7"/>
<text x="37.75" y="531.66" font-size="7.0" fill="#7d7d7d">10</text>
<text x="46.23" y="527.95" font-size="4.8" fill="#7d7d7d">2</text>
<line x1="135.00" y1="602.50" x2="135.00" y2="606.70" stroke="#000" stroke-width="1.7"/>
<text x="130.92" y="615.11" font-size="7.0" fill="#7d7d7d">10</text>
<text x="139.41" y="611.40" font-size="4.8" fill="#7d7d7d">2</text>
<line x1="50.10" y1="491.88" x2="54.50" y2="491.88" stroke="#000" stroke-width="1.7"/>
<text x="37.75" y="494.78" font-size="7.0" fill="#7d7d7d">10</text>
<text x="46.23" y="491.07" font-size="4.8" fill="#7d7d7d">3</text>
<line x1="175.25" y1="602.50" x2="175.25" y2="606.70" stroke="#000" stroke-width="1.7"/>
<text x="171.17" y="615.11" font-size="7.0" fill="#7d7d7d">10</text>
<text x="179.66" y="611.40" font-size="4.8" fill="#7d7d7d">3</text>
<line x1="50.10" y1="455.00" x2="54.50" y2="455.00" stroke="#000" stroke-width="1.7"/>
<text x="37.75" y="457.91" font-size="7.0" fill="#7d7d7d">10</text>
<text x="46.23" y="454.20" font-size="4.8" fill="#7d7d7d">4</text>
<line x1="215.50" y1="602.50" x2="215.50" y2="606.70" stroke="#000" stroke-width="1.7"/>
<text x="211.42" y="615.11" font-size="7.0" fill="#7d7d7d">10</text>
<text x="219.91" y="611.40" font-size="4.8" fill="#7d7d7d">4</text>
<text x="57.70" y="464.47" font-size="9.7" textLength="20.80" lengthAdjust="spacingAndGlyphs">8.92</text>
<text x="211.40" y="464.67" font-size="9.7" text-anchor="end" textLength="14.60" lengthAdjust="spacingAndGlyphs">0.3</text>
<text x="56.60" y="600.67" font-size="9.7" fill="#222" textLength="20.80" lengthAdjust="spacingAndGlyphs">87.9</text>
<text x="214.40" y="600.07" font-size="9.7" text-anchor="end" textLength="20.80" lengthAdjust="spacingAndGlyphs">2.85</text>
<text x="31.00" y="631.20" font-size="12.4" fill="#111" textLength="203.60" lengthAdjust="spacingAndGlyphs">Activated αIIbβ3 expression (FL2-H)</text>
<text x="30.90" y="574.40" font-size="12.0" fill="#111" textLength="107" lengthAdjust="spacingAndGlyphs" transform="rotate(-90 30.90 574.40)">CFSE staining (FL1-H)</text>
<text x="272.60" y="440.70" font-size="17.3" font-weight="bold">F</text>
<filter id="blF" x="-30%" y="-30%" width="160%" height="160%"><feGaussianBlur stdDeviation="1.1"/></filter>
<filter id="blF2" x="-30%" y="-30%" width="160%" height="160%"><feGaussianBlur stdDeviation="2.0"/></filter>
<clipPath id="clipF1"><rect x="337.0" y="456.4" width="77.39999999999998" height="72.0"/></clipPath>
<g clip-path="url(#clipF1)">
<path d="M333.0 509.1 H351.2 Q357.2 509.1 357.2 515.1 V532.4 H333.0 Z" fill="#9a9a9a" stroke="#555" stroke-width="2.4" filter="url(#blF)"/>
<ellipse cx="345.5" cy="519.9" rx="5.5" ry="5" fill="#b6b6b6" filter="url(#blF2)"/>
<path d="M341.4 524.6h0.7M340.0 526.5h0.7M337.1 526.6h0.7M338.6 522.4h0.7M344.4 522.4h0.7M337.4 520.3h0.7M340.4 526.9h0.7M350.7 523.8h0.7M340.0 515.4h0.7M353.4 525.4h0.7M352.8 521.8h0.7M349.3 513.5h0.7M343.2 515.3h0.7M346.7 513.4h0.7M354.8 525.7h0.7M345.2 524.1h0.7M351.6 526.3h0.7M339.1 507.7h0.7M358.4 528.4h0.7M344.6 522.0h0.7M348.5 514.3h0.7M337.3 521.7h0.7M340.2 516.6h0.7M345.6 520.1h0.7M339.8 523.0h0.7M339.2 528.2h0.7M338.7 525.8h0.7M338.9 515.9h0.7M358.9 525.7h0.7M341.3 510.5h0.7M343.8 522.4h0.7M339.0 527.2h0.7M350.6 522.9h0.7M339.8 518.8h0.7M339.1 522.8h0.7M346.1 520.4h0.7M342.8 520.0h0.7M344.5 519.7h0.7M340.3 521.3h0.7M338.3 510.7h0.7M356.7 510.9h0.7M340.2 518.2h0.7M342.5 516.0h0.7M343.1 525.3h0.7M341.6 526.8h0.7M338.4 512.7h0.7M357.6 522.1h0.7M339.4 527.6h0.7M337.5 519.0h0.7M348.9 521.0h0.7M348.9 516.9h0.7M339.5 528.3h0.7M339.1 521.0h0.7M349.2 515.1h0.7M352.0 521.3h0.7M342.4 521.6h0.7M351.0 524.2h0.7M341.1 527.2h0.7M344.5 526.0h0.7M343.1 527.9h0.7M351.8 522.0h0.7M340.9 521.7h0.7M346.9 520.1h0.7M338.2 521.5h0.7M338.3 521.2h0.7M341.2 512.2h0.7M337.3 513.1h0.7M346.0 523.0h0.7M352.0 523.5h0.7M342.0 522.6h0.7M343.1 522.0h0.7M339.5 517.3h0.7M346.9 525.9h0.7M348.2 522.4h0.7M340.2 522.9h0.7M337.9 524.7h0.7M339.8 518.6h0.7M338.8 519.4h0.7M346.8 510.2h0.7M352.6 508.2h0.7M344.7 517.2h0.7M339.0 523.8h0.7M345.3 521.2h0.7M348.2 528.2h0.7M339.2 522.5h0.7M341.9 527.3h0.7M340.3 513.9h0.7M342.4 525.8h0.7M339.7 519.3h0.7M358.5 523.7h0.7M340.6 514.4h0.7M341.3 523.3h0.7M340.8 525.9h0.7M340.4 526.1h0.7M345.1 519.6h0.7M338.1 524.0h0.7M341.1 524.5h0.7M337.4 511.9h0.7M344.1 510.4h0.7M347.4 528.2h0.7M342.3 521.6h0.7M345.5 525.4h0.7M349.5 527.0h0.7M339.1 528.1h0.7M344.3 515.7h0.7M337.4 516.2h0.7M348.1 523.5h0.7M338.9 512.4h0.7M339.0 525.0h0.7M346.7 524.3h0.7M345.7 524.5h0.7M353.3 518.0h0.7M354.1 528.3h0.7M339.6 520.6h0.7M341.1 514.5h0.7M345.2 511.4h0.7M337.7 510.8h0.7M347.8 525.9h0.7M357.5 525.7h0.7M345.5 512.6h0.7M339.7 525.8h0.7M353.4 509.5h0.7M343.9 527.8h0.7M347.9 526.9h0.7M355.2 513.6h0.7M340.5 525.6h0.7M339.5 519.7h0.7M338.0 519.0h0.7M350.4 511.6h0.7M344.2 526.3h0.7M357.8 522.3h0.7M338.1 515.9h0.7M351.5 519.2h0.7M347.1 528.1h0.7M341.2 518.4h0.7M339.8 524.9h0.7M339.8 522.7h0.7M346.7 524.6h0.7M346.3 527.1h0.7M346.8 521.0h0.7M353.8 517.2h0.7M338.7 513.9h0.7M354.0 526.8h0.7M344.5 527.4h0.7M354.4 514.8h0.7M339.7 524.5h0.7M346.2 522.8h0.7M339.3 517.3h0.7M343.0 523.5h0.7M347.8 523.5h0.7M340.1 528.3h0.7M347.6 526.6h0.7M345.5 517.6h0.7M346.7 526.3h0.7M340.8 525.3h0.7M341.0 519.8h0.7M348.7 518.1h0.7M338.5 522.3h0.7M343.7 526.6h0.7M341.5 522.9h0.7M339.0 512.3h0.7M348.3 524.5h0.7M349.3 527.0h0.7M342.9 526.1h0.7M338.7 523.3h0.7M351.8 509.9h0.7M339.4 515.4h0.7M351.3 524.4h0.7M345.7 524.1h0.7M340.6 517.0h0.7M352.7 519.2h0.7M338.7 526.8h0.7M339.3 528.3h0.7M344.2 525.9h0.7M348.5 521.0h0.7M344.2 523.7h0.7M349.6 524.7h0.7M344.5 524.7h0.7M340.8 525.3h0.7M358.7 522.7h0.7M338.5 526.7h0.7M349.3 517.2h0.7M339.8 526.8h0.7M357.6 521.1h0.7M337.4 528.1h0.7M346.5 523.7h0.7M342.1 520.6h0.7M339.4 527.1h0.7M344.3 524.0h0.7M339.3 518.0h0.7M348.5 527.7h0.7M342.3 524.1h0.7M337.9 524.2h0.7M348.5 517.8h0.7M344.5 527.5h0.7M338.6 524.3h0.7M343.2 522.3h0.7" stroke="#444" stroke-width="0.7" fill="none" stroke-opacity="0.55"/>
<path d="M351.1 507.8h0.8M345.5 507.1h0.8M344.8 507.7h0.8M337.9 509.4h0.8M349.0 508.0h0.8M355.6 508.9h0.8M349.2 507.5h0.8M342.2 508.8h0.8M349.6 507.6h0.8M344.5 507.4h0.8M344.5 508.4h0.8M338.6 508.4h0.8M351.1 509.8h0.8M337.5 506.6h0.8M353.5 508.8h0.8M337.6 510.0h0.8M352.3 509.7h0.8M344.1 507.9h0.8M344.1 507.6h0.8M346.8 507.8h0.8M341.0 508.6h0.8M341.4 508.5h0.8M351.1 508.7h0.8M354.8 508.9h0.8M340.2 507.2h0.8M342.7 507.1h0.8M356.1 507.0h0.8M350.6 506.9h0.8M354.9 508.2h0.8M344.8 508.6h0.8M352.1 510.9h0.8M351.0 508.8h0.8M351.6 508.3h0.8M346.6 509.8h0.8M343.1 507.5h0.8M344.4 508.6h0.8M340.2 509.3h0.8M339.0 509.1h0.8M344.7 508.7h0.8M353.8 507.9h0.8M343.8 507.0h0.8M348.2 508.1h0.8M353.2 507.7h0.8M339.5 509.0h0.8M344.5 508.2h0.8M344.5 508.9h0.8M351.0 506.6h0.8M354.7 509.3h0.8M337.6 507.4h0.8M347.8 506.7h0.8M337.6 506.9h0.8M343.2 507.7h0.8M345.1 509.5h0.8M342.8 509.0h0.8M345.3 507.1h0.8M344.4 508.4h0.8M347.0 508.2h0.8M342.3 506.7h0.8M344.9 507.3h0.8M341.7 506.2h0.8" stroke="#222" stroke-width="0.8" fill="none" stroke-opacity="0.7"/>
<path d="M356.2 524.9h0.8M354.2 521.6h0.8M356.3 515.2h0.8M356.1 515.5h0.8M356.3 521.8h0.8M356.3 526.9h0.8M358.5 527.3h0.8M356.8 527.2h0.8M357.5 517.4h0.8M358.1 523.5h0.8M358.2 520.6h0.8M358.0 521.2h0.8M356.6 523.1h0.8M356.0 516.9h0.8M356.3 516.5h0.8M356.7 518.8h0.8M357.2 515.9h0.8M357.1 526.1h0.8M358.4 518.1h0.8M357.1 512.7h0.8M359.2 522.4h0.8M358.4 528.2h0.8M356.7 521.1h0.8M358.2 516.7h0.8M354.0 526.8h0.8M358.8 522.4h0.8M357.7 522.2h0.8M357.6 519.6h0.8M355.3 524.7h0.8M360.0 523.0h0.8M356.9 521.0h0.8M357.0 517.6h0.8M358.5 524.9h0.8M357.0 526.9h0.8M356.2 513.6h0.8M357.9 512.5h0.8M356.1 513.7h0.8M358.0 526.3h0.8M357.4 522.2h0.8M358.5 518.6h0.8M355.8 528.0h0.8M358.6 527.5h0.8M357.5 519.0h0.8M359.4 518.1h0.8M356.5 520.8h0.8M359.3 521.8h0.8M358.0 525.8h0.8M358.1 526.4h0.8M356.4 516.7h0.8M357.8 526.0h0.8M358.0 513.4h0.8M356.3 515.5h0.8M355.9 518.9h0.8M356.3 513.3h0.8M358.8 517.8h0.8M357.4 512.5h0.8M358.3 525.2h0.8M357.5 523.1h0.8M357.3 516.3h0.8M357.4 520.6h0.8" stroke="#222" stroke-width="0.8" fill="none" stroke-opacity="0.7"/>
<path d="M382.3 523.9h0.8M402.1 518.6h0.8M377.9 514.2h0.8M375.3 509.5h0.8M400.1 521.1h0.8M399.2 512.4h0.8M396.8 517.6h0.8M367.3 512.3h0.8M366.3 520.1h0.8M407.2 508.7h0.8M409.1 513.0h0.8M373.8 519.9h0.8M387.0 524.3h0.8M385.7 522.0h0.8M377.5 513.2h0.8M368.0 515.4h0.8M376.0 517.5h0.8M408.6 526.3h0.8M384.8 511.0h0.8M373.9 523.2h0.8M367.9 509.8h0.8M394.1 524.2h0.8M403.1 509.7h0.8M376.0 515.1h0.8M399.1 514.9h0.8M365.4 520.8h0.8M370.3 513.8h0.8M393.8 523.5h0.8M368.7 527.1h0.8M385.8 521.8h0.8M386.7 507.9h0.8M365.7 509.4h0.8M402.2 523.5h0.8M398.4 515.6h0.8M400.8 517.7h0.8M394.4 524.3h0.8M377.4 521.7h0.8M396.4 518.0h0.8M390.7 513.5h0.8M393.1 509.1h0.8M399.0 509.7h0.8M377.7 508.6h0.8M406.4 515.5h0.8M385.7 526.4h0.8M378.9 509.7h0.8M388.7 517.7h0.8M409.2 519.8h0.8M396.8 526.2h0.8M368.8 527.3h0.8M377.1 520.5h0.8M395.4 519.0h0.8M408.5 521.6h0.8M389.2 516.2h0.8M389.3 523.0h0.8M364.4 524.2h0.8M371.4 511.8h0.8M401.5 518.0h0.8M375.5 513.7h0.8M389.1 510.0h0.8M395.8 515.9h0.8M391.8 519.5h0.8M399.6 517.8h0.8M394.0 515.1h0.8M378.6 518.6h0.8M391.3 517.5h0.8M396.4 508.0h0.8M367.6 521.2h0.8M408.8 523.2h0.8M392.9 516.7h0.8M409.3 520.5h0.8M404.1 512.3h0.8M365.8 522.0h0.8M368.2 516.6h0.8M403.8 520.3h0.8M375.7 520.9h0.8M406.3 516.1h0.8M409.5 511.2h0.8M399.8 526.2h0.8M393.1 524.0h0.8M384.6 515.1h0.8M406.2 515.0h0.8M393.3 524.4h0.8M368.7 522.5h0.8M397.8 513.0h0.8M379.6 523.8h0.8M370.6 514.2h0.8M381.3 524.2h0.8M403.9 509.7h0.8M398.5 526.4h0.8M381.9 514.8h0.8" stroke="#e9e9e9" stroke-width="0.8" fill="none" stroke-opacity="0.9"/>
<path d="M364.4 516.7h0.7M359.7 518.7h0.7M360.6 521.0h0.7M359.8 509.7h0.7M362.1 510.5h0.7M359.8 506.0h0.7M362.7 509.4h0.7M362.8 516.3h0.7M363.4 517.6h0.7M361.2 518.5h0.7M361.0 514.4h0.7M359.8 502.7h0.7M361.4 517.0h0.7M361.7 521.8h0.7M359.9 522.4h0.7M361.9 502.0h0.7M359.2 510.6h0.7M360.9 513.3h0.7M360.3 516.5h0.7M361.7 520.6h0.7M363.4 502.2h0.7M358.2 523.1h0.7M361.1 512.0h0.7M358.7 524.7h0.7M360.5 520.4h0.7M363.2 511.0h0.7" stroke="#bbb" stroke-width="0.7" fill="none" stroke-opacity="0.8"/>
</g>
<line x1="364.40" y1="456.40" x2="364.40" y2="528.40" stroke="#606060" stroke-width="1.6"/>
<line x1="337.00" y1="505.50" x2="414.40" y2="505.50" stroke="#606060" stroke-width="1.6"/>
<rect x="337.0" y="456.4" width="77.39999999999998" height="72.0" fill="none" stroke="#000" stroke-width="1.5"/>
<line x1="335.00" y1="522.98" x2="337.00" y2="522.98" stroke="#000" stroke-width="0.8"/>
<line x1="342.82" y1="528.40" x2="342.82" y2="530.40" stroke="#000" stroke-width="0.8"/>
<line x1="335.00" y1="519.81" x2="337.00" y2="519.81" stroke="#000" stroke-width="0.8"/>
<line x1="346.23" y1="528.40" x2="346.23" y2="530.40" stroke="#000" stroke-width="0.8"/>
<line x1="335.00" y1="517.56" x2="337.00" y2="517.56" stroke="#000" stroke-width="0.8"/>
<line x1="348.65" y1="528.40" x2="348.65" y2="530.40" stroke="#000" stroke-width="0.8"/>
<line x1="335.00" y1="515.82" x2="337.00" y2="515.82" stroke="#000" stroke-width="0.8"/>
<line x1="350.53" y1="528.40" x2="350.53" y2="530.40" stroke="#000" stroke-width="0.8"/>
<line x1="335.00" y1="514.39" x2="337.00" y2="514.39" stroke="#000" stroke-width="0.8"/>
<line x1="352.06" y1="528.40" x2="352.06" y2="530.40" stroke="#000" stroke-width="0.8"/>
<line x1="335.00" y1="513.19" x2="337.00" y2="513.19" stroke="#000" stroke-width="0.8"/>
<line x1="353.35" y1="528.40" x2="353.35" y2="530.40" stroke="#000" stroke-width="0.8"/>
<line x1="335.00" y1="512.14" x2="337.00" y2="512.14" stroke="#000" stroke-width="0.8"/>
<line x1="354.47" y1="528.40" x2="354.47" y2="530.40" stroke="#000" stroke-width="0.8"/>
<line x1="335.00" y1="511.22" x2="337.00" y2="511.22" stroke="#000" stroke-width="0.8"/>
<line x1="355.46" y1="528.40" x2="355.46" y2="530.40" stroke="#000" stroke-width="0.8"/>
<line x1="335.00" y1="504.98" x2="337.00" y2="504.98" stroke="#000" stroke-width="0.8"/>
<line x1="362.17" y1="528.40" x2="362.17" y2="530.40" stroke="#000" stroke-width="0.8"/>
<line x1="335.00" y1="501.81" x2="337.00" y2="501.81" stroke="#000" stroke-width="0.8"/>
<line x1="365.58" y1="528.40" x2="365.58" y2="530.40" stroke="#000" stroke-width="0.8"/>
<line x1="335.00" y1="499.56" x2="337.00" y2="499.56" stroke="#000" stroke-width="0.8"/>
<line x1="368.00" y1="528.40" x2="368.00" y2="530.40" stroke="#000" stroke-width="0.8"/>
<line x1="335.00" y1="497.82" x2="337.00" y2="497.82" stroke="#000" stroke-width="0.8"/>
<line x1="369.88" y1="528.40" x2="369.88" y2="530.40" stroke="#000" stroke-width="0.8"/>
<line x1="335.00" y1="496.39" x2="337.00" y2="496.39" stroke="#000" stroke-width="0.8"/>
<line x1="371.41" y1="528.40" x2="371.41" y2="530.40" stroke="#000" stroke-width="0.8"/>
<line x1="335.00" y1="495.19" x2="337.00" y2="495.19" stroke="#000" stroke-width="0.8"/>
<line x1="372.70" y1="528.40" x2="372.70" y2="530.40" stroke="#000" stroke-width="0.8"/>
<line x1="335.00" y1="494.14" x2="337.00" y2="494.14" stroke="#000" stroke-width="0.8"/>
<line x1="373.82" y1="528.40" x2="373.82" y2="530.40" stroke="#000" stroke-width="0.8"/>
<line x1="335.00" y1="493.22" x2="337.00" y2="493.22" stroke="#000" stroke-width="0.8"/>
<line x1="374.81" y1="528.40" x2="374.81" y2="530.40" stroke="#000" stroke-width="0.8"/>
<line x1="335.00" y1="486.98" x2="337.00" y2="486.98" stroke="#000" stroke-width="0.8"/>
<line x1="381.52" y1="528.40" x2="381.52" y2="530.40" stroke="#000" stroke-width="0.8"/>
<line x1="335.00" y1="483.81" x2="337.00" y2="483.81" stroke="#000" stroke-width="0.8"/>
<line x1="384.93" y1="528.40" x2="384.93" y2="530.40" stroke="#000" stroke-width="0.8"/>
<line x1="335.00" y1="481.56" x2="337.00" y2="481.56" stroke="#000" stroke-width="0.8"/>
<line x1="387.35" y1="528.40" x2="387.35" y2="530.40" stroke="#000" stroke-width="0.8"/>
<line x1="335.00" y1="479.82" x2="337.00" y2="479.82" stroke="#000" stroke-width="0.8"/>
<line x1="389.23" y1="528.40" x2="389.23" y2="530.40" stroke="#000" stroke-width="0.8"/>
<line x1="335.00" y1="478.39" x2="337.00" y2="478.39" stroke="#000" stroke-width="0.8"/>
<line x1="390.76" y1="528.40" x2="390.76" y2="530.40" stroke="#000" stroke-width="0.8"/>
<line x1="335.00" y1="477.19" x2="337.00" y2="477.19" stroke="#000" stroke-width="0.8"/>
<line x1="392.05" y1="528.40" x2="392.05" y2="530.40" stroke="#000" stroke-width="0.8"/>
<line x1="335.00" y1="476.14" x2="337.00" y2="476.14" stroke="#000" stroke-width="0.8"/>
<line x1="393.17" y1="528.40" x2="393.17" y2="530.40" stroke="#000" stroke-width="0.8"/>
<line x1="335.00" y1="475.22" x2="337.00" y2="475.22" stroke="#000" stroke-width="0.8"/>
<line x1="394.16" y1="528.40" x2="394.16" y2="530.40" stroke="#000" stroke-width="0.8"/>
<line x1="335.00" y1="468.98" x2="337.00" y2="468.98" stroke="#000" stroke-width="0.8"/>
<line x1="400.87" y1="528.40" x2="400.87" y2="530.40" stroke="#000" stroke-width="0.8"/>
<line x1="335.00" y1="465.81" x2="337.00" y2="465.81" stroke="#000" stroke-width="0.8"/>
<line x1="404.28" y1="528.40" x2="404.28" y2="530.40" stroke="#000" stroke-width="0.8"/>
<line x1="335.00" y1="463.56" x2="337.00" y2="463.56" stroke="#000" stroke-width="0.8"/>
<line x1="406.70" y1="528.40" x2="406.70" y2="530.40" stroke="#000" stroke-width="0.8"/>
<line x1="335.00" y1="461.82" x2="337.00" y2="461.82" stroke="#000" stroke-width="0.8"/>
<line x1="408.58" y1="528.40" x2="408.58" y2="530.40" stroke="#000" stroke-width="0.8"/>
<line x1="335.00" y1="460.39" x2="337.00" y2="460.39" stroke="#000" stroke-width="0.8"/>
<line x1="410.11" y1="528.40" x2="410.11" y2="530.40" stroke="#000" stroke-width="0.8"/>
<line x1="335.00" y1="459.19" x2="337.00" y2="459.19" stroke="#000" stroke-width="0.8"/>
<line x1="411.40" y1="528.40" x2="411.40" y2="530.40" stroke="#000" stroke-width="0.8"/>
<line x1="335.00" y1="458.14" x2="337.00" y2="458.14" stroke="#000" stroke-width="0.8"/>
<line x1="412.52" y1="528.40" x2="412.52" y2="530.40" stroke="#000" stroke-width="0.8"/>
<line x1="335.00" y1="457.22" x2="337.00" y2="457.22" stroke="#000" stroke-width="0.8"/>
<line x1="413.51" y1="528.40" x2="413.51" y2="530.40" stroke="#000" stroke-width="0.8"/>
<line x1="334.00" y1="528.40" x2="337.00" y2="528.40" stroke="#000" stroke-width="1.2"/>
<line x1="337.00" y1="528.40" x2="337.00" y2="531.40" stroke="#000" stroke-width="1.2"/>
<text x="329.80" y="528.80" font-size="3.2" font-weight="bold" fill="#2a2a2a">10</text>
<text x="333.30" y="527.20" font-size="2.4" font-weight="bold" fill="#2a2a2a">0</text>
<text x="334.80" y="534.60" font-size="3.2" font-weight="bold" fill="#2a2a2a">10</text>
<text x="338.40" y="533.00" font-size="2.4" font-weight="bold" fill="#2a2a2a">0</text>
<line x1="334.00" y1="510.40" x2="337.00" y2="510.40" stroke="#000" stroke-width="1.2"/>
<line x1="356.35" y1="528.40" x2="356.35" y2="531.40" stroke="#000" stroke-width="1.2"/>
<text x="329.80" y="510.80" font-size="3.2" font-weight="bold" fill="#2a2a2a">10</text>
<text x="333.30" y="509.20" font-size="2.4" font-weight="bold" fill="#2a2a2a">1</text>
<text x="354.15" y="534.60" font-size="3.2" font-weight="bold" fill="#2a2a2a">10</text>
<text x="357.75" y="533.00" font-size="2.4" font-weight="bold" fill="#2a2a2a">1</text>
<line x1="334.00" y1="492.40" x2="337.00" y2="492.40" stroke="#000" stroke-width="1.2"/>
<line x1="375.70" y1="528.40" x2="375.70" y2="531.40" stroke="#000" stroke-width="1.2"/>
<text x="329.80" y="492.80" font-size="3.2" font-weight="bold" fill="#2a2a2a">10</text>
<text x="333.30" y="491.20" font-size="2.4" font-weight="bold" fill="#2a2a2a">2</text>
<text x="373.50" y="534.60" font-size="3.2" font-weight="bold" fill="#2a2a2a">10</text>
<text x="377.10" y="533.00" font-size="2.4" font-weight="bold" fill="#2a2a2a">2</text>
<line x1="334.00" y1="474.40" x2="337.00" y2="474.40" stroke="#000" stroke-width="1.2"/>
<line x1="395.05" y1="528.40" x2="395.05" y2="531.40" stroke="#000" stroke-width="1.2"/>
<text x="329.80" y="474.80" font-size="3.2" font-weight="bold" fill="#2a2a2a">10</text>
<text x="333.30" y="473.20" font-size="2.4" font-weight="bold" fill="#2a2a2a">3</text>
<text x="392.85" y="534.60" font-size="3.2" font-weight="bold" fill="#2a2a2a">10</text>
<text x="396.45" y="533.00" font-size="2.4" font-weight="bold" fill="#2a2a2a">3</text>
<line x1="334.00" y1="456.40" x2="337.00" y2="456.40" stroke="#000" stroke-width="1.2"/>
<line x1="414.40" y1="528.40" x2="414.40" y2="531.40" stroke="#000" stroke-width="1.2"/>
<text x="329.80" y="456.80" font-size="3.2" font-weight="bold" fill="#2a2a2a">10</text>
<text x="333.30" y="455.20" font-size="2.4" font-weight="bold" fill="#2a2a2a">4</text>
<text x="412.20" y="534.60" font-size="3.2" font-weight="bold" fill="#2a2a2a">10</text>
<text x="415.80" y="533.00" font-size="2.4" font-weight="bold" fill="#2a2a2a">4</text>
<text x="375.70" y="538.20" font-size="2.5" text-anchor="middle" fill="#2a2a2a">FL4-H</text>
<text x="328.20" y="492.40" font-size="2.5" text-anchor="middle" fill="#2a2a2a" transform="rotate(-90 328.20 492.40)">FL2-H</text>
<text x="339.00" y="462.68" font-size="5.8" fill="#4a4a4a">0.088</text>
<text x="413.00" y="462.68" font-size="5.8" text-anchor="end" fill="#4a4a4a">8.54e-3</text>
<text x="338.80" y="527.36" font-size="6.6" fill="#222">99.6</text>
<text x="413.20" y="527.36" font-size="6.6" text-anchor="end" fill="#222">0.32</text>
<clipPath id="clipF2"><rect x="427.3" y="456.4" width="77.39999999999998" height="72.0"/></clipPath>
<g clip-path="url(#clipF2)">
<path d="M423.3 508.8 H441.5 Q447.5 508.8 447.5 514.8 V532.4 H423.3 Z" fill="#9a9a9a" stroke="#555" stroke-width="2.4" filter="url(#blF)"/>
<ellipse cx="435.8" cy="519.9" rx="5.5" ry="5" fill="#b6b6b6" filter="url(#blF2)"/>
<path d="M435.4 528.1h0.7M432.1 526.4h0.7M433.2 509.5h0.7M435.4 523.1h0.7M429.7 523.7h0.7M428.1 524.7h0.7M431.4 514.9h0.7M435.8 519.0h0.7M428.4 516.6h0.7M435.0 513.1h0.7M432.9 523.5h0.7M433.8 522.8h0.7M428.3 528.0h0.7M437.6 516.8h0.7M431.5 522.0h0.7M436.8 526.5h0.7M430.5 528.2h0.7M449.1 525.2h0.7M439.8 525.5h0.7M442.7 521.0h0.7M430.0 520.4h0.7M428.0 517.8h0.7M447.3 519.2h0.7M435.1 522.7h0.7M431.4 526.5h0.7M433.9 519.1h0.7M428.5 527.3h0.7M443.5 523.5h0.7M434.1 521.8h0.7M434.3 523.3h0.7M430.5 524.4h0.7M430.3 521.1h0.7M427.4 522.6h0.7M431.5 522.0h0.7M437.7 525.2h0.7M431.9 527.2h0.7M445.4 521.2h0.7M430.6 528.2h0.7M440.5 517.8h0.7M432.5 525.8h0.7M428.8 524.0h0.7M436.7 521.8h0.7M432.1 521.7h0.7M427.8 522.8h0.7M433.0 525.4h0.7M440.8 525.2h0.7M427.8 528.3h0.7M430.8 520.5h0.7M435.5 524.8h0.7M427.8 513.4h0.7M432.2 525.6h0.7M430.6 514.3h0.7M431.9 519.4h0.7M434.4 507.6h0.7M434.9 527.8h0.7M433.3 528.2h0.7M431.4 517.5h0.7M438.5 524.8h0.7M431.4 525.2h0.7M430.6 525.9h0.7M432.8 524.8h0.7M428.9 517.8h0.7M443.0 525.8h0.7M428.9 526.5h0.7M436.0 528.0h0.7M430.5 526.4h0.7M429.3 527.5h0.7M437.4 519.2h0.7M439.6 523.9h0.7M435.5 527.6h0.7M427.9 527.1h0.7M441.3 519.4h0.7M437.6 521.5h0.7M445.5 517.6h0.7M434.7 528.0h0.7M440.6 526.6h0.7M433.2 511.7h0.7M434.6 528.0h0.7M432.8 514.3h0.7M435.7 520.9h0.7M432.8 525.8h0.7M445.6 518.1h0.7M430.1 522.6h0.7M443.9 523.6h0.7M431.8 523.6h0.7M430.8 515.4h0.7M432.1 518.2h0.7M431.8 526.8h0.7M434.5 527.4h0.7M443.0 524.5h0.7M432.8 525.7h0.7M438.0 526.8h0.7M434.2 523.5h0.7M435.4 527.0h0.7M427.6 508.7h0.7M445.1 521.7h0.7M436.7 524.2h0.7M431.5 527.4h0.7M427.4 514.9h0.7M429.2 518.1h0.7M434.0 515.7h0.7M435.2 524.3h0.7M434.5 516.2h0.7M428.3 526.0h0.7M434.0 522.6h0.7M436.6 519.6h0.7M443.5 523.2h0.7M432.5 510.7h0.7M429.4 516.5h0.7M449.9 527.8h0.7M429.3 525.0h0.7M436.7 521.7h0.7M435.0 526.5h0.7M446.4 526.6h0.7M428.4 521.3h0.7M433.3 518.6h0.7M429.0 512.2h0.7M435.0 526.9h0.7M436.3 521.1h0.7M434.3 525.9h0.7M440.3 515.8h0.7M430.0 514.7h0.7M428.6 524.4h0.7M427.5 526.0h0.7M432.3 520.5h0.7M427.5 526.5h0.7M427.6 519.9h0.7M433.3 521.5h0.7M435.6 527.5h0.7M442.0 523.1h0.7M429.5 518.9h0.7M439.8 527.4h0.7M436.4 520.2h0.7M429.5 522.2h0.7M428.9 527.4h0.7M437.3 512.4h0.7M432.8 523.0h0.7M429.2 528.2h0.7M431.9 518.4h0.7M436.7 521.4h0.7M430.9 528.2h0.7M444.1 515.9h0.7M431.2 522.6h0.7M436.7 513.3h0.7M434.3 521.9h0.7M428.4 526.7h0.7M429.1 520.7h0.7M433.0 516.5h0.7M430.6 522.6h0.7M442.9 518.7h0.7M434.7 522.6h0.7M440.8 526.2h0.7M434.1 523.4h0.7M431.0 519.6h0.7M433.6 519.8h0.7M433.1 525.3h0.7M429.7 527.8h0.7M432.8 523.6h0.7M442.8 522.6h0.7M437.7 526.9h0.7M441.2 524.4h0.7M432.7 522.2h0.7M427.6 523.9h0.7M433.6 517.9h0.7M427.8 520.3h0.7M439.4 511.0h0.7M434.9 527.0h0.7M429.0 520.9h0.7M438.3 526.3h0.7M430.2 525.6h0.7M436.5 525.3h0.7M435.0 518.7h0.7M435.4 521.2h0.7M431.7 526.3h0.7M436.7 519.8h0.7M429.3 509.4h0.7M438.4 511.8h0.7M430.7 522.8h0.7M430.2 527.0h0.7M431.7 523.7h0.7M433.6 524.3h0.7M437.1 516.3h0.7M434.0 515.9h0.7M427.7 515.3h0.7M436.6 522.9h0.7M435.0 513.2h0.7M434.0 522.5h0.7M437.8 521.7h0.7M434.3 523.7h0.7M435.6 526.1h0.7M433.0 522.0h0.7M437.0 518.6h0.7M436.5 522.5h0.7M431.7 521.0h0.7M445.5 525.2h0.7" stroke="#444" stroke-width="0.7" fill="none" stroke-opacity="0.55"/>
<path d="M433.4 507.6h0.8M431.3 508.3h0.8M442.1 507.6h0.8M432.6 508.1h0.8M438.4 507.9h0.8M436.0 506.9h0.8M434.8 508.1h0.8M444.3 506.8h0.8M437.5 508.9h0.8M433.7 507.1h0.8M431.0 507.7h0.8M433.5 506.2h0.8M431.4 507.5h0.8M440.4 506.7h0.8M441.9 509.5h0.8M439.1 507.9h0.8M441.3 508.5h0.8M442.0 506.2h0.8M438.7 506.8h0.8M431.4 507.8h0.8M440.0 506.6h0.8M428.3 509.1h0.8M436.9 507.6h0.8M430.9 508.1h0.8M441.0 508.3h0.8M440.5 507.8h0.8M434.1 508.7h0.8M438.9 507.3h0.8M441.3 508.3h0.8M437.5 509.2h0.8M432.6 508.2h0.8M429.9 508.1h0.8M444.4 507.6h0.8M429.5 508.0h0.8M431.6 508.6h0.8M442.6 507.7h0.8M428.7 506.3h0.8M430.5 508.1h0.8M434.9 507.8h0.8M430.7 508.4h0.8M428.6 508.0h0.8M442.5 509.5h0.8M431.1 506.8h0.8M445.2 507.0h0.8M428.7 508.6h0.8M433.0 507.0h0.8M438.6 508.3h0.8M429.7 508.0h0.8M436.9 506.0h0.8M437.1 508.6h0.8M439.2 509.3h0.8M445.4 508.2h0.8M435.6 506.6h0.8M445.1 508.7h0.8M431.9 506.9h0.8M440.2 507.9h0.8M435.9 508.4h0.8M442.5 507.2h0.8M437.7 506.3h0.8M444.0 507.8h0.8" stroke="#222" stroke-width="0.8" fill="none" stroke-opacity="0.7"/>
<path d="M447.4 520.0h0.8M446.5 521.2h0.8M446.6 524.6h0.8M448.3 521.7h0.8M447.4 522.1h0.8M447.0 527.1h0.8M446.8 516.3h0.8M447.6 519.2h0.8M447.6 526.4h0.8M447.3 519.4h0.8M446.0 521.6h0.8M447.1 520.2h0.8M446.8 528.0h0.8M447.5 523.1h0.8M448.7 524.6h0.8M448.5 512.3h0.8M448.2 518.4h0.8M447.6 524.2h0.8M447.1 514.6h0.8M447.8 524.7h0.8M447.0 527.1h0.8M447.1 524.4h0.8M446.6 523.8h0.8M447.4 516.4h0.8M447.4 513.8h0.8M449.4 527.4h0.8M448.1 518.8h0.8M447.1 526.8h0.8M448.3 522.9h0.8M447.0 527.3h0.8M448.5 512.2h0.8M448.3 525.1h0.8M450.6 524.1h0.8M446.3 521.1h0.8M447.4 514.5h0.8M447.3 515.2h0.8M447.8 527.2h0.8M448.2 518.3h0.8M446.4 524.3h0.8M446.7 528.0h0.8M447.8 515.6h0.8M448.5 512.9h0.8M446.3 512.4h0.8M445.8 519.0h0.8M448.7 525.5h0.8M448.4 525.1h0.8M448.6 521.6h0.8M446.4 511.8h0.8M447.2 515.9h0.8M447.7 514.3h0.8M447.9 514.4h0.8M447.3 514.0h0.8M447.4 512.4h0.8M448.5 520.2h0.8M447.0 517.5h0.8M446.9 517.7h0.8M447.0 516.4h0.8M446.9 524.9h0.8M447.6 516.6h0.8M447.2 514.4h0.8" stroke="#222" stroke-width="0.8" fill="none" stroke-opacity="0.7"/>
<path d="M467.8 517.3h0.8M466.2 522.9h0.8M470.7 511.3h0.8M472.2 514.5h0.8M465.2 513.4h0.8M483.6 525.0h0.8M461.9 518.9h0.8M496.5 526.2h0.8M495.3 518.5h0.8M477.5 526.1h0.8M488.3 522.1h0.8M464.6 525.3h0.8M468.2 513.2h0.8M496.5 527.3h0.8M476.5 513.3h0.8M488.8 522.3h0.8M492.1 519.7h0.8M487.0 514.4h0.8M475.6 509.3h0.8M472.2 508.1h0.8M457.6 507.4h0.8M494.5 518.3h0.8M486.6 518.5h0.8M457.7 509.4h0.8M493.1 508.0h0.8M467.9 507.6h0.8M493.9 518.9h0.8M461.7 522.4h0.8M455.8 525.3h0.8M494.2 516.7h0.8M495.6 522.2h0.8M477.4 512.0h0.8M496.7 508.2h0.8M458.9 518.8h0.8M461.7 513.8h0.8M499.4 515.3h0.8M497.9 509.5h0.8M486.7 521.2h0.8M470.2 525.0h0.8M487.6 522.2h0.8M454.8 509.9h0.8M471.1 512.7h0.8M493.9 511.2h0.8M465.3 527.2h0.8M460.7 515.1h0.8M477.3 510.2h0.8M485.7 523.6h0.8M469.1 511.5h0.8M492.3 508.8h0.8M496.4 514.7h0.8M464.7 507.9h0.8M472.5 516.5h0.8M493.1 516.0h0.8M477.9 513.5h0.8M489.1 518.4h0.8M469.2 523.1h0.8M492.3 514.1h0.8M493.1 512.7h0.8M490.4 520.1h0.8M495.1 515.7h0.8M472.8 512.4h0.8M478.5 526.3h0.8M491.8 511.4h0.8M488.0 515.3h0.8M479.4 513.1h0.8M456.4 523.5h0.8M464.8 520.6h0.8M475.6 525.6h0.8M489.4 512.7h0.8M496.3 523.9h0.8M500.1 520.7h0.8M472.5 509.5h0.8M499.1 512.3h0.8M472.3 524.2h0.8M463.1 516.0h0.8M497.4 510.5h0.8M459.7 509.8h0.8M476.7 513.1h0.8M490.4 520.3h0.8M483.6 509.9h0.8M493.9 510.4h0.8M479.2 524.5h0.8M475.2 512.5h0.8M470.3 521.0h0.8M483.4 524.0h0.8M480.7 522.3h0.8M478.1 519.9h0.8M486.0 516.3h0.8M478.0 521.4h0.8M486.6 514.6h0.8" stroke="#e9e9e9" stroke-width="0.8" fill="none" stroke-opacity="0.9"/>
<path d="M453.6 514.5h0.7M453.2 517.2h0.7M449.1 524.3h0.7M448.3 507.0h0.7M452.9 521.3h0.7M451.6 515.3h0.7M452.6 501.5h0.7M453.0 510.0h0.7M451.6 524.7h0.7M449.2 518.8h0.7M452.4 517.3h0.7M450.3 518.0h0.7M451.8 524.2h0.7M448.5 514.1h0.7M455.0 504.5h0.7M449.6 502.4h0.7M455.2 514.8h0.7M453.9 505.5h0.7M451.0 523.6h0.7M452.3 524.6h0.7M449.8 514.7h0.7M448.4 515.9h0.7M451.8 504.3h0.7M448.8 520.7h0.7M449.5 511.4h0.7M448.8 519.3h0.7" stroke="#bbb" stroke-width="0.7" fill="none" stroke-opacity="0.8"/>
</g>
<line x1="454.80" y1="456.40" x2="454.80" y2="528.40" stroke="#606060" stroke-width="1.6"/>
<line x1="427.30" y1="505.20" x2="504.70" y2="505.20" stroke="#606060" stroke-width="1.6"/>
<rect x="427.3" y="456.4" width="77.39999999999998" height="72.0" fill="none" stroke="#000" stroke-width="1.5"/>
<line x1="425.30" y1="522.98" x2="427.30" y2="522.98" stroke="#000" stroke-width="0.8"/>
<line x1="433.12" y1="528.40" x2="433.12" y2="530.40" stroke="#000" stroke-width="0.8"/>
<line x1="425.30" y1="519.81" x2="427.30" y2="519.81" stroke="#000" stroke-width="0.8"/>
<line x1="436.53" y1="528.40" x2="436.53" y2="530.40" stroke="#000" stroke-width="0.8"/>
<line x1="425.30" y1="517.56" x2="427.30" y2="517.56" stroke="#000" stroke-width="0.8"/>
<line x1="438.95" y1="528.40" x2="438.95" y2="530.40" stroke="#000" stroke-width="0.8"/>
<line x1="425.30" y1="515.82" x2="427.30" y2="515.82" stroke="#000" stroke-width="0.8"/>
<line x1="440.83" y1="528.40" x2="440.83" y2="530.40" stroke="#000" stroke-width="0.8"/>
<line x1="425.30" y1="514.39" x2="427.30" y2="514.39" stroke="#000" stroke-width="0.8"/>
<line x1="442.36" y1="528.40" x2="442.36" y2="530.40" stroke="#000" stroke-width="0.8"/>
<line x1="425.30" y1="513.19" x2="427.30" y2="513.19" stroke="#000" stroke-width="0.8"/>
<line x1="443.65" y1="528.40" x2="443.65" y2="530.40" stroke="#000" stroke-width="0.8"/>
<line x1="425.30" y1="512.14" x2="427.30" y2="512.14" stroke="#000" stroke-width="0.8"/>
<line x1="444.77" y1="528.40" x2="444.77" y2="530.40" stroke="#000" stroke-width="0.8"/>
<line x1="425.30" y1="511.22" x2="427.30" y2="511.22" stroke="#000" stroke-width="0.8"/>
<line x1="445.76" y1="528.40" x2="445.76" y2="530.40" stroke="#000" stroke-width="0.8"/>
<line x1="425.30" y1="504.98" x2="427.30" y2="504.98" stroke="#000" stroke-width="0.8"/>
<line x1="452.47" y1="528.40" x2="452.47" y2="530.40" stroke="#000" stroke-width="0.8"/>
<line x1="425.30" y1="501.81" x2="427.30" y2="501.81" stroke="#000" stroke-width="0.8"/>
<line x1="455.88" y1="528.40" x2="455.88" y2="530.40" stroke="#000" stroke-width="0.8"/>
<line x1="425.30" y1="499.56" x2="427.30" y2="499.56" stroke="#000" stroke-width="0.8"/>
<line x1="458.30" y1="528.40" x2="458.30" y2="530.40" stroke="#000" stroke-width="0.8"/>
<line x1="425.30" y1="497.82" x2="427.30" y2="497.82" stroke="#000" stroke-width="0.8"/>
<line x1="460.18" y1="528.40" x2="460.18" y2="530.40" stroke="#000" stroke-width="0.8"/>
<line x1="425.30" y1="496.39" x2="427.30" y2="496.39" stroke="#000" stroke-width="0.8"/>
<line x1="461.71" y1="528.40" x2="461.71" y2="530.40" stroke="#000" stroke-width="0.8"/>
<line x1="425.30" y1="495.19" x2="427.30" y2="495.19" stroke="#000" stroke-width="0.8"/>
<line x1="463.00" y1="528.40" x2="463.00" y2="530.40" stroke="#000" stroke-width="0.8"/>
<line x1="425.30" y1="494.14" x2="427.30" y2="494.14" stroke="#000" stroke-width="0.8"/>
<line x1="464.12" y1="528.40" x2="464.12" y2="530.40" stroke="#000" stroke-width="0.8"/>
<line x1="425.30" y1="493.22" x2="427.30" y2="493.22" stroke="#000" stroke-width="0.8"/>
<line x1="465.11" y1="528.40" x2="465.11" y2="530.40" stroke="#000" stroke-width="0.8"/>
<line x1="425.30" y1="486.98" x2="427.30" y2="486.98" stroke="#000" stroke-width="0.8"/>
<line x1="471.82" y1="528.40" x2="471.82" y2="530.40" stroke="#000" stroke-width="0.8"/>
<line x1="425.30" y1="483.81" x2="427.30" y2="483.81" stroke="#000" stroke-width="0.8"/>
<line x1="475.23" y1="528.40" x2="475.23" y2="530.40" stroke="#000" stroke-width="0.8"/>
<line x1="425.30" y1="481.56" x2="427.30" y2="481.56" stroke="#000" stroke-width="0.8"/>
<line x1="477.65" y1="528.40" x2="477.65" y2="530.40" stroke="#000" stroke-width="0.8"/>
<line x1="425.30" y1="479.82" x2="427.30" y2="479.82" stroke="#000" stroke-width="0.8"/>
<line x1="479.53" y1="528.40" x2="479.53" y2="530.40" stroke="#000" stroke-width="0.8"/>
<line x1="425.30" y1="478.39" x2="427.30" y2="478.39" stroke="#000" stroke-width="0.8"/>
<line x1="481.06" y1="528.40" x2="481.06" y2="530.40" stroke="#000" stroke-width="0.8"/>
<line x1="425.30" y1="477.19" x2="427.30" y2="477.19" stroke="#000" stroke-width="0.8"/>
<line x1="482.35" y1="528.40" x2="482.35" y2="530.40" stroke="#000" stroke-width="0.8"/>
<line x1="425.30" y1="476.14" x2="427.30" y2="476.14" stroke="#000" stroke-width="0.8"/>
<line x1="483.47" y1="528.40" x2="483.47" y2="530.40" stroke="#000" stroke-width="0.8"/>
<line x1="425.30" y1="475.22" x2="427.30" y2="475.22" stroke="#000" stroke-width="0.8"/>
<line x1="484.46" y1="528.40" x2="484.46" y2="530.40" stroke="#000" stroke-width="0.8"/>
<line x1="425.30" y1="468.98" x2="427.30" y2="468.98" stroke="#000" stroke-width="0.8"/>
<line x1="491.17" y1="528.40" x2="491.17" y2="530.40" stroke="#000" stroke-width="0.8"/>
<line x1="425.30" y1="465.81" x2="427.30" y2="465.81" stroke="#000" stroke-width="0.8"/>
<line x1="494.58" y1="528.40" x2="494.58" y2="530.40" stroke="#000" stroke-width="0.8"/>
<line x1="425.30" y1="463.56" x2="427.30" y2="463.56" stroke="#000" stroke-width="0.8"/>
<line x1="497.00" y1="528.40" x2="497.00" y2="530.40" stroke="#000" stroke-width="0.8"/>
<line x1="425.30" y1="461.82" x2="427.30" y2="461.82" stroke="#000" stroke-width="0.8"/>
<line x1="498.88" y1="528.40" x2="498.88" y2="530.40" stroke="#000" stroke-width="0.8"/>
<line x1="425.30" y1="460.39" x2="427.30" y2="460.39" stroke="#000" stroke-width="0.8"/>
<line x1="500.41" y1="528.40" x2="500.41" y2="530.40" stroke="#000" stroke-width="0.8"/>
<line x1="425.30" y1="459.19" x2="427.30" y2="459.19" stroke="#000" stroke-width="0.8"/>
<line x1="501.70" y1="528.40" x2="501.70" y2="530.40" stroke="#000" stroke-width="0.8"/>
<line x1="425.30" y1="458.14" x2="427.30" y2="458.14" stroke="#000" stroke-width="0.8"/>
<line x1="502.82" y1="528.40" x2="502.82" y2="530.40" stroke="#000" stroke-width="0.8"/>
<line x1="425.30" y1="457.22" x2="427.30" y2="457.22" stroke="#000" stroke-width="0.8"/>
<line x1="503.81" y1="528.40" x2="503.81" y2="530.40" stroke="#000" stroke-width="0.8"/>
<line x1="424.30" y1="528.40" x2="427.30" y2="528.40" stroke="#000" stroke-width="1.2"/>
<line x1="427.30" y1="528.40" x2="427.30" y2="531.40" stroke="#000" stroke-width="1.2"/>
<text x="420.10" y="528.80" font-size="3.2" font-weight="bold" fill="#2a2a2a">10</text>
<text x="423.60" y="527.20" font-size="2.4" font-weight="bold" fill="#2a2a2a">0</text>
<text x="425.10" y="534.60" font-size="3.2" font-weight="bold" fill="#2a2a2a">10</text>
<text x="428.70" y="533.00" font-size="2.4" font-weight="bold" fill="#2a2a2a">0</text>
<line x1="424.30" y1="510.40" x2="427.30" y2="510.40" stroke="#000" stroke-width="1.2"/>
<line x1="446.65" y1="528.40" x2="446.65" y2="531.40" stroke="#000" stroke-width="1.2"/>
<text x="420.10" y="510.80" font-size="3.2" font-weight="bold" fill="#2a2a2a">10</text>
<text x="423.60" y="509.20" font-size="2.4" font-weight="bold" fill="#2a2a2a">1</text>
<text x="444.45" y="534.60" font-size="3.2" font-weight="bold" fill="#2a2a2a">10</text>
<text x="448.05" y="533.00" font-size="2.4" font-weight="bold" fill="#2a2a2a">1</text>
<line x1="424.30" y1="492.40" x2="427.30" y2="492.40" stroke="#000" stroke-width="1.2"/>
<line x1="466.00" y1="528.40" x2="466.00" y2="531.40" stroke="#000" stroke-width="1.2"/>
<text x="420.10" y="492.80" font-size="3.2" font-weight="bold" fill="#2a2a2a">10</text>
<text x="423.60" y="491.20" font-size="2.4" font-weight="bold" fill="#2a2a2a">2</text>
<text x="463.80" y="534.60" font-size="3.2" font-weight="bold" fill="#2a2a2a">10</text>
<text x="467.40" y="533.00" font-size="2.4" font-weight="bold" fill="#2a2a2a">2</text>
<line x1="424.30" y1="474.40" x2="427.30" y2="474.40" stroke="#000" stroke-width="1.2"/>
<line x1="485.35" y1="528.40" x2="485.35" y2="531.40" stroke="#000" stroke-width="1.2"/>
<text x="420.10" y="474.80" font-size="3.2" font-weight="bold" fill="#2a2a2a">10</text>
<text x="423.60" y="473.20" font-size="2.4" font-weight="bold" fill="#2a2a2a">3</text>
<text x="483.15" y="534.60" font-size="3.2" font-weight="bold" fill="#2a2a2a">10</text>
<text x="486.75" y="533.00" font-size="2.4" font-weight="bold" fill="#2a2a2a">3</text>
<line x1="424.30" y1="456.40" x2="427.30" y2="456.40" stroke="#000" stroke-width="1.2"/>
<line x1="504.70" y1="528.40" x2="504.70" y2="531.40" stroke="#000" stroke-width="1.2"/>
<text x="420.10" y="456.80" font-size="3.2" font-weight="bold" fill="#2a2a2a">10</text>
<text x="423.60" y="455.20" font-size="2.4" font-weight="bold" fill="#2a2a2a">4</text>
<text x="502.50" y="534.60" font-size="3.2" font-weight="bold" fill="#2a2a2a">10</text>
<text x="506.10" y="533.00" font-size="2.4" font-weight="bold" fill="#2a2a2a">4</text>
<text x="466.00" y="538.20" font-size="2.5" text-anchor="middle" fill="#2a2a2a">FL4-H</text>
<text x="418.50" y="492.40" font-size="2.5" text-anchor="middle" fill="#2a2a2a" transform="rotate(-90 418.50 492.40)">FL2-H</text>
<text x="429.30" y="462.68" font-size="5.8" fill="#4a4a4a">0.077</text>
<text x="503.30" y="462.68" font-size="5.8" text-anchor="end" fill="#4a4a4a">0.017</text>
<text x="429.10" y="527.36" font-size="6.6" fill="#222">99.5</text>
<text x="503.50" y="527.36" font-size="6.6" text-anchor="end" fill="#222">0.4</text>
<clipPath id="clipF3"><rect x="337.0" y="541.0" width="77.19999999999999" height="72.60000000000002"/></clipPath>
<g clip-path="url(#clipF3)">
<path d="M334.0 594.5 L407.5 592.3 L396.5 616.6 L334.0 616.6 Z" fill="#a6a6a6" filter="url(#blF)"/>
<ellipse cx="372.0" cy="607.6" rx="14" ry="5.5" fill="#b8b8b8" filter="url(#blF2)"/>
<ellipse cx="348.0" cy="611.6" rx="15" ry="4.2" fill="#e4e4e4" fill-opacity="0.7" filter="url(#blF2)"/>
<path d="M365.9 609.5h0.7M391.1 603.9h0.7M345.2 607.0h0.7M383.2 606.2h0.7M360.3 594.2h0.7M364.8 601.4h0.7M351.5 608.6h0.7M371.4 601.1h0.7M369.2 612.8h0.7M359.4 604.0h0.7M368.2 613.2h0.7M365.1 598.0h0.7M365.6 603.4h0.7M371.9 612.1h0.7M385.5 595.7h0.7M385.4 604.0h0.7M338.9 602.1h0.7M400.5 601.6h0.7M360.8 602.4h0.7M366.7 605.8h0.7M371.9 612.1h0.7M398.3 594.9h0.7M339.8 596.8h0.7M393.9 607.4h0.7M382.7 604.5h0.7M373.2 608.1h0.7M364.2 610.6h0.7M373.2 610.1h0.7M384.3 600.2h0.7M367.5 598.2h0.7M399.5 606.1h0.7M375.4 595.0h0.7M367.9 605.6h0.7M398.3 606.1h0.7M338.9 603.5h0.7M397.8 610.7h0.7M369.9 595.2h0.7M346.4 594.3h0.7M383.9 612.3h0.7M354.0 610.5h0.7M369.3 594.6h0.7M373.3 608.1h0.7M383.0 596.7h0.7M367.6 602.1h0.7M380.9 605.7h0.7M381.2 605.9h0.7M347.1 597.9h0.7M362.9 594.1h0.7M348.9 595.1h0.7M345.0 598.6h0.7M359.5 600.1h0.7M339.6 598.0h0.7M349.6 600.6h0.7M349.5 595.9h0.7M373.6 601.6h0.7M365.8 600.5h0.7M344.4 599.8h0.7M387.7 610.9h0.7M383.3 609.4h0.7M380.6 596.4h0.7M386.2 595.9h0.7M350.2 605.0h0.7M386.3 595.6h0.7M361.9 609.9h0.7M350.7 601.2h0.7M356.8 613.2h0.7M393.0 601.1h0.7M364.8 604.5h0.7M396.2 595.2h0.7M404.2 597.3h0.7M400.5 597.5h0.7M369.5 612.4h0.7M375.2 613.5h0.7M377.8 606.5h0.7M343.2 606.3h0.7M388.2 608.9h0.7M391.3 602.6h0.7M350.6 612.3h0.7M360.0 598.5h0.7M379.9 611.9h0.7M401.5 594.3h0.7M361.3 605.5h0.7M396.4 606.0h0.7M341.7 608.8h0.7M374.1 597.5h0.7M357.3 600.6h0.7M395.3 612.0h0.7M349.7 597.8h0.7M343.5 599.7h0.7M362.8 605.3h0.7M388.2 613.4h0.7M386.7 600.4h0.7M360.2 597.3h0.7M386.2 596.3h0.7M347.1 613.4h0.7M367.4 598.9h0.7M396.2 608.5h0.7M348.1 595.3h0.7M353.4 602.3h0.7M361.4 605.4h0.7M351.5 608.4h0.7M372.9 606.4h0.7M365.4 602.2h0.7M377.3 597.2h0.7M338.4 602.1h0.7M392.0 603.0h0.7M363.8 600.1h0.7M341.6 596.7h0.7M378.9 611.3h0.7M348.9 597.7h0.7M351.6 601.3h0.7M388.1 603.0h0.7M341.9 597.2h0.7M353.6 597.1h0.7M378.0 610.3h0.7M345.1 594.4h0.7M404.5 594.4h0.7M401.4 604.1h0.7M381.3 604.4h0.7M355.1 602.9h0.7M361.5 612.0h0.7M376.3 608.7h0.7M355.8 610.1h0.7M376.7 609.2h0.7M398.2 610.1h0.7M346.9 609.8h0.7M355.4 611.4h0.7M395.1 597.5h0.7M339.3 604.0h0.7M343.7 607.7h0.7M380.6 603.9h0.7M393.4 603.9h0.7M403.1 600.2h0.7M345.8 597.3h0.7M369.1 611.7h0.7M371.7 601.1h0.7M394.6 594.4h0.7M369.8 601.0h0.7M339.6 613.6h0.7M342.1 594.3h0.7M370.8 613.4h0.7M346.1 597.6h0.7M371.6 594.6h0.7M376.7 613.5h0.7M371.2 599.0h0.7M376.1 613.1h0.7M338.1 599.0h0.7M383.9 600.9h0.7M339.5 613.2h0.7M370.9 599.0h0.7M347.2 610.1h0.7M364.2 610.4h0.7M391.6 601.7h0.7M393.7 596.3h0.7M396.7 609.8h0.7M383.8 597.0h0.7M373.1 601.2h0.7M391.2 597.9h0.7M341.7 611.6h0.7M339.1 599.4h0.7M396.6 604.7h0.7M385.8 607.1h0.7M366.0 599.1h0.7M354.2 605.1h0.7M351.5 613.3h0.7M354.1 602.4h0.7M400.7 600.7h0.7M388.3 600.8h0.7M394.4 604.9h0.7M400.4 600.1h0.7M401.6 602.0h0.7M363.5 606.5h0.7M353.6 608.4h0.7M374.9 608.1h0.7M362.8 606.8h0.7M359.7 596.7h0.7M376.0 607.2h0.7M397.4 598.1h0.7M373.9 610.6h0.7M359.9 611.6h0.7M349.8 599.3h0.7M393.2 612.7h0.7M380.0 606.4h0.7M351.7 608.3h0.7M391.8 608.2h0.7M342.4 607.0h0.7M343.0 596.6h0.7M356.8 605.5h0.7M389.9 613.1h0.7M372.5 610.2h0.7M383.7 602.8h0.7M393.6 602.6h0.7M366.6 610.6h0.7M373.8 599.1h0.7M337.1 596.8h0.7M342.3 603.8h0.7M366.6 609.9h0.7M359.0 607.7h0.7M372.3 600.0h0.7M337.4 603.6h0.7M369.5 608.3h0.7M348.0 612.6h0.7M380.2 596.8h0.7M375.9 608.4h0.7M384.8 607.0h0.7M366.7 612.8h0.7M337.0 603.6h0.7M350.5 606.5h0.7M364.5 613.5h0.7M354.0 604.5h0.7M369.9 607.0h0.7M379.6 605.4h0.7M372.4 610.4h0.7M340.6 607.2h0.7M338.7 596.8h0.7M338.9 595.0h0.7M383.2 611.7h0.7M364.4 608.8h0.7M374.2 596.4h0.7M364.0 611.0h0.7M383.6 606.9h0.7M378.4 608.7h0.7M350.9 612.2h0.7M386.0 599.9h0.7M351.4 595.0h0.7M383.5 607.3h0.7M375.7 600.0h0.7M337.8 608.1h0.7M349.7 607.4h0.7M352.3 607.2h0.7M362.5 609.9h0.7M396.7 597.0h0.7M384.9 597.5h0.7M369.4 604.1h0.7M364.4 597.2h0.7M339.0 603.8h0.7M351.7 599.2h0.7M396.4 613.3h0.7M362.5 610.4h0.7M355.5 609.4h0.7M352.0 598.7h0.7M391.0 604.4h0.7M362.7 606.0h0.7M361.6 594.9h0.7M359.5 598.8h0.7M355.2 610.1h0.7M354.8 599.0h0.7M356.0 611.7h0.7M368.4 603.2h0.7M366.9 603.8h0.7M338.3 596.3h0.7M363.6 610.7h0.7M392.3 602.0h0.7M387.8 598.3h0.7M345.5 597.2h0.7M351.0 597.2h0.7M379.5 609.2h0.7M379.4 601.1h0.7M340.4 605.6h0.7M358.0 600.7h0.7M371.5 612.1h0.7M383.0 604.0h0.7M375.0 603.0h0.7M380.4 612.5h0.7M396.8 609.9h0.7M396.1 613.2h0.7M350.5 609.0h0.7M395.6 598.4h0.7M351.3 603.0h0.7M337.2 609.5h0.7M389.7 598.4h0.7M398.2 602.7h0.7M344.0 596.4h0.7M387.8 602.6h0.7M342.5 604.8h0.7M398.8 597.3h0.7M368.3 605.7h0.7M369.9 596.8h0.7M398.5 603.6h0.7M357.5 607.5h0.7M373.5 608.3h0.7M343.8 602.4h0.7M348.9 597.3h0.7M373.1 613.1h0.7M395.5 604.6h0.7M362.0 603.5h0.7M337.4 594.7h0.7M352.7 608.8h0.7M370.6 609.4h0.7M341.3 608.1h0.7M346.7 602.9h0.7M352.2 603.0h0.7M393.9 610.1h0.7M365.8 612.3h0.7M346.4 605.6h0.7M373.3 606.5h0.7M375.8 610.4h0.7M378.6 600.6h0.7M386.9 597.4h0.7M375.3 608.7h0.7M340.5 606.0h0.7M377.1 600.6h0.7M377.9 610.5h0.7M370.9 608.8h0.7M346.8 594.5h0.7M350.9 603.9h0.7M379.3 607.8h0.7M389.0 611.8h0.7M341.9 607.9h0.7M388.4 598.6h0.7M367.4 596.9h0.7M379.4 612.9h0.7M390.0 610.8h0.7M342.7 602.2h0.7M386.2 602.0h0.7M387.2 609.0h0.7M368.6 606.6h0.7M354.4 599.1h0.7M375.8 603.5h0.7M376.6 613.2h0.7M364.2 602.8h0.7M372.5 594.3h0.7M386.7 596.0h0.7M390.5 596.9h0.7M402.7 601.1h0.7M338.6 606.9h0.7M398.1 599.5h0.7M396.5 609.5h0.7M390.5 612.3h0.7M346.1 613.1h0.7M345.1 600.3h0.7M374.9 603.1h0.7M398.8 600.9h0.7M372.9 594.5h0.7M371.2 600.0h0.7M394.9 595.3h0.7M376.5 596.2h0.7M392.7 596.2h0.7M377.7 601.2h0.7M371.9 604.9h0.7M370.6 605.1h0.7M390.6 606.4h0.7M345.3 597.6h0.7M359.9 599.6h0.7M343.6 596.4h0.7M381.5 611.7h0.7M364.3 597.0h0.7M397.4 606.3h0.7M360.0 603.7h0.7M398.9 595.4h0.7M358.0 610.3h0.7M400.7 603.9h0.7M397.6 604.9h0.7M356.5 608.7h0.7M372.9 599.9h0.7M342.0 601.5h0.7M378.9 596.7h0.7M382.8 611.2h0.7M368.1 601.4h0.7M366.1 610.6h0.7M370.3 610.7h0.7M390.2 601.9h0.7M350.5 605.7h0.7M393.4 598.6h0.7M385.4 603.4h0.7M363.8 600.1h0.7M376.4 607.1h0.7M371.4 611.6h0.7M372.8 598.8h0.7M360.1 598.0h0.7M372.6 593.9h0.7M343.3 605.5h0.7M377.9 599.7h0.7M360.0 599.3h0.7M381.6 602.8h0.7M377.8 605.1h0.7M386.8 611.3h0.7M337.5 597.7h0.7M345.1 603.6h0.7M370.4 612.0h0.7M373.5 600.2h0.7M369.2 604.8h0.7M386.4 602.7h0.7M341.2 608.2h0.7M379.3 601.8h0.7M356.5 599.1h0.7M363.4 606.3h0.7M341.5 601.8h0.7M350.8 603.7h0.7M371.0 598.8h0.7M387.5 611.4h0.7M401.2 595.0h0.7M402.7 601.4h0.7M399.6 595.7h0.7M389.5 602.6h0.7M367.4 605.7h0.7M356.2 596.1h0.7M395.2 607.0h0.7M387.5 599.1h0.7M384.9 598.1h0.7M389.1 600.6h0.7M373.9 611.3h0.7M354.2 599.8h0.7M337.8 594.5h0.7M353.2 595.8h0.7M381.3 602.8h0.7M361.9 594.4h0.7M350.3 607.5h0.7M346.0 605.7h0.7M339.3 602.0h0.7M375.5 596.9h0.7M381.4 612.7h0.7M401.4 601.2h0.7M389.8 598.8h0.7M347.5 613.3h0.7M350.9 608.7h0.7M356.6 600.8h0.7M373.5 609.8h0.7M391.3 607.7h0.7M380.2 611.3h0.7M339.6 613.2h0.7M368.9 605.3h0.7M372.9 610.2h0.7M373.3 611.9h0.7M344.5 597.9h0.7M370.8 610.6h0.7M382.4 609.6h0.7M388.7 608.5h0.7M354.0 603.0h0.7M338.8 610.9h0.7M378.5 603.6h0.7M398.4 599.7h0.7M397.0 602.7h0.7M396.2 610.1h0.7M350.7 595.5h0.7M396.6 594.1h0.7M342.1 595.1h0.7M356.2 596.5h0.7M392.7 598.5h0.7M343.3 596.6h0.7M389.7 594.3h0.7M390.7 599.2h0.7M398.2 605.8h0.7M394.8 608.5h0.7M385.4 603.2h0.7M348.3 612.2h0.7M344.9 594.8h0.7M342.4 611.2h0.7M358.0 594.8h0.7M358.1 605.7h0.7M403.9 597.9h0.7M394.7 608.0h0.7M343.3 608.6h0.7M368.8 609.9h0.7M391.1 599.7h0.7M363.5 597.0h0.7M372.2 608.9h0.7M396.2 607.4h0.7M398.9 602.9h0.7M348.6 602.4h0.7M392.4 603.8h0.7M367.4 612.7h0.7M338.5 596.4h0.7M357.5 605.6h0.7M397.0 610.8h0.7M349.4 595.9h0.7M348.2 608.5h0.7M366.2 598.8h0.7M398.6 600.7h0.7M356.0 602.3h0.7M341.1 613.4h0.7M358.6 612.2h0.7M400.5 601.1h0.7M382.4 611.3h0.7M393.4 603.7h0.7M358.6 605.7h0.7M385.1 606.9h0.7M392.1 608.4h0.7M382.8 600.5h0.7M399.4 601.2h0.7M398.2 596.4h0.7M375.3 611.0h0.7M400.6 602.8h0.7M385.2 612.8h0.7M398.5 599.1h0.7M346.6 606.3h0.7M357.2 613.5h0.7M347.2 607.7h0.7M338.6 611.5h0.7M381.2 612.3h0.7M379.5 597.5h0.7M392.5 606.8h0.7M378.8 600.2h0.7M364.0 597.5h0.7M350.4 600.8h0.7M400.5 600.2h0.7M397.7 609.6h0.7M359.5 601.0h0.7M387.6 609.7h0.7M373.1 605.9h0.7M392.6 612.4h0.7M375.3 598.4h0.7M337.8 609.1h0.7M355.7 602.7h0.7M355.2 598.0h0.7M359.2 597.2h0.7M360.3 598.8h0.7M338.2 607.3h0.7M371.5 610.6h0.7M400.5 599.9h0.7M378.6 600.6h0.7M351.4 596.3h0.7M396.2 596.1h0.7M396.6 600.1h0.7M344.9 611.8h0.7M384.5 604.1h0.7M359.2 600.0h0.7M390.8 608.8h0.7M362.3 593.9h0.7M353.6 608.5h0.7M394.7 603.5h0.7M380.8 598.1h0.7M369.5 598.3h0.7M375.2 611.6h0.7M381.5 608.0h0.7M365.9 613.1h0.7M364.6 597.7h0.7M354.9 602.2h0.7M379.2 609.3h0.7M356.3 605.4h0.7M365.2 603.4h0.7M356.4 596.5h0.7M372.0 598.1h0.7M347.1 608.1h0.7M345.2 605.8h0.7M389.1 609.3h0.7M352.2 603.0h0.7M375.5 604.5h0.7M369.9 595.4h0.7M366.6 608.7h0.7M384.1 599.5h0.7M391.3 596.2h0.7M392.3 594.8h0.7M351.9 599.7h0.7M377.7 596.5h0.7M347.5 597.2h0.7M349.6 601.9h0.7M360.3 600.7h0.7M375.6 599.2h0.7M370.2 597.4h0.7M340.2 605.9h0.7M370.2 604.5h0.7M348.4 601.6h0.7M348.6 597.7h0.7M395.3 609.4h0.7M380.7 595.9h0.7M353.7 601.4h0.7M389.1 598.0h0.7M394.6 604.4h0.7M347.0 611.8h0.7M381.5 607.0h0.7M364.7 606.6h0.7M366.7 595.5h0.7M349.4 594.1h0.7M345.5 606.5h0.7M367.8 610.9h0.7M348.1 613.4h0.7M368.3 611.2h0.7M367.8 604.8h0.7M347.5 607.4h0.7M387.0 600.9h0.7M379.2 613.2h0.7M385.7 613.1h0.7M393.7 607.8h0.7M396.3 598.5h0.7M384.5 607.4h0.7M350.1 609.6h0.7M363.4 609.2h0.7M369.5 606.8h0.7M368.6 596.2h0.7M343.6 608.4h0.7M363.5 603.1h0.7" stroke="#555" stroke-width="0.7" fill="none" stroke-opacity="0.5"/>
<path d="M392.5 595.1h0.7M344.6 596.5h0.7M371.0 595.3h0.7M359.1 595.7h0.7M370.6 595.0h0.7M405.2 596.7h0.7M390.5 595.2h0.7M398.2 595.0h0.7M395.3 597.1h0.7M341.3 595.5h0.7M387.1 597.0h0.7M388.7 595.2h0.7M389.6 597.7h0.7M354.6 597.3h0.7M363.0 598.5h0.7M382.0 597.4h0.7M355.9 595.8h0.7M372.2 595.9h0.7M365.6 597.1h0.7M342.3 595.7h0.7M342.0 595.2h0.7M351.3 595.6h0.7M368.6 596.7h0.7M400.6 597.3h0.7M390.0 598.3h0.7M358.4 597.0h0.7M391.6 595.0h0.7M393.2 597.8h0.7M401.5 598.9h0.7M385.8 596.4h0.7M379.9 595.0h0.7M383.6 595.2h0.7M342.2 595.5h0.7M378.4 597.5h0.7M339.9 599.7h0.7M381.1 599.0h0.7M383.3 595.5h0.7M363.2 596.8h0.7M349.1 597.3h0.7M372.8 595.5h0.7M347.9 595.9h0.7M363.5 596.5h0.7M386.1 598.3h0.7M339.2 596.0h0.7M402.0 597.6h0.7M398.6 595.5h0.7M362.4 595.8h0.7M394.2 595.1h0.7M393.8 595.8h0.7M386.3 596.1h0.7M366.1 599.1h0.7M362.2 596.7h0.7M351.1 595.0h0.7M392.8 599.2h0.7M383.7 595.6h0.7M404.3 595.7h0.7M380.0 596.0h0.7M337.3 595.6h0.7M350.9 597.3h0.7M340.1 595.2h0.7M357.2 595.6h0.7M376.9 596.8h0.7M375.3 595.2h0.7M379.1 595.3h0.7M362.5 596.2h0.7M400.5 598.8h0.7M367.4 595.3h0.7M353.4 598.7h0.7M365.7 596.8h0.7M363.8 597.3h0.7M349.5 594.9h0.7M376.8 597.2h0.7M373.7 596.4h0.7M338.0 595.9h0.7M357.8 596.0h0.7M345.1 598.0h0.7M360.6 595.0h0.7M348.7 595.6h0.7M341.7 598.6h0.7M362.8 596.4h0.7M339.9 595.8h0.7M341.7 596.3h0.7M387.3 596.1h0.7M352.6 600.8h0.7M390.2 596.9h0.7M365.9 597.4h0.7M376.6 596.0h0.7M395.0 595.2h0.7M344.3 600.3h0.7M338.6 596.1h0.7M361.6 597.6h0.7M403.3 595.3h0.7M361.9 595.0h0.7M365.4 598.4h0.7M379.2 596.8h0.7M337.1 595.8h0.7M378.2 597.0h0.7M382.7 596.7h0.7M400.2 595.1h0.7M381.8 599.3h0.7M383.3 595.1h0.7M343.5 599.7h0.7M367.9 595.7h0.7M351.6 598.7h0.7M358.2 595.8h0.7M342.2 595.0h0.7M363.9 595.2h0.7M347.4 599.6h0.7M358.0 596.1h0.7M339.3 597.2h0.7M404.8 595.8h0.7M365.5 595.8h0.7M360.2 597.2h0.7M384.8 595.3h0.7M389.1 596.4h0.7M384.2 597.1h0.7M359.0 596.3h0.7M374.8 595.1h0.7M366.9 596.1h0.7M389.5 601.2h0.7M364.3 596.2h0.7M401.2 595.6h0.7M365.7 596.3h0.7M352.3 601.6h0.7M397.4 600.1h0.7M341.7 595.3h0.7M406.1 597.1h0.7M405.8 595.4h0.7M371.2 595.9h0.7M359.1 596.2h0.7M344.9 598.9h0.7M368.3 596.1h0.7M387.0 597.0h0.7M351.3 595.4h0.7M384.7 596.7h0.7M358.5 595.9h0.7M374.6 595.5h0.7M392.1 596.8h0.7M370.7 596.4h0.7M382.8 596.4h0.7M361.1 595.2h0.7M377.5 597.0h0.7M393.5 597.4h0.7M398.3 596.6h0.7M403.0 595.3h0.7M356.9 596.9h0.7M344.1 596.2h0.7M339.0 597.5h0.7M347.7 596.1h0.7M386.9 595.6h0.7M350.1 596.3h0.7M390.2 596.6h0.7M340.8 597.0h0.7M391.5 599.7h0.7M365.3 597.8h0.7M348.0 596.0h0.7M378.3 596.6h0.7M389.4 595.6h0.7M341.0 596.0h0.7M365.7 597.4h0.7M343.6 598.0h0.7M403.3 595.6h0.7M366.8 596.4h0.7M369.6 596.3h0.7M378.5 595.3h0.7M393.9 596.1h0.7M402.2 595.0h0.7M365.0 595.3h0.7M366.3 597.8h0.7M395.1 597.6h0.7M388.3 595.6h0.7M384.3 596.4h0.7M392.9 595.8h0.7M401.7 598.4h0.7M340.6 596.3h0.7M376.6 595.7h0.7M355.3 596.0h0.7M400.9 594.9h0.7M338.5 597.3h0.7M364.8 595.9h0.7M369.7 596.0h0.7M342.6 595.3h0.7M360.1 594.9h0.7M363.6 595.2h0.7M344.1 596.2h0.7M390.4 595.1h0.7M361.5 597.0h0.7M369.1 596.2h0.7M392.8 595.7h0.7M400.4 595.7h0.7M355.0 596.5h0.7M389.3 596.8h0.7M357.7 596.5h0.7M403.1 599.9h0.7M401.2 596.3h0.7M371.5 597.2h0.7M343.4 596.7h0.7M396.3 597.0h0.7M384.5 597.5h0.7M392.1 596.4h0.7M372.7 595.1h0.7M403.9 595.7h0.7M361.8 596.5h0.7M390.5 597.0h0.7M343.9 596.2h0.7M401.0 597.3h0.7M360.3 597.0h0.7M346.7 595.0h0.7M366.3 595.8h0.7M346.1 596.5h0.7M377.0 596.7h0.7M381.1 596.9h0.7M353.6 597.1h0.7M343.3 595.6h0.7M395.9 595.7h0.7M384.2 595.5h0.7M380.1 597.6h0.7M403.8 595.7h0.7M344.5 595.4h0.7M373.7 596.7h0.7M340.6 595.9h0.7M397.3 596.1h0.7M395.6 596.9h0.7M364.5 598.7h0.7M378.0 596.9h0.7M388.5 596.9h0.7M382.1 595.3h0.7M385.4 595.3h0.7M355.4 596.6h0.7M387.4 596.1h0.7M388.8 596.4h0.7M370.8 595.3h0.7M374.7 595.6h0.7M365.3 596.9h0.7M379.4 596.5h0.7M400.3 595.3h0.7M339.4 595.4h0.7M390.4 598.7h0.7M387.7 595.2h0.7M367.1 595.8h0.7M351.6 595.9h0.7M380.5 597.9h0.7M390.1 599.1h0.7M347.6 595.2h0.7M376.2 596.8h0.7M388.7 595.4h0.7M355.5 596.0h0.7M394.4 596.3h0.7M374.9 596.7h0.7M342.3 595.5h0.7M394.9 598.4h0.7M339.3 596.4h0.7M394.3 595.4h0.7M375.4 595.8h0.7M337.4 597.2h0.7M347.4 597.8h0.7M345.8 596.1h0.7M382.0 595.2h0.7M390.3 599.5h0.7M362.3 595.6h0.7M381.8 595.2h0.7M376.0 597.8h0.7M396.6 597.7h0.7M353.7 596.0h0.7M345.8 597.9h0.7M365.5 595.0h0.7M395.0 595.0h0.7M354.8 596.7h0.7M393.8 595.5h0.7M343.2 595.4h0.7M396.7 597.2h0.7M368.0 596.5h0.7M394.7 596.7h0.7M369.4 600.0h0.7M373.6 597.8h0.7M385.4 595.4h0.7M348.6 595.0h0.7M338.8 597.1h0.7M364.0 599.2h0.7M346.3 597.6h0.7M352.8 594.9h0.7M348.7 596.7h0.7M345.2 595.0h0.7M396.0 595.0h0.7M380.2 595.5h0.7M361.6 596.8h0.7M398.8 598.2h0.7M337.7 596.4h0.7M400.4 596.4h0.7M392.5 595.4h0.7M369.6 597.2h0.7M402.1 595.1h0.7M361.1 595.0h0.7M346.7 595.3h0.7M344.0 596.7h0.7M387.8 595.9h0.7M357.8 600.4h0.7M355.5 597.4h0.7M393.0 596.9h0.7M397.5 600.3h0.7" stroke="#3a3a3a" stroke-width="0.7" fill="none" stroke-opacity="0.55"/>
<path d="M343.9 598.1h0.7M388.3 602.3h0.7M394.7 613.1h0.7M341.4 598.9h0.7M350.4 598.2h0.7M367.6 612.4h0.7M392.9 600.1h0.7M366.8 602.9h0.7M340.0 611.4h0.7M384.2 604.2h0.7M398.5 598.6h0.7M347.3 604.4h0.7M390.2 609.4h0.7M398.7 600.4h0.7M364.0 602.1h0.7M390.8 603.2h0.7M377.9 598.1h0.7M400.2 608.7h0.7M380.3 599.4h0.7M355.7 601.3h0.7M382.6 604.9h0.7M358.5 609.8h0.7M359.8 599.2h0.7M337.2 613.1h0.7M342.2 605.9h0.7M349.0 600.5h0.7M380.1 600.7h0.7M370.4 606.3h0.7M362.6 599.3h0.7M376.4 600.5h0.7M357.5 612.9h0.7M358.2 611.6h0.7M376.3 607.6h0.7M385.3 609.6h0.7M384.7 599.6h0.7M372.7 602.2h0.7M400.1 598.1h0.7M400.9 607.0h0.7M397.0 598.0h0.7M356.1 599.6h0.7M384.9 613.5h0.7M344.0 599.3h0.7M401.0 613.4h0.7M373.8 606.4h0.7M341.5 605.6h0.7M345.2 599.9h0.7M378.7 604.1h0.7M380.9 603.4h0.7M360.9 608.8h0.7M365.8 613.3h0.7M389.2 603.0h0.7M387.5 598.3h0.7M385.8 613.0h0.7M361.4 605.5h0.7M359.5 604.3h0.7M379.5 609.8h0.7M343.2 608.0h0.7M380.6 606.4h0.7M381.4 600.1h0.7M386.5 610.4h0.7M352.9 601.7h0.7M359.1 607.4h0.7M352.6 600.9h0.7M365.4 601.5h0.7M378.1 607.7h0.7M366.4 609.6h0.7M393.7 613.2h0.7M374.8 608.6h0.7M388.3 607.9h0.7M399.0 607.3h0.7M388.3 602.4h0.7M351.0 612.3h0.7M359.0 607.0h0.7M340.1 598.7h0.7M363.0 605.4h0.7M365.6 603.2h0.7M357.9 600.4h0.7M361.3 608.7h0.7M350.1 610.6h0.7M390.0 612.0h0.7M362.4 611.6h0.7M338.3 613.4h0.7M365.7 600.9h0.7M360.7 606.9h0.7M348.6 604.3h0.7M382.2 609.3h0.7M363.8 608.7h0.7M387.4 599.1h0.7M376.6 602.2h0.7M398.7 601.3h0.7M358.7 599.0h0.7M339.5 602.2h0.7M348.8 605.4h0.7M385.8 602.8h0.7M349.6 600.3h0.7M375.3 610.5h0.7M344.3 598.9h0.7M392.2 601.7h0.7M361.8 608.6h0.7M355.8 604.3h0.7M394.4 608.0h0.7M382.4 599.1h0.7M375.9 612.6h0.7M395.4 604.1h0.7M389.1 610.9h0.7M337.5 604.5h0.7M395.7 610.9h0.7M349.8 598.4h0.7M383.9 602.3h0.7M356.4 613.5h0.7M356.1 599.0h0.7M364.3 611.3h0.7M337.5 603.8h0.7M391.5 605.5h0.7M354.2 602.4h0.7M378.0 603.4h0.7M346.3 613.3h0.7M343.3 605.2h0.7M338.2 600.1h0.7M368.4 609.8h0.7M363.9 601.2h0.7M383.4 606.3h0.7M364.9 610.2h0.7M369.7 605.1h0.7M373.7 599.4h0.7M346.4 609.4h0.7M361.2 612.4h0.7M390.8 608.5h0.7M400.7 612.5h0.7M368.4 605.2h0.7M357.1 601.1h0.7M392.1 603.1h0.7M372.3 610.4h0.7M339.7 612.6h0.7M347.4 602.1h0.7M378.3 610.8h0.7M344.9 609.8h0.7M371.1 601.4h0.7M399.3 610.8h0.7M370.4 604.5h0.7M366.3 600.2h0.7M388.7 606.7h0.7M370.8 601.9h0.7M391.0 606.4h0.7M337.8 612.9h0.7M391.4 601.0h0.7M347.7 606.6h0.7M351.1 606.0h0.7M373.6 600.6h0.7M381.1 607.5h0.7M347.5 601.8h0.7M388.2 612.1h0.7M368.0 611.3h0.7M385.4 606.2h0.7M360.1 601.7h0.7M360.1 600.2h0.7M371.4 601.5h0.7M379.5 606.2h0.7M386.6 607.1h0.7M358.7 600.0h0.7M376.9 609.7h0.7M353.6 605.5h0.7M382.3 613.2h0.7M363.0 604.1h0.7M396.8 605.2h0.7M384.1 610.3h0.7M341.9 604.4h0.7M378.2 610.2h0.7M361.5 606.4h0.7M357.9 599.7h0.7M350.5 612.1h0.7M382.2 612.0h0.7M392.0 599.9h0.7M365.7 603.1h0.7M369.1 606.8h0.7M358.5 599.6h0.7M389.3 604.2h0.7M400.6 598.9h0.7M366.1 606.2h0.7M366.0 605.5h0.7M349.3 612.5h0.7M355.4 610.5h0.7M362.3 602.1h0.7M363.7 608.6h0.7M347.8 612.9h0.7M360.2 599.9h0.7M340.9 606.3h0.7M355.2 600.2h0.7M379.3 601.9h0.7M395.5 605.7h0.7M351.0 598.0h0.7M382.1 605.5h0.7M351.9 602.6h0.7M398.2 598.9h0.7M353.0 606.2h0.7M340.2 601.0h0.7M398.3 601.0h0.7M359.3 612.7h0.7M350.4 604.8h0.7M366.3 606.5h0.7M391.5 599.5h0.7M362.4 612.8h0.7M366.6 607.1h0.7M379.0 602.5h0.7M338.5 608.3h0.7M395.5 608.0h0.7M383.0 605.5h0.7M375.1 604.6h0.7M360.0 599.4h0.7M399.6 609.8h0.7M341.8 598.5h0.7M337.3 598.9h0.7M375.3 607.7h0.7M380.6 611.6h0.7M346.7 612.0h0.7M391.5 601.4h0.7M365.2 610.7h0.7M358.7 600.8h0.7M383.1 600.9h0.7M363.3 605.2h0.7M347.5 606.9h0.7M364.7 606.2h0.7M339.5 612.3h0.7M356.9 605.7h0.7M374.7 603.6h0.7M342.2 605.2h0.7M365.2 600.8h0.7M368.0 609.2h0.7M339.3 600.7h0.7M350.6 605.5h0.7M340.0 599.3h0.7M370.6 609.2h0.7M378.3 603.6h0.7M337.2 610.2h0.7M373.6 600.5h0.7M392.6 605.6h0.7M339.9 611.6h0.7M375.3 609.4h0.7M357.7 601.1h0.7M346.2 599.4h0.7M393.1 607.3h0.7M357.1 613.3h0.7M391.6 604.3h0.7M395.2 608.9h0.7M353.1 608.6h0.7M393.3 613.2h0.7M395.7 604.3h0.7M337.1 599.3h0.7M394.0 599.5h0.7M378.0 612.2h0.7M337.3 601.3h0.7M371.0 607.1h0.7M392.2 607.9h0.7M391.9 612.0h0.7M394.4 604.6h0.7M370.3 601.8h0.7M343.7 612.1h0.7M359.2 607.5h0.7M356.2 613.5h0.7M377.2 610.1h0.7M354.2 608.3h0.7M373.0 605.3h0.7M356.9 597.9h0.7M367.0 610.8h0.7M378.3 603.5h0.7M389.7 598.8h0.7M339.6 609.5h0.7M366.2 613.4h0.7M358.0 609.5h0.7M377.6 600.6h0.7M383.4 603.3h0.7M383.0 603.3h0.7M347.1 602.7h0.7M346.6 608.6h0.7M392.8 609.2h0.7M357.1 602.3h0.7M381.9 604.0h0.7M338.1 602.9h0.7M375.5 602.0h0.7M352.0 608.2h0.7M380.1 610.5h0.7M342.3 609.1h0.7M394.0 613.0h0.7M381.3 612.7h0.7M377.2 613.0h0.7M367.5 610.2h0.7M388.3 603.7h0.7M365.3 609.6h0.7M378.2 613.1h0.7M362.5 602.2h0.7M337.9 603.4h0.7M366.7 598.3h0.7M388.7 612.1h0.7M378.4 610.4h0.7M342.7 599.8h0.7M339.1 604.9h0.7M348.2 602.5h0.7M377.4 603.4h0.7M356.7 604.8h0.7M352.9 612.7h0.7M393.3 602.8h0.7M337.7 607.0h0.7M390.0 609.6h0.7M359.5 609.0h0.7M389.2 598.5h0.7M355.7 603.3h0.7M370.4 610.9h0.7M346.1 600.6h0.7M354.9 605.0h0.7M378.7 610.3h0.7M380.8 601.1h0.7M347.9 605.6h0.7M378.3 612.8h0.7M400.1 599.4h0.7M376.0 602.4h0.7M355.1 598.3h0.7M381.0 598.8h0.7M374.8 610.5h0.7M379.5 606.2h0.7M391.0 607.6h0.7M397.3 602.0h0.7M346.9 609.0h0.7M352.8 600.2h0.7M345.5 601.0h0.7M401.3 598.9h0.7M400.4 612.8h0.7M385.6 603.1h0.7M377.2 602.4h0.7M347.2 604.5h0.7M356.6 601.6h0.7M345.5 612.2h0.7M360.3 602.3h0.7M343.2 598.6h0.7M338.3 611.1h0.7M340.7 609.3h0.7M365.5 600.8h0.7M347.4 603.8h0.7M340.7 600.4h0.7M385.6 612.0h0.7M386.2 612.2h0.7M397.9 598.7h0.7M388.8 601.3h0.7M398.2 604.4h0.7M379.1 607.6h0.7M371.2 610.9h0.7M363.7 612.0h0.7M358.5 612.5h0.7M338.0 606.9h0.7M382.8 609.6h0.7M357.6 611.9h0.7M384.3 609.5h0.7M397.8 605.2h0.7M388.0 610.9h0.7M369.7 607.8h0.7M373.0 602.4h0.7M394.2 598.4h0.7M352.5 609.9h0.7M374.9 598.2h0.7M375.5 610.3h0.7M375.9 610.1h0.7M355.7 600.9h0.7M366.5 611.3h0.7M369.6 606.6h0.7M388.1 612.9h0.7M399.2 612.6h0.7M340.4 598.3h0.7M388.4 601.6h0.7M368.4 610.7h0.7M378.6 606.2h0.7M371.9 600.2h0.7M388.9 605.9h0.7M363.3 603.4h0.7M362.6 604.0h0.7M372.5 599.6h0.7M399.5 607.4h0.7M364.2 610.9h0.7M364.4 604.0h0.7M369.7 602.9h0.7M401.3 612.1h0.7M347.4 607.8h0.7M375.7 613.2h0.7M376.3 611.1h0.7M394.4 601.2h0.7M359.5 608.9h0.7M376.7 600.4h0.7M353.3 600.5h0.7M362.1 607.9h0.7M341.9 598.4h0.7M355.0 601.5h0.7M362.1 613.1h0.7M356.2 602.5h0.7M363.7 609.2h0.7M355.6 609.0h0.7M353.4 606.4h0.7M359.1 611.1h0.7M380.3 601.1h0.7M377.2 600.1h0.7M400.2 610.4h0.7M345.8 603.3h0.7M389.0 601.0h0.7M342.2 606.0h0.7M351.6 608.7h0.7M338.1 606.1h0.7M369.2 610.6h0.7M337.8 603.4h0.7M341.2 610.5h0.7M378.7 612.3h0.7M378.9 607.1h0.7M343.1 608.5h0.7M377.0 606.9h0.7M364.6 602.6h0.7M393.0 601.8h0.7M374.2 609.2h0.7M370.9 600.2h0.7M400.9 604.3h0.7M354.8 603.7h0.7M366.3 611.9h0.7M386.9 606.3h0.7M383.7 602.1h0.7M339.7 604.8h0.7" stroke="#ececec" stroke-width="0.7" fill="none" stroke-opacity="0.8"/>
<rect x="337.0" y="606.4" width="13.2" height="7.2" fill="#fff" fill-opacity="0.72"/>
<rect x="400.2" y="606.4" width="14.0" height="7.2" fill="#fff" fill-opacity="0.8"/>
</g>
<line x1="364.40" y1="541.00" x2="364.40" y2="613.60" stroke="#606060" stroke-width="1.6"/>
<line x1="337.00" y1="590.30" x2="414.20" y2="590.30" stroke="#606060" stroke-width="1.6"/>
<rect x="337.0" y="541.0" width="77.19999999999999" height="72.60000000000002" fill="none" stroke="#000" stroke-width="1.5"/>
<line x1="335.00" y1="608.14" x2="337.00" y2="608.14" stroke="#000" stroke-width="0.8"/>
<line x1="342.81" y1="613.60" x2="342.81" y2="615.60" stroke="#000" stroke-width="0.8"/>
<line x1="335.00" y1="604.94" x2="337.00" y2="604.94" stroke="#000" stroke-width="0.8"/>
<line x1="346.21" y1="613.60" x2="346.21" y2="615.60" stroke="#000" stroke-width="0.8"/>
<line x1="335.00" y1="602.67" x2="337.00" y2="602.67" stroke="#000" stroke-width="0.8"/>
<line x1="348.62" y1="613.60" x2="348.62" y2="615.60" stroke="#000" stroke-width="0.8"/>
<line x1="335.00" y1="600.91" x2="337.00" y2="600.91" stroke="#000" stroke-width="0.8"/>
<line x1="350.49" y1="613.60" x2="350.49" y2="615.60" stroke="#000" stroke-width="0.8"/>
<line x1="335.00" y1="599.48" x2="337.00" y2="599.48" stroke="#000" stroke-width="0.8"/>
<line x1="352.02" y1="613.60" x2="352.02" y2="615.60" stroke="#000" stroke-width="0.8"/>
<line x1="335.00" y1="598.26" x2="337.00" y2="598.26" stroke="#000" stroke-width="0.8"/>
<line x1="353.31" y1="613.60" x2="353.31" y2="615.60" stroke="#000" stroke-width="0.8"/>
<line x1="335.00" y1="597.21" x2="337.00" y2="597.21" stroke="#000" stroke-width="0.8"/>
<line x1="354.43" y1="613.60" x2="354.43" y2="615.60" stroke="#000" stroke-width="0.8"/>
<line x1="335.00" y1="596.28" x2="337.00" y2="596.28" stroke="#000" stroke-width="0.8"/>
<line x1="355.42" y1="613.60" x2="355.42" y2="615.60" stroke="#000" stroke-width="0.8"/>
<line x1="335.00" y1="589.99" x2="337.00" y2="589.99" stroke="#000" stroke-width="0.8"/>
<line x1="362.11" y1="613.60" x2="362.11" y2="615.60" stroke="#000" stroke-width="0.8"/>
<line x1="335.00" y1="586.79" x2="337.00" y2="586.79" stroke="#000" stroke-width="0.8"/>
<line x1="365.51" y1="613.60" x2="365.51" y2="615.60" stroke="#000" stroke-width="0.8"/>
<line x1="335.00" y1="584.52" x2="337.00" y2="584.52" stroke="#000" stroke-width="0.8"/>
<line x1="367.92" y1="613.60" x2="367.92" y2="615.60" stroke="#000" stroke-width="0.8"/>
<line x1="335.00" y1="582.76" x2="337.00" y2="582.76" stroke="#000" stroke-width="0.8"/>
<line x1="369.79" y1="613.60" x2="369.79" y2="615.60" stroke="#000" stroke-width="0.8"/>
<line x1="335.00" y1="581.33" x2="337.00" y2="581.33" stroke="#000" stroke-width="0.8"/>
<line x1="371.32" y1="613.60" x2="371.32" y2="615.60" stroke="#000" stroke-width="0.8"/>
<line x1="335.00" y1="580.11" x2="337.00" y2="580.11" stroke="#000" stroke-width="0.8"/>
<line x1="372.61" y1="613.60" x2="372.61" y2="615.60" stroke="#000" stroke-width="0.8"/>
<line x1="335.00" y1="579.06" x2="337.00" y2="579.06" stroke="#000" stroke-width="0.8"/>
<line x1="373.73" y1="613.60" x2="373.73" y2="615.60" stroke="#000" stroke-width="0.8"/>
<line x1="335.00" y1="578.13" x2="337.00" y2="578.13" stroke="#000" stroke-width="0.8"/>
<line x1="374.72" y1="613.60" x2="374.72" y2="615.60" stroke="#000" stroke-width="0.8"/>
<line x1="335.00" y1="571.84" x2="337.00" y2="571.84" stroke="#000" stroke-width="0.8"/>
<line x1="381.41" y1="613.60" x2="381.41" y2="615.60" stroke="#000" stroke-width="0.8"/>
<line x1="335.00" y1="568.64" x2="337.00" y2="568.64" stroke="#000" stroke-width="0.8"/>
<line x1="384.81" y1="613.60" x2="384.81" y2="615.60" stroke="#000" stroke-width="0.8"/>
<line x1="335.00" y1="566.37" x2="337.00" y2="566.37" stroke="#000" stroke-width="0.8"/>
<line x1="387.22" y1="613.60" x2="387.22" y2="615.60" stroke="#000" stroke-width="0.8"/>
<line x1="335.00" y1="564.61" x2="337.00" y2="564.61" stroke="#000" stroke-width="0.8"/>
<line x1="389.09" y1="613.60" x2="389.09" y2="615.60" stroke="#000" stroke-width="0.8"/>
<line x1="335.00" y1="563.18" x2="337.00" y2="563.18" stroke="#000" stroke-width="0.8"/>
<line x1="390.62" y1="613.60" x2="390.62" y2="615.60" stroke="#000" stroke-width="0.8"/>
<line x1="335.00" y1="561.96" x2="337.00" y2="561.96" stroke="#000" stroke-width="0.8"/>
<line x1="391.91" y1="613.60" x2="391.91" y2="615.60" stroke="#000" stroke-width="0.8"/>
<line x1="335.00" y1="560.91" x2="337.00" y2="560.91" stroke="#000" stroke-width="0.8"/>
<line x1="393.03" y1="613.60" x2="393.03" y2="615.60" stroke="#000" stroke-width="0.8"/>
<line x1="335.00" y1="559.98" x2="337.00" y2="559.98" stroke="#000" stroke-width="0.8"/>
<line x1="394.02" y1="613.60" x2="394.02" y2="615.60" stroke="#000" stroke-width="0.8"/>
<line x1="335.00" y1="553.69" x2="337.00" y2="553.69" stroke="#000" stroke-width="0.8"/>
<line x1="400.71" y1="613.60" x2="400.71" y2="615.60" stroke="#000" stroke-width="0.8"/>
<line x1="335.00" y1="550.49" x2="337.00" y2="550.49" stroke="#000" stroke-width="0.8"/>
<line x1="404.11" y1="613.60" x2="404.11" y2="615.60" stroke="#000" stroke-width="0.8"/>
<line x1="335.00" y1="548.22" x2="337.00" y2="548.22" stroke="#000" stroke-width="0.8"/>
<line x1="406.52" y1="613.60" x2="406.52" y2="615.60" stroke="#000" stroke-width="0.8"/>
<line x1="335.00" y1="546.46" x2="337.00" y2="546.46" stroke="#000" stroke-width="0.8"/>
<line x1="408.39" y1="613.60" x2="408.39" y2="615.60" stroke="#000" stroke-width="0.8"/>
<line x1="335.00" y1="545.03" x2="337.00" y2="545.03" stroke="#000" stroke-width="0.8"/>
<line x1="409.92" y1="613.60" x2="409.92" y2="615.60" stroke="#000" stroke-width="0.8"/>
<line x1="335.00" y1="543.81" x2="337.00" y2="543.81" stroke="#000" stroke-width="0.8"/>
<line x1="411.21" y1="613.60" x2="411.21" y2="615.60" stroke="#000" stroke-width="0.8"/>
<line x1="335.00" y1="542.76" x2="337.00" y2="542.76" stroke="#000" stroke-width="0.8"/>
<line x1="412.33" y1="613.60" x2="412.33" y2="615.60" stroke="#000" stroke-width="0.8"/>
<line x1="335.00" y1="541.83" x2="337.00" y2="541.83" stroke="#000" stroke-width="0.8"/>
<line x1="413.32" y1="613.60" x2="413.32" y2="615.60" stroke="#000" stroke-width="0.8"/>
<line x1="334.00" y1="613.60" x2="337.00" y2="613.60" stroke="#000" stroke-width="1.2"/>
<line x1="337.00" y1="613.60" x2="337.00" y2="616.60" stroke="#000" stroke-width="1.2"/>
<text x="329.80" y="614.00" font-size="3.2" font-weight="bold" fill="#2a2a2a">10</text>
<text x="333.30" y="612.40" font-size="2.4" font-weight="bold" fill="#2a2a2a">0</text>
<text x="334.80" y="619.80" font-size="3.2" font-weight="bold" fill="#2a2a2a">10</text>
<text x="338.40" y="618.20" font-size="2.4" font-weight="bold" fill="#2a2a2a">0</text>
<line x1="334.00" y1="595.45" x2="337.00" y2="595.45" stroke="#000" stroke-width="1.2"/>
<line x1="356.30" y1="613.60" x2="356.30" y2="616.60" stroke="#000" stroke-width="1.2"/>
<text x="329.80" y="595.85" font-size="3.2" font-weight="bold" fill="#2a2a2a">10</text>
<text x="333.30" y="594.25" font-size="2.4" font-weight="bold" fill="#2a2a2a">1</text>
<text x="354.10" y="619.80" font-size="3.2" font-weight="bold" fill="#2a2a2a">10</text>
<text x="357.70" y="618.20" font-size="2.4" font-weight="bold" fill="#2a2a2a">1</text>
<line x1="334.00" y1="577.30" x2="337.00" y2="577.30" stroke="#000" stroke-width="1.2"/>
<line x1="375.60" y1="613.60" x2="375.60" y2="616.60" stroke="#000" stroke-width="1.2"/>
<text x="329.80" y="577.70" font-size="3.2" font-weight="bold" fill="#2a2a2a">10</text>
<text x="333.30" y="576.10" font-size="2.4" font-weight="bold" fill="#2a2a2a">2</text>
<text x="373.40" y="619.80" font-size="3.2" font-weight="bold" fill="#2a2a2a">10</text>
<text x="377.00" y="618.20" font-size="2.4" font-weight="bold" fill="#2a2a2a">2</text>
<line x1="334.00" y1="559.15" x2="337.00" y2="559.15" stroke="#000" stroke-width="1.2"/>
<line x1="394.90" y1="613.60" x2="394.90" y2="616.60" stroke="#000" stroke-width="1.2"/>
<text x="329.80" y="559.55" font-size="3.2" font-weight="bold" fill="#2a2a2a">10</text>
<text x="333.30" y="557.95" font-size="2.4" font-weight="bold" fill="#2a2a2a">3</text>
<text x="392.70" y="619.80" font-size="3.2" font-weight="bold" fill="#2a2a2a">10</text>
<text x="396.30" y="618.20" font-size="2.4" font-weight="bold" fill="#2a2a2a">3</text>
<line x1="334.00" y1="541.00" x2="337.00" y2="541.00" stroke="#000" stroke-width="1.2"/>
<line x1="414.20" y1="613.60" x2="414.20" y2="616.60" stroke="#000" stroke-width="1.2"/>
<text x="329.80" y="541.40" font-size="3.2" font-weight="bold" fill="#2a2a2a">10</text>
<text x="333.30" y="539.80" font-size="2.4" font-weight="bold" fill="#2a2a2a">4</text>
<text x="412.00" y="619.80" font-size="3.2" font-weight="bold" fill="#2a2a2a">10</text>
<text x="415.60" y="618.20" font-size="2.4" font-weight="bold" fill="#2a2a2a">4</text>
<text x="375.60" y="623.40" font-size="2.5" text-anchor="middle" fill="#2a2a2a">FL4-H</text>
<text x="328.20" y="577.30" font-size="2.5" text-anchor="middle" fill="#2a2a2a" transform="rotate(-90 328.20 577.30)">FL2-H</text>
<text x="339.00" y="547.28" font-size="5.8" fill="#4a4a4a">6.37e-3</text>
<text x="412.80" y="547.28" font-size="5.8" text-anchor="end" fill="#4a4a4a">0.017</text>
<text x="338.80" y="612.56" font-size="6.6" fill="#222">52.4</text>
<text x="413.00" y="612.56" font-size="6.6" text-anchor="end" fill="#222">47.5</text>
<clipPath id="clipF4"><rect x="427.3" y="541.0" width="77.0" height="72.60000000000002"/></clipPath>
<g clip-path="url(#clipF4)">
<path d="M424.3 594.5 L498.0 592.3 L487.0 616.6 L424.3 616.6 Z" fill="#a6a6a6" filter="url(#blF)"/>
<ellipse cx="470.0" cy="607.6" rx="14" ry="5.5" fill="#b8b8b8" filter="url(#blF2)"/>
<ellipse cx="438.3" cy="611.6" rx="15" ry="4.2" fill="#e4e4e4" fill-opacity="0.7" filter="url(#blF2)"/>
<path d="M431.4 612.7h0.7M446.1 612.0h0.7M473.5 610.4h0.7M443.9 609.7h0.7M447.6 611.7h0.7M489.1 597.2h0.7M445.7 603.7h0.7M466.2 609.4h0.7M433.3 605.9h0.7M455.0 596.6h0.7M481.5 600.7h0.7M479.2 597.6h0.7M469.4 609.0h0.7M475.4 609.7h0.7M437.1 601.7h0.7M431.4 593.9h0.7M435.7 612.1h0.7M488.2 611.2h0.7M439.4 612.2h0.7M474.1 608.6h0.7M432.6 613.4h0.7M487.5 599.3h0.7M479.4 596.4h0.7M484.4 610.3h0.7M471.2 599.1h0.7M487.2 605.7h0.7M494.8 595.7h0.7M433.5 596.8h0.7M430.5 613.0h0.7M477.6 611.1h0.7M466.9 597.3h0.7M443.9 606.8h0.7M473.1 607.9h0.7M471.9 604.3h0.7M450.4 603.8h0.7M430.8 607.3h0.7M494.1 594.4h0.7M464.0 612.9h0.7M433.8 605.9h0.7M481.3 603.3h0.7M486.7 599.4h0.7M452.6 599.3h0.7M481.1 606.1h0.7M431.9 597.7h0.7M474.7 607.7h0.7M493.4 595.6h0.7M478.0 601.5h0.7M445.5 599.5h0.7M454.0 593.9h0.7M472.7 607.6h0.7M456.9 611.4h0.7M480.3 598.6h0.7M456.6 606.8h0.7M474.9 596.1h0.7M432.0 610.7h0.7M449.9 603.9h0.7M429.9 607.3h0.7M450.4 599.9h0.7M439.3 604.3h0.7M460.2 605.1h0.7M449.7 606.1h0.7M431.3 609.5h0.7M438.1 602.4h0.7M455.1 602.4h0.7M468.0 602.3h0.7M445.3 594.7h0.7M454.5 601.2h0.7M455.0 607.3h0.7M460.0 601.3h0.7M461.0 610.0h0.7M490.0 599.3h0.7M438.6 602.1h0.7M458.9 599.6h0.7M482.1 601.9h0.7M463.2 596.6h0.7M449.9 605.2h0.7M452.8 596.7h0.7M440.6 602.8h0.7M472.7 608.9h0.7M484.5 611.6h0.7M476.6 606.9h0.7M430.7 601.4h0.7M480.5 597.9h0.7M477.9 599.4h0.7M452.9 599.2h0.7M446.6 607.0h0.7M436.7 596.7h0.7M480.8 602.9h0.7M445.6 608.8h0.7M464.1 607.7h0.7M474.9 596.0h0.7M489.3 605.2h0.7M479.6 612.3h0.7M432.7 610.8h0.7M486.0 598.6h0.7M429.8 613.3h0.7M447.4 612.3h0.7M487.1 611.0h0.7M463.3 596.3h0.7M427.9 602.5h0.7M479.3 606.9h0.7M437.4 610.3h0.7M486.0 602.0h0.7M469.3 600.9h0.7M468.6 607.7h0.7M430.5 599.3h0.7M436.1 599.4h0.7M482.6 610.6h0.7M451.0 595.0h0.7M429.3 595.6h0.7M462.6 601.1h0.7M484.4 607.3h0.7M466.7 598.3h0.7M431.1 612.8h0.7M485.7 605.7h0.7M456.4 595.4h0.7M465.2 598.5h0.7M454.8 610.8h0.7M492.7 596.1h0.7M463.9 594.4h0.7M482.6 598.8h0.7M491.5 594.4h0.7M467.5 597.9h0.7M484.8 603.5h0.7M441.5 610.2h0.7M440.3 602.9h0.7M477.4 604.8h0.7M473.1 596.2h0.7M491.9 600.7h0.7M451.6 606.7h0.7M439.5 603.4h0.7M455.6 612.4h0.7M487.6 602.1h0.7M464.3 612.1h0.7M448.5 598.0h0.7M461.2 607.3h0.7M476.8 609.1h0.7M434.4 612.9h0.7M474.8 597.3h0.7M456.8 606.1h0.7M486.7 612.2h0.7M481.7 603.7h0.7M479.3 613.3h0.7M430.5 611.7h0.7M463.5 599.7h0.7M431.0 603.5h0.7M451.3 600.3h0.7M438.9 609.8h0.7M460.5 595.0h0.7M441.8 607.5h0.7M448.7 594.0h0.7M478.2 595.0h0.7M479.7 609.2h0.7M478.4 598.1h0.7M476.8 605.1h0.7M451.4 611.9h0.7M429.9 597.4h0.7M431.4 601.7h0.7M466.5 609.2h0.7M461.9 606.2h0.7M458.8 597.7h0.7M485.6 604.2h0.7M452.6 610.4h0.7M442.5 604.3h0.7M427.4 607.7h0.7M463.4 601.1h0.7M439.2 604.1h0.7M444.1 600.9h0.7M490.9 599.3h0.7M472.8 595.4h0.7M464.5 611.4h0.7M434.5 600.7h0.7M456.8 598.0h0.7M434.1 605.6h0.7M464.4 608.5h0.7M433.0 607.6h0.7M485.0 603.3h0.7M454.8 613.4h0.7M447.0 596.9h0.7M444.4 608.5h0.7M441.4 596.3h0.7M440.4 603.8h0.7M468.1 594.0h0.7M438.7 595.1h0.7M464.3 611.7h0.7M486.6 608.5h0.7M477.3 594.6h0.7M463.9 595.6h0.7M456.4 596.0h0.7M450.7 610.5h0.7M444.4 603.3h0.7M455.6 610.3h0.7M464.5 609.0h0.7M447.0 596.5h0.7M445.7 608.1h0.7M457.4 599.7h0.7M457.9 606.4h0.7M450.8 596.9h0.7M464.5 600.4h0.7M477.5 609.7h0.7M474.7 595.4h0.7M476.5 596.9h0.7M462.7 599.5h0.7M483.6 598.0h0.7M432.9 610.3h0.7M466.5 611.2h0.7M483.7 610.2h0.7M477.0 602.5h0.7M436.9 605.1h0.7M471.9 606.5h0.7M480.6 606.0h0.7M454.5 612.1h0.7M444.3 606.7h0.7M457.3 594.5h0.7M483.1 608.7h0.7M442.5 604.9h0.7M480.5 609.4h0.7M477.9 600.5h0.7M464.5 598.0h0.7M462.3 603.9h0.7M491.3 598.4h0.7M436.3 605.5h0.7M431.7 604.6h0.7M462.6 607.5h0.7M433.0 594.4h0.7M444.6 609.4h0.7M436.3 596.3h0.7M491.4 603.3h0.7M461.6 602.1h0.7M444.8 613.2h0.7M449.4 609.6h0.7M439.8 611.9h0.7M452.3 599.2h0.7M439.6 603.8h0.7M484.2 611.1h0.7M465.2 610.8h0.7M434.5 605.6h0.7M484.9 603.8h0.7M457.8 598.9h0.7M429.5 604.3h0.7M478.6 610.9h0.7M472.1 608.1h0.7M461.3 610.1h0.7M455.4 605.8h0.7M476.7 595.8h0.7M493.3 597.6h0.7M461.2 602.2h0.7M488.0 611.4h0.7M464.4 603.3h0.7M443.5 612.4h0.7M475.6 603.3h0.7M480.5 608.3h0.7M435.8 607.5h0.7M441.8 594.1h0.7M435.2 602.4h0.7M429.8 605.2h0.7M450.1 613.3h0.7M460.6 610.0h0.7M466.5 598.6h0.7M460.8 599.7h0.7M483.3 603.5h0.7M439.3 601.0h0.7M492.0 601.1h0.7M478.6 605.1h0.7M430.8 594.8h0.7M431.2 602.3h0.7M434.7 595.3h0.7M468.9 594.2h0.7M465.5 610.7h0.7M444.6 595.1h0.7M473.0 606.8h0.7M450.3 609.1h0.7M480.7 595.5h0.7M476.8 595.4h0.7M443.2 594.5h0.7M432.0 611.1h0.7M468.8 603.3h0.7M433.0 596.8h0.7M465.8 613.2h0.7M472.6 606.0h0.7M437.4 611.3h0.7M479.4 595.8h0.7M454.5 605.4h0.7M469.9 608.8h0.7M462.3 602.7h0.7M475.6 603.7h0.7M460.7 594.9h0.7M462.6 598.1h0.7M459.2 599.0h0.7M438.0 602.6h0.7M470.0 594.2h0.7M428.9 595.6h0.7M455.6 605.5h0.7M480.0 613.3h0.7M485.3 599.0h0.7M484.5 604.3h0.7M477.5 603.7h0.7M454.6 604.0h0.7M473.0 594.7h0.7M437.9 594.2h0.7M470.0 602.6h0.7M449.6 596.3h0.7M486.5 600.2h0.7M436.4 596.8h0.7M438.3 609.5h0.7M471.0 599.7h0.7M465.2 606.7h0.7M469.4 605.6h0.7M467.5 607.7h0.7M430.4 599.3h0.7M467.8 597.1h0.7M457.0 611.0h0.7M440.6 603.6h0.7M483.2 608.0h0.7M477.0 602.6h0.7M471.6 594.4h0.7M455.3 596.3h0.7M438.1 596.8h0.7M427.3 594.5h0.7M486.2 608.0h0.7M459.1 612.8h0.7M460.1 601.8h0.7M447.3 613.0h0.7M455.6 596.1h0.7M469.7 600.8h0.7M457.2 605.7h0.7M482.8 606.6h0.7M440.3 594.5h0.7M435.6 611.5h0.7M485.0 613.5h0.7M440.7 599.7h0.7M448.2 599.7h0.7M477.3 606.3h0.7M429.2 602.1h0.7M462.5 604.2h0.7M449.1 610.9h0.7M463.0 596.2h0.7M462.1 600.4h0.7M470.9 610.9h0.7M481.5 612.3h0.7M447.1 600.0h0.7M429.0 595.4h0.7M467.2 609.3h0.7M457.6 598.2h0.7M441.6 598.3h0.7M476.0 602.0h0.7M477.0 595.5h0.7M443.2 600.5h0.7M453.4 607.2h0.7M477.8 596.5h0.7M428.5 601.0h0.7M483.0 597.0h0.7M471.7 596.0h0.7M448.1 599.3h0.7M486.8 601.2h0.7M458.9 594.4h0.7M443.4 606.5h0.7M482.3 606.6h0.7M489.3 599.6h0.7M437.2 602.4h0.7M491.3 599.3h0.7M438.7 595.9h0.7M473.8 612.7h0.7M460.6 612.3h0.7M486.3 603.0h0.7M434.2 603.9h0.7M458.1 612.8h0.7M485.8 606.0h0.7M454.7 610.8h0.7M438.9 604.9h0.7M460.0 604.9h0.7M430.3 606.2h0.7M439.3 610.4h0.7M485.0 596.3h0.7M483.8 608.0h0.7M481.8 608.0h0.7M431.4 613.6h0.7M471.5 600.8h0.7M458.0 607.5h0.7M472.5 601.2h0.7M450.3 605.6h0.7M447.3 594.1h0.7M474.0 597.6h0.7M470.1 603.5h0.7M461.9 597.1h0.7M447.3 612.5h0.7M457.1 608.2h0.7M487.6 610.9h0.7M484.8 608.8h0.7M434.0 611.6h0.7M480.6 606.8h0.7M472.6 595.5h0.7M471.6 595.3h0.7M449.0 608.7h0.7M490.9 599.6h0.7M465.6 608.0h0.7M484.4 602.5h0.7M432.9 610.7h0.7M461.5 600.6h0.7M443.6 595.7h0.7M455.2 610.4h0.7M449.8 599.8h0.7M465.0 601.7h0.7M436.3 609.2h0.7M457.5 598.8h0.7M449.1 612.4h0.7M473.6 594.5h0.7M444.1 608.9h0.7M450.6 610.7h0.7M444.9 606.2h0.7M490.9 597.7h0.7M433.8 596.0h0.7M440.0 609.1h0.7M486.6 608.3h0.7M452.7 609.3h0.7M478.1 613.2h0.7M432.7 605.8h0.7M436.9 612.6h0.7M468.1 613.3h0.7M438.5 605.5h0.7M443.7 609.1h0.7M452.0 597.1h0.7M469.5 613.6h0.7M438.5 603.7h0.7M431.7 603.8h0.7M453.8 607.4h0.7M473.0 610.8h0.7M482.0 599.4h0.7M465.7 608.7h0.7M449.1 610.3h0.7M490.0 601.7h0.7M448.5 602.6h0.7M479.3 611.3h0.7M478.8 600.5h0.7M472.0 609.8h0.7M463.2 611.4h0.7M441.5 601.1h0.7M465.7 600.1h0.7M427.9 597.6h0.7M491.6 597.9h0.7M462.8 610.9h0.7M459.7 599.4h0.7M491.6 599.2h0.7M485.2 606.7h0.7M447.3 599.5h0.7M490.6 599.5h0.7M438.7 613.4h0.7M456.4 608.9h0.7M453.4 609.4h0.7M465.1 601.3h0.7M471.5 600.8h0.7M454.7 610.0h0.7M472.2 604.3h0.7M469.4 598.0h0.7M461.2 600.3h0.7M429.1 608.2h0.7M445.1 601.5h0.7M452.9 609.9h0.7M475.7 598.3h0.7M451.8 593.9h0.7M444.5 596.7h0.7M430.1 596.0h0.7M475.3 597.6h0.7M452.3 613.2h0.7M462.9 606.7h0.7M486.8 602.4h0.7M471.8 596.7h0.7M443.9 609.9h0.7M446.2 606.5h0.7M469.5 599.1h0.7M483.4 603.3h0.7M439.6 610.6h0.7M455.5 612.8h0.7M441.3 612.6h0.7M435.3 605.4h0.7M474.2 604.3h0.7M454.6 602.2h0.7M455.1 594.1h0.7M484.4 599.7h0.7M428.3 610.2h0.7M442.8 601.0h0.7M431.0 606.8h0.7M428.6 613.2h0.7M463.2 609.5h0.7M449.2 600.1h0.7M473.3 598.6h0.7M440.3 612.1h0.7M436.1 598.1h0.7M477.0 608.0h0.7M430.8 606.5h0.7M464.6 605.0h0.7M430.8 600.0h0.7M487.7 609.1h0.7M431.1 602.0h0.7M491.1 597.2h0.7M464.9 601.9h0.7M477.4 594.8h0.7M484.4 597.6h0.7M458.0 598.6h0.7M458.3 597.0h0.7M449.9 604.5h0.7M468.9 596.8h0.7M429.4 595.7h0.7M473.6 595.3h0.7M476.9 611.3h0.7M474.1 595.5h0.7M469.2 612.8h0.7M449.1 612.2h0.7M473.5 604.0h0.7M453.4 611.3h0.7M470.8 594.3h0.7M444.3 608.8h0.7M445.2 604.4h0.7M471.4 606.0h0.7M438.9 613.6h0.7M483.8 597.1h0.7M482.8 600.0h0.7M464.7 607.4h0.7M444.9 597.5h0.7M450.6 612.0h0.7M437.4 597.1h0.7M477.8 601.6h0.7M435.3 611.0h0.7M432.2 609.4h0.7M456.7 610.0h0.7M441.3 601.3h0.7M441.2 604.7h0.7M454.4 597.3h0.7M450.0 604.5h0.7M445.3 604.8h0.7M466.2 600.2h0.7M434.6 596.8h0.7M433.4 595.7h0.7M460.6 601.0h0.7M491.5 604.5h0.7M440.6 613.3h0.7M442.8 597.8h0.7M442.6 594.3h0.7M433.0 599.8h0.7M433.9 603.1h0.7M448.9 605.3h0.7M446.7 600.6h0.7M467.1 611.9h0.7M438.4 598.1h0.7M488.9 599.1h0.7M465.8 599.0h0.7M481.7 613.0h0.7M435.9 603.3h0.7M482.6 600.8h0.7M454.9 594.9h0.7M449.7 601.5h0.7M486.8 609.7h0.7M457.1 610.4h0.7M447.2 612.6h0.7M454.4 597.8h0.7M467.3 594.7h0.7M443.7 597.4h0.7M461.3 595.3h0.7M449.5 610.9h0.7M435.9 599.6h0.7M429.2 610.4h0.7M483.1 599.6h0.7M488.1 595.9h0.7M446.6 599.2h0.7M479.0 606.0h0.7M454.9 613.1h0.7M451.0 606.4h0.7M446.7 609.7h0.7M449.6 604.0h0.7M451.3 612.1h0.7M435.3 610.8h0.7M483.0 613.4h0.7M456.0 610.5h0.7M440.4 607.7h0.7M455.2 610.3h0.7M459.6 611.5h0.7M478.1 607.2h0.7M438.3 595.5h0.7M461.1 602.5h0.7M479.1 613.0h0.7M482.4 607.5h0.7M437.5 601.8h0.7M452.0 611.4h0.7M474.8 601.0h0.7M450.2 601.6h0.7M472.0 604.5h0.7M445.1 607.2h0.7M449.2 605.1h0.7M432.4 600.5h0.7M470.8 605.0h0.7M447.2 600.8h0.7M433.2 607.1h0.7M445.1 604.9h0.7M439.5 596.0h0.7M452.6 606.3h0.7" stroke="#555" stroke-width="0.7" fill="none" stroke-opacity="0.5"/>
<path d="M492.8 596.4h0.7M470.7 595.7h0.7M432.4 598.0h0.7M465.8 598.7h0.7M438.7 596.1h0.7M456.4 597.7h0.7M438.8 595.5h0.7M491.3 595.6h0.7M481.2 598.5h0.7M467.1 596.8h0.7M448.0 597.7h0.7M434.5 595.7h0.7M476.8 596.8h0.7M444.1 596.7h0.7M490.6 597.4h0.7M488.5 595.1h0.7M438.6 595.7h0.7M496.8 598.2h0.7M494.8 597.5h0.7M432.8 597.2h0.7M462.9 595.6h0.7M447.6 596.6h0.7M471.2 602.0h0.7M485.9 596.1h0.7M445.8 595.3h0.7M432.2 595.1h0.7M452.8 596.1h0.7M441.1 595.4h0.7M476.7 596.5h0.7M447.9 596.3h0.7M469.0 597.6h0.7M435.0 595.2h0.7M446.1 596.5h0.7M480.8 596.0h0.7M485.2 597.9h0.7M465.8 595.0h0.7M467.5 595.0h0.7M431.2 598.3h0.7M468.5 596.1h0.7M468.0 597.1h0.7M442.7 596.1h0.7M477.8 595.0h0.7M436.1 595.3h0.7M464.4 595.0h0.7M433.8 595.8h0.7M486.3 595.6h0.7M455.4 600.4h0.7M494.4 599.2h0.7M458.6 597.4h0.7M481.3 595.2h0.7M462.3 598.0h0.7M430.7 597.8h0.7M449.5 597.7h0.7M468.2 595.3h0.7M482.6 596.9h0.7M431.8 595.7h0.7M462.8 595.2h0.7M481.3 596.2h0.7M442.4 597.2h0.7M451.4 596.0h0.7M447.3 595.9h0.7M478.9 596.2h0.7M447.3 598.7h0.7M490.6 595.4h0.7M485.3 595.4h0.7M465.5 595.6h0.7M495.4 597.5h0.7M449.5 596.5h0.7M428.2 598.3h0.7M474.7 595.3h0.7M484.0 595.1h0.7M492.9 595.4h0.7M439.1 597.7h0.7M429.7 595.8h0.7M468.5 596.3h0.7M455.0 597.1h0.7M443.4 598.2h0.7M473.9 598.2h0.7M463.8 597.7h0.7M470.0 595.7h0.7M491.6 598.4h0.7M487.2 597.9h0.7M439.6 598.2h0.7M431.8 597.4h0.7M472.4 599.4h0.7M428.0 595.2h0.7M441.9 596.8h0.7M491.2 595.5h0.7M454.5 598.4h0.7M478.3 598.7h0.7M473.2 596.4h0.7M435.1 595.5h0.7M479.2 596.7h0.7M479.8 596.2h0.7M428.3 595.8h0.7M494.0 595.8h0.7M434.5 595.4h0.7M460.4 595.4h0.7M460.9 599.9h0.7M460.1 597.1h0.7M496.5 596.3h0.7M439.4 596.1h0.7M483.6 595.8h0.7M488.6 598.0h0.7M437.4 597.6h0.7M427.5 598.9h0.7M445.3 595.9h0.7M430.4 597.5h0.7M432.0 595.1h0.7M485.0 597.4h0.7M429.1 597.8h0.7M445.8 595.6h0.7M432.7 598.4h0.7M437.2 599.0h0.7M465.1 595.3h0.7M490.6 598.1h0.7M488.0 595.8h0.7M435.2 596.3h0.7M485.3 595.5h0.7M487.8 596.8h0.7M444.7 596.1h0.7M441.8 595.4h0.7M452.8 596.5h0.7M481.6 596.9h0.7M496.4 597.1h0.7M464.9 596.4h0.7M455.5 595.6h0.7M452.5 595.8h0.7M458.6 595.6h0.7M444.3 595.6h0.7M476.4 598.6h0.7M467.9 596.7h0.7M451.6 597.5h0.7M476.4 597.1h0.7M481.7 595.7h0.7M440.3 598.4h0.7M454.5 600.1h0.7M470.8 595.4h0.7M479.3 595.2h0.7M431.9 594.9h0.7M434.7 596.7h0.7M481.5 595.8h0.7M480.2 595.3h0.7M442.0 597.4h0.7M454.4 595.2h0.7M474.8 597.2h0.7M462.8 596.1h0.7M481.8 595.1h0.7M441.7 596.2h0.7M456.6 596.1h0.7M450.2 596.6h0.7M485.7 597.1h0.7M450.3 595.5h0.7M478.0 595.3h0.7M457.7 595.0h0.7M439.9 597.6h0.7M471.0 598.7h0.7M438.4 596.4h0.7M435.5 595.2h0.7M487.2 595.4h0.7M489.8 600.4h0.7M451.6 596.9h0.7M452.7 597.2h0.7M469.4 596.0h0.7M470.4 597.5h0.7M468.1 597.1h0.7M445.9 596.1h0.7M482.3 595.4h0.7M448.3 598.2h0.7M488.1 597.1h0.7M493.0 597.9h0.7M446.2 596.5h0.7M469.5 595.3h0.7M476.5 595.4h0.7M443.2 596.7h0.7M494.6 596.4h0.7M458.4 599.0h0.7M463.0 596.9h0.7M451.7 595.3h0.7M455.0 596.1h0.7M433.4 596.5h0.7M492.7 597.6h0.7M488.5 595.4h0.7M480.9 595.4h0.7M496.9 596.5h0.7M487.8 595.1h0.7M470.3 595.9h0.7M429.0 595.9h0.7M494.2 596.9h0.7M481.6 598.2h0.7M464.3 597.8h0.7M462.3 598.4h0.7M471.2 597.3h0.7M478.0 597.4h0.7M465.5 595.7h0.7M451.9 596.2h0.7M432.8 597.8h0.7M455.0 597.6h0.7M433.9 596.6h0.7M453.8 598.6h0.7M488.2 597.3h0.7M483.1 596.9h0.7M462.7 595.2h0.7M475.5 595.2h0.7M457.1 595.6h0.7M466.4 596.5h0.7M489.2 598.1h0.7M493.9 595.7h0.7M446.8 596.7h0.7M480.8 598.6h0.7M453.9 595.7h0.7M458.9 595.2h0.7M455.2 597.9h0.7M438.6 600.6h0.7M443.1 596.1h0.7M488.4 596.7h0.7M467.4 595.5h0.7M438.3 597.8h0.7M496.0 599.5h0.7M481.5 596.8h0.7M480.5 596.7h0.7M465.2 597.9h0.7M469.1 595.9h0.7M437.4 597.6h0.7M439.9 596.2h0.7M473.6 596.4h0.7M473.9 597.2h0.7M454.9 597.5h0.7M484.1 596.2h0.7M443.0 596.4h0.7M438.3 594.9h0.7M431.5 598.1h0.7M492.4 598.7h0.7M464.2 596.9h0.7M467.5 596.4h0.7M472.8 596.7h0.7M435.6 597.5h0.7M488.6 597.1h0.7M495.4 595.3h0.7M443.9 598.0h0.7M443.7 594.9h0.7M486.7 600.0h0.7M462.7 597.2h0.7M440.8 595.0h0.7M495.0 595.9h0.7M485.7 597.5h0.7M453.3 597.5h0.7M471.2 595.5h0.7M478.1 595.8h0.7M452.3 595.7h0.7M468.1 595.9h0.7M453.7 596.7h0.7M486.1 598.7h0.7M443.2 597.2h0.7M458.7 595.1h0.7M431.2 595.9h0.7M469.0 598.6h0.7M431.4 595.5h0.7M451.1 598.5h0.7M480.2 595.0h0.7M465.2 596.5h0.7M451.2 596.5h0.7M461.4 595.9h0.7M435.4 597.8h0.7M444.9 599.2h0.7M491.3 599.2h0.7M437.2 595.2h0.7M482.0 597.0h0.7M478.9 596.3h0.7M471.6 597.8h0.7M481.5 598.8h0.7M436.6 595.9h0.7M452.3 595.5h0.7M451.2 596.8h0.7M442.8 595.9h0.7M443.6 597.6h0.7M448.6 596.4h0.7M494.4 595.2h0.7M454.0 595.8h0.7M482.5 595.0h0.7M479.5 596.4h0.7M479.0 595.7h0.7M461.5 599.6h0.7M462.7 599.6h0.7M440.0 595.8h0.7M489.0 595.6h0.7M453.4 595.5h0.7M477.0 596.1h0.7M487.9 595.6h0.7M467.1 596.4h0.7M452.7 598.6h0.7M488.2 595.3h0.7M434.1 596.7h0.7M480.0 596.1h0.7M447.5 594.9h0.7M476.2 595.4h0.7M442.5 597.7h0.7M489.2 595.2h0.7M460.3 598.7h0.7M435.3 596.2h0.7" stroke="#3a3a3a" stroke-width="0.7" fill="none" stroke-opacity="0.55"/>
<path d="M438.5 599.1h0.7M482.9 612.2h0.7M480.7 606.6h0.7M460.8 600.3h0.7M469.8 609.4h0.7M444.8 602.2h0.7M445.1 599.0h0.7M462.9 606.7h0.7M455.9 610.5h0.7M435.5 609.1h0.7M484.0 610.5h0.7M473.6 609.1h0.7M439.8 603.9h0.7M487.6 601.3h0.7M464.3 603.2h0.7M457.7 611.0h0.7M483.2 598.3h0.7M434.0 599.1h0.7M433.2 612.3h0.7M490.5 598.1h0.7M435.2 606.6h0.7M456.3 612.0h0.7M490.5 606.1h0.7M447.7 609.6h0.7M487.3 598.4h0.7M437.8 609.5h0.7M484.5 607.6h0.7M427.4 607.8h0.7M460.0 602.2h0.7M487.8 607.5h0.7M477.7 609.9h0.7M471.4 611.2h0.7M458.1 599.1h0.7M477.4 611.8h0.7M473.6 609.1h0.7M437.7 606.5h0.7M473.7 609.5h0.7M479.8 609.6h0.7M471.0 606.6h0.7M442.6 611.4h0.7M452.6 611.6h0.7M441.0 610.6h0.7M451.4 601.4h0.7M453.6 604.0h0.7M479.3 612.4h0.7M475.7 606.8h0.7M438.7 600.6h0.7M479.6 610.6h0.7M472.6 600.7h0.7M448.8 613.0h0.7M465.0 608.3h0.7M434.3 612.8h0.7M438.0 602.8h0.7M444.4 611.8h0.7M477.4 602.7h0.7M439.2 599.1h0.7M445.2 609.7h0.7M460.6 612.5h0.7M454.2 612.4h0.7M440.8 600.0h0.7M461.2 606.6h0.7M491.9 608.4h0.7M460.1 602.8h0.7M483.1 609.4h0.7M481.6 603.8h0.7M437.2 611.5h0.7M459.4 606.7h0.7M455.6 604.6h0.7M480.1 605.8h0.7M472.7 604.4h0.7M468.1 605.5h0.7M485.3 608.9h0.7M434.4 603.1h0.7M435.0 598.3h0.7M458.7 608.6h0.7M469.7 605.0h0.7M470.4 611.5h0.7M483.0 598.3h0.7M438.7 609.9h0.7M434.1 602.6h0.7M449.9 610.7h0.7M472.2 603.0h0.7M446.7 599.8h0.7M474.2 608.1h0.7M462.6 601.2h0.7M446.0 610.4h0.7M463.5 606.6h0.7M457.3 611.3h0.7M482.0 608.5h0.7M479.2 605.0h0.7M442.3 607.4h0.7M441.4 598.8h0.7M482.0 599.5h0.7M482.2 601.8h0.7M483.1 606.0h0.7M451.4 612.0h0.7M435.5 598.0h0.7M462.6 602.0h0.7M488.9 599.3h0.7M465.2 610.8h0.7M471.6 611.8h0.7M429.2 606.6h0.7M453.8 601.3h0.7M438.7 610.9h0.7M432.6 603.1h0.7M441.5 607.6h0.7M445.9 610.4h0.7M459.7 603.2h0.7M466.9 601.3h0.7M462.3 599.0h0.7M450.4 612.3h0.7M437.2 598.5h0.7M459.4 610.8h0.7M485.4 612.6h0.7M485.4 604.4h0.7M486.5 600.0h0.7M485.0 608.7h0.7M464.4 601.0h0.7M460.8 604.8h0.7M441.6 603.1h0.7M475.5 609.3h0.7M464.9 609.6h0.7M453.3 607.6h0.7M431.2 605.9h0.7M439.0 609.5h0.7M471.8 600.7h0.7M460.7 601.1h0.7M477.5 600.6h0.7M434.8 600.9h0.7M471.1 605.0h0.7M484.2 600.1h0.7M429.3 612.4h0.7M490.5 599.0h0.7M431.2 612.5h0.7M474.4 610.4h0.7M461.8 606.6h0.7M447.4 606.2h0.7M450.0 610.4h0.7M429.6 603.0h0.7M476.3 610.7h0.7M428.7 604.7h0.7M489.5 610.5h0.7M490.1 606.0h0.7M481.4 613.2h0.7M435.5 607.6h0.7M467.5 608.0h0.7M479.8 601.6h0.7M453.5 613.6h0.7M454.7 598.9h0.7M478.6 598.3h0.7M428.7 603.5h0.7M451.6 613.3h0.7M481.9 602.0h0.7M479.1 599.0h0.7M487.2 602.9h0.7M483.4 609.9h0.7M440.3 610.3h0.7M487.2 599.1h0.7M443.4 604.4h0.7M462.9 604.6h0.7M464.6 600.6h0.7M470.7 600.2h0.7M467.5 602.9h0.7M442.2 603.9h0.7M483.5 607.4h0.7M436.9 608.2h0.7M475.4 607.5h0.7M427.6 604.5h0.7M485.2 600.6h0.7M484.1 599.7h0.7M444.2 600.1h0.7M463.1 609.4h0.7M458.6 600.9h0.7M487.6 605.3h0.7M446.1 601.8h0.7M432.2 602.1h0.7M453.0 609.6h0.7M447.3 610.3h0.7M444.3 606.3h0.7M477.5 607.7h0.7M452.1 607.9h0.7M436.4 610.4h0.7M439.3 597.9h0.7M483.6 602.1h0.7M457.3 610.4h0.7M440.3 613.6h0.7M458.2 608.9h0.7M434.4 610.8h0.7M458.3 600.8h0.7M442.8 598.5h0.7M452.1 612.6h0.7M487.5 601.7h0.7M458.6 602.2h0.7M475.1 607.9h0.7M448.3 606.0h0.7M439.8 611.1h0.7M449.8 601.7h0.7M441.0 600.7h0.7M460.2 599.1h0.7M470.9 610.3h0.7M444.4 608.2h0.7M472.8 608.5h0.7M460.5 602.1h0.7M478.7 601.0h0.7M476.6 609.3h0.7M488.2 610.5h0.7M471.7 602.4h0.7M431.4 602.8h0.7M449.5 610.4h0.7M453.0 610.5h0.7M483.8 600.6h0.7M483.4 602.0h0.7M441.3 609.8h0.7M485.4 609.0h0.7M454.1 603.9h0.7M470.9 610.5h0.7M470.6 608.7h0.7M455.2 604.7h0.7M463.7 605.7h0.7M457.8 601.2h0.7M471.5 604.3h0.7M480.8 599.7h0.7M462.4 606.0h0.7M484.1 599.0h0.7M459.8 598.0h0.7M430.8 613.0h0.7M465.9 600.0h0.7M448.3 602.9h0.7M475.0 611.8h0.7M445.7 599.2h0.7M469.0 606.9h0.7M439.8 605.7h0.7M469.3 607.1h0.7M466.2 608.2h0.7M472.1 605.7h0.7M429.4 612.1h0.7M456.5 608.0h0.7M475.5 600.4h0.7M456.2 607.0h0.7M446.2 598.7h0.7M476.0 602.0h0.7M471.1 612.1h0.7M456.0 598.8h0.7M481.8 603.3h0.7M471.2 599.0h0.7M491.7 611.9h0.7M469.9 598.8h0.7M489.8 606.7h0.7M475.0 605.2h0.7M456.4 611.7h0.7M427.9 598.7h0.7M474.9 598.1h0.7M455.0 610.9h0.7M483.2 600.8h0.7M484.5 604.8h0.7M481.2 612.2h0.7M462.8 602.9h0.7M468.2 601.2h0.7M468.8 610.9h0.7M456.2 610.5h0.7M453.3 613.5h0.7M490.6 610.3h0.7M427.4 607.3h0.7M483.4 601.2h0.7M435.8 609.7h0.7M434.6 606.6h0.7M477.1 604.5h0.7M428.3 607.1h0.7M470.1 600.3h0.7M442.9 612.6h0.7M482.8 603.7h0.7M463.8 612.5h0.7M442.2 610.1h0.7M465.1 608.1h0.7M474.7 602.3h0.7M482.2 608.9h0.7M428.6 603.7h0.7M487.1 612.3h0.7M480.7 603.6h0.7M442.3 611.4h0.7M466.2 598.6h0.7M461.2 610.6h0.7M466.5 605.8h0.7M443.1 607.3h0.7M487.0 607.6h0.7M473.0 613.3h0.7M464.0 607.6h0.7M488.6 612.8h0.7M451.3 609.0h0.7M462.1 605.0h0.7M468.2 612.4h0.7M467.2 609.8h0.7M449.0 608.9h0.7M465.8 612.3h0.7M455.0 600.9h0.7M474.3 600.7h0.7M450.8 607.4h0.7M456.4 603.4h0.7M465.4 600.3h0.7M439.3 602.2h0.7M462.6 598.5h0.7M484.2 611.0h0.7M472.3 599.8h0.7M459.7 598.3h0.7M435.7 606.6h0.7M464.5 602.0h0.7M454.0 600.3h0.7M451.6 606.1h0.7M473.7 604.4h0.7M490.4 604.0h0.7M460.8 608.3h0.7M439.3 600.5h0.7M471.2 605.6h0.7M456.5 612.3h0.7M482.4 603.6h0.7M476.1 609.4h0.7M450.4 603.8h0.7M480.6 601.7h0.7M461.8 604.0h0.7M473.0 599.0h0.7M431.3 602.4h0.7M445.3 602.8h0.7M482.7 610.9h0.7M428.7 611.3h0.7M471.8 609.9h0.7M487.2 605.7h0.7M481.8 599.0h0.7M437.2 608.7h0.7M435.5 605.8h0.7M451.6 610.6h0.7M431.2 605.5h0.7M467.0 598.6h0.7M469.9 606.1h0.7M471.4 599.8h0.7M480.7 611.9h0.7M448.0 598.7h0.7M428.3 604.7h0.7M438.9 600.1h0.7M480.5 606.7h0.7M436.9 598.7h0.7M434.2 613.3h0.7M471.8 608.1h0.7M466.7 611.0h0.7M486.6 603.9h0.7M479.8 603.3h0.7M484.1 604.3h0.7M485.7 598.3h0.7M428.1 608.8h0.7M488.8 606.4h0.7M444.3 607.6h0.7M433.3 602.7h0.7M485.7 598.8h0.7M446.6 608.3h0.7M436.6 611.0h0.7M463.9 604.2h0.7M480.8 604.3h0.7M448.3 602.0h0.7M482.7 601.5h0.7M490.0 609.6h0.7M461.9 606.4h0.7M442.2 613.4h0.7M446.6 607.5h0.7M438.2 600.7h0.7M455.9 602.0h0.7M453.0 608.5h0.7M446.1 603.5h0.7M453.4 609.0h0.7M444.3 608.2h0.7M482.8 610.2h0.7M486.6 607.3h0.7M455.4 605.7h0.7M434.8 605.8h0.7M446.3 602.0h0.7M471.6 601.0h0.7M490.7 611.0h0.7M476.2 608.6h0.7M431.6 606.9h0.7M449.8 610.3h0.7M431.6 599.3h0.7M463.6 607.3h0.7M452.9 611.1h0.7M456.2 606.9h0.7M445.8 611.6h0.7M433.1 599.9h0.7M478.0 612.8h0.7M449.6 602.5h0.7M431.8 608.9h0.7M440.4 613.0h0.7M430.5 606.7h0.7M483.9 602.4h0.7M438.4 613.3h0.7M488.0 602.0h0.7M490.2 609.2h0.7M435.2 607.2h0.7M478.4 606.0h0.7M441.2 610.1h0.7M473.4 612.4h0.7M489.8 612.9h0.7M457.3 610.2h0.7M441.2 610.8h0.7M470.0 598.4h0.7M466.7 603.7h0.7M443.1 606.7h0.7M462.2 605.4h0.7M460.2 612.6h0.7M453.9 612.3h0.7M451.4 605.5h0.7M487.0 612.3h0.7M470.0 603.5h0.7M453.9 610.4h0.7M463.7 600.0h0.7M467.8 613.4h0.7M483.5 605.0h0.7M456.4 613.2h0.7M480.0 601.9h0.7M437.5 602.3h0.7M474.5 602.3h0.7M472.7 602.5h0.7M428.1 599.3h0.7M469.0 610.3h0.7" stroke="#ececec" stroke-width="0.7" fill="none" stroke-opacity="0.8"/>
<rect x="427.3" y="606.4" width="13.2" height="7.2" fill="#fff" fill-opacity="0.72"/>
<rect x="490.3" y="606.4" width="14.0" height="7.2" fill="#fff" fill-opacity="0.8"/>
</g>
<line x1="454.80" y1="541.00" x2="454.80" y2="613.60" stroke="#606060" stroke-width="1.6"/>
<line x1="427.30" y1="590.30" x2="504.30" y2="590.30" stroke="#606060" stroke-width="1.6"/>
<rect x="427.3" y="541.0" width="77.0" height="72.60000000000002" fill="none" stroke="#000" stroke-width="1.5"/>
<line x1="425.30" y1="608.14" x2="427.30" y2="608.14" stroke="#000" stroke-width="0.8"/>
<line x1="433.09" y1="613.60" x2="433.09" y2="615.60" stroke="#000" stroke-width="0.8"/>
<line x1="425.30" y1="604.94" x2="427.30" y2="604.94" stroke="#000" stroke-width="0.8"/>
<line x1="436.48" y1="613.60" x2="436.48" y2="615.60" stroke="#000" stroke-width="0.8"/>
<line x1="425.30" y1="602.67" x2="427.30" y2="602.67" stroke="#000" stroke-width="0.8"/>
<line x1="438.89" y1="613.60" x2="438.89" y2="615.60" stroke="#000" stroke-width="0.8"/>
<line x1="425.30" y1="600.91" x2="427.30" y2="600.91" stroke="#000" stroke-width="0.8"/>
<line x1="440.76" y1="613.60" x2="440.76" y2="615.60" stroke="#000" stroke-width="0.8"/>
<line x1="425.30" y1="599.48" x2="427.30" y2="599.48" stroke="#000" stroke-width="0.8"/>
<line x1="442.28" y1="613.60" x2="442.28" y2="615.60" stroke="#000" stroke-width="0.8"/>
<line x1="425.30" y1="598.26" x2="427.30" y2="598.26" stroke="#000" stroke-width="0.8"/>
<line x1="443.57" y1="613.60" x2="443.57" y2="615.60" stroke="#000" stroke-width="0.8"/>
<line x1="425.30" y1="597.21" x2="427.30" y2="597.21" stroke="#000" stroke-width="0.8"/>
<line x1="444.68" y1="613.60" x2="444.68" y2="615.60" stroke="#000" stroke-width="0.8"/>
<line x1="425.30" y1="596.28" x2="427.30" y2="596.28" stroke="#000" stroke-width="0.8"/>
<line x1="445.67" y1="613.60" x2="445.67" y2="615.60" stroke="#000" stroke-width="0.8"/>
<line x1="425.30" y1="589.99" x2="427.30" y2="589.99" stroke="#000" stroke-width="0.8"/>
<line x1="452.34" y1="613.60" x2="452.34" y2="615.60" stroke="#000" stroke-width="0.8"/>
<line x1="425.30" y1="586.79" x2="427.30" y2="586.79" stroke="#000" stroke-width="0.8"/>
<line x1="455.73" y1="613.60" x2="455.73" y2="615.60" stroke="#000" stroke-width="0.8"/>
<line x1="425.30" y1="584.52" x2="427.30" y2="584.52" stroke="#000" stroke-width="0.8"/>
<line x1="458.14" y1="613.60" x2="458.14" y2="615.60" stroke="#000" stroke-width="0.8"/>
<line x1="425.30" y1="582.76" x2="427.30" y2="582.76" stroke="#000" stroke-width="0.8"/>
<line x1="460.01" y1="613.60" x2="460.01" y2="615.60" stroke="#000" stroke-width="0.8"/>
<line x1="425.30" y1="581.33" x2="427.30" y2="581.33" stroke="#000" stroke-width="0.8"/>
<line x1="461.53" y1="613.60" x2="461.53" y2="615.60" stroke="#000" stroke-width="0.8"/>
<line x1="425.30" y1="580.11" x2="427.30" y2="580.11" stroke="#000" stroke-width="0.8"/>
<line x1="462.82" y1="613.60" x2="462.82" y2="615.60" stroke="#000" stroke-width="0.8"/>
<line x1="425.30" y1="579.06" x2="427.30" y2="579.06" stroke="#000" stroke-width="0.8"/>
<line x1="463.93" y1="613.60" x2="463.93" y2="615.60" stroke="#000" stroke-width="0.8"/>
<line x1="425.30" y1="578.13" x2="427.30" y2="578.13" stroke="#000" stroke-width="0.8"/>
<line x1="464.92" y1="613.60" x2="464.92" y2="615.60" stroke="#000" stroke-width="0.8"/>
<line x1="425.30" y1="571.84" x2="427.30" y2="571.84" stroke="#000" stroke-width="0.8"/>
<line x1="471.59" y1="613.60" x2="471.59" y2="615.60" stroke="#000" stroke-width="0.8"/>
<line x1="425.30" y1="568.64" x2="427.30" y2="568.64" stroke="#000" stroke-width="0.8"/>
<line x1="474.98" y1="613.60" x2="474.98" y2="615.60" stroke="#000" stroke-width="0.8"/>
<line x1="425.30" y1="566.37" x2="427.30" y2="566.37" stroke="#000" stroke-width="0.8"/>
<line x1="477.39" y1="613.60" x2="477.39" y2="615.60" stroke="#000" stroke-width="0.8"/>
<line x1="425.30" y1="564.61" x2="427.30" y2="564.61" stroke="#000" stroke-width="0.8"/>
<line x1="479.26" y1="613.60" x2="479.26" y2="615.60" stroke="#000" stroke-width="0.8"/>
<line x1="425.30" y1="563.18" x2="427.30" y2="563.18" stroke="#000" stroke-width="0.8"/>
<line x1="480.78" y1="613.60" x2="480.78" y2="615.60" stroke="#000" stroke-width="0.8"/>
<line x1="425.30" y1="561.96" x2="427.30" y2="561.96" stroke="#000" stroke-width="0.8"/>
<line x1="482.07" y1="613.60" x2="482.07" y2="615.60" stroke="#000" stroke-width="0.8"/>
<line x1="425.30" y1="560.91" x2="427.30" y2="560.91" stroke="#000" stroke-width="0.8"/>
<line x1="483.18" y1="613.60" x2="483.18" y2="615.60" stroke="#000" stroke-width="0.8"/>
<line x1="425.30" y1="559.98" x2="427.30" y2="559.98" stroke="#000" stroke-width="0.8"/>
<line x1="484.17" y1="613.60" x2="484.17" y2="615.60" stroke="#000" stroke-width="0.8"/>
<line x1="425.30" y1="553.69" x2="427.30" y2="553.69" stroke="#000" stroke-width="0.8"/>
<line x1="490.84" y1="613.60" x2="490.84" y2="615.60" stroke="#000" stroke-width="0.8"/>
<line x1="425.30" y1="550.49" x2="427.30" y2="550.49" stroke="#000" stroke-width="0.8"/>
<line x1="494.23" y1="613.60" x2="494.23" y2="615.60" stroke="#000" stroke-width="0.8"/>
<line x1="425.30" y1="548.22" x2="427.30" y2="548.22" stroke="#000" stroke-width="0.8"/>
<line x1="496.64" y1="613.60" x2="496.64" y2="615.60" stroke="#000" stroke-width="0.8"/>
<line x1="425.30" y1="546.46" x2="427.30" y2="546.46" stroke="#000" stroke-width="0.8"/>
<line x1="498.51" y1="613.60" x2="498.51" y2="615.60" stroke="#000" stroke-width="0.8"/>
<line x1="425.30" y1="545.03" x2="427.30" y2="545.03" stroke="#000" stroke-width="0.8"/>
<line x1="500.03" y1="613.60" x2="500.03" y2="615.60" stroke="#000" stroke-width="0.8"/>
<line x1="425.30" y1="543.81" x2="427.30" y2="543.81" stroke="#000" stroke-width="0.8"/>
<line x1="501.32" y1="613.60" x2="501.32" y2="615.60" stroke="#000" stroke-width="0.8"/>
<line x1="425.30" y1="542.76" x2="427.30" y2="542.76" stroke="#000" stroke-width="0.8"/>
<line x1="502.43" y1="613.60" x2="502.43" y2="615.60" stroke="#000" stroke-width="0.8"/>
<line x1="425.30" y1="541.83" x2="427.30" y2="541.83" stroke="#000" stroke-width="0.8"/>
<line x1="503.42" y1="613.60" x2="503.42" y2="615.60" stroke="#000" stroke-width="0.8"/>
<line x1="424.30" y1="613.60" x2="427.30" y2="613.60" stroke="#000" stroke-width="1.2"/>
<line x1="427.30" y1="613.60" x2="427.30" y2="616.60" stroke="#000" stroke-width="1.2"/>
<text x="420.10" y="614.00" font-size="3.2" font-weight="bold" fill="#2a2a2a">10</text>
<text x="423.60" y="612.40" font-size="2.4" font-weight="bold" fill="#2a2a2a">0</text>
<text x="425.10" y="619.80" font-size="3.2" font-weight="bold" fill="#2a2a2a">10</text>
<text x="428.70" y="618.20" font-size="2.4" font-weight="bold" fill="#2a2a2a">0</text>
<line x1="424.30" y1="595.45" x2="427.30" y2="595.45" stroke="#000" stroke-width="1.2"/>
<line x1="446.55" y1="613.60" x2="446.55" y2="616.60" stroke="#000" stroke-width="1.2"/>
<text x="420.10" y="595.85" font-size="3.2" font-weight="bold" fill="#2a2a2a">10</text>
<text x="423.60" y="594.25" font-size="2.4" font-weight="bold" fill="#2a2a2a">1</text>
<text x="444.35" y="619.80" font-size="3.2" font-weight="bold" fill="#2a2a2a">10</text>
<text x="447.95" y="618.20" font-size="2.4" font-weight="bold" fill="#2a2a2a">1</text>
<line x1="424.30" y1="577.30" x2="427.30" y2="577.30" stroke="#000" stroke-width="1.2"/>
<line x1="465.80" y1="613.60" x2="465.80" y2="616.60" stroke="#000" stroke-width="1.2"/>
<text x="420.10" y="577.70" font-size="3.2" font-weight="bold" fill="#2a2a2a">10</text>
<text x="423.60" y="576.10" font-size="2.4" font-weight="bold" fill="#2a2a2a">2</text>
<text x="463.60" y="619.80" font-size="3.2" font-weight="bold" fill="#2a2a2a">10</text>
<text x="467.20" y="618.20" font-size="2.4" font-weight="bold" fill="#2a2a2a">2</text>
<line x1="424.30" y1="559.15" x2="427.30" y2="559.15" stroke="#000" stroke-width="1.2"/>
<line x1="485.05" y1="613.60" x2="485.05" y2="616.60" stroke="#000" stroke-width="1.2"/>
<text x="420.10" y="559.55" font-size="3.2" font-weight="bold" fill="#2a2a2a">10</text>
<text x="423.60" y="557.95" font-size="2.4" font-weight="bold" fill="#2a2a2a">3</text>
<text x="482.85" y="619.80" font-size="3.2" font-weight="bold" fill="#2a2a2a">10</text>
<text x="486.45" y="618.20" font-size="2.4" font-weight="bold" fill="#2a2a2a">3</text>
<line x1="424.30" y1="541.00" x2="427.30" y2="541.00" stroke="#000" stroke-width="1.2"/>
<line x1="504.30" y1="613.60" x2="504.30" y2="616.60" stroke="#000" stroke-width="1.2"/>
<text x="420.10" y="541.40" font-size="3.2" font-weight="bold" fill="#2a2a2a">10</text>
<text x="423.60" y="539.80" font-size="2.4" font-weight="bold" fill="#2a2a2a">4</text>
<text x="502.10" y="619.80" font-size="3.2" font-weight="bold" fill="#2a2a2a">10</text>
<text x="505.70" y="618.20" font-size="2.4" font-weight="bold" fill="#2a2a2a">4</text>
<text x="465.80" y="623.40" font-size="2.5" text-anchor="middle" fill="#2a2a2a">FL4-H</text>
<text x="418.50" y="577.30" font-size="2.5" text-anchor="middle" fill="#2a2a2a" transform="rotate(-90 418.50 577.30)">FL2-H</text>
<text x="429.30" y="547.28" font-size="5.8" fill="#4a4a4a">4.38e-3</text>
<text x="502.90" y="547.28" font-size="5.8" text-anchor="end" fill="#4a4a4a">0.022</text>
<text x="429.10" y="612.56" font-size="6.6" fill="#222">24.8</text>
<text x="503.10" y="612.56" font-size="6.6" text-anchor="end" fill="#222">75.2</text>
<text x="348.60" y="450.20" font-size="11.8" fill="#111" textLength="61.60" lengthAdjust="spacingAndGlyphs">10% plasma</text>
<text x="436.40" y="450.20" font-size="11.8" fill="#111" textLength="62.60" lengthAdjust="spacingAndGlyphs">40% plasma</text>
<path d="M302.7 461 V626.6 H508" fill="none" stroke="#000" stroke-width="3.0" stroke-linejoin="miter"/>
<path d="M302.7 449.8 L309.9 463.4 L302.7 459.8 L295.5 463.4 Z" fill="#000"/>
<path d="M520 626.6 L506.2 634.3000000000001 L509.6 626.6 L506.2 618.9 Z" fill="#000"/>
<text x="367.00" y="642.00" font-size="14.6" fill="#111" textLength="83.20" lengthAdjust="spacingAndGlyphs">C3 deposition</text>
<text x="295.90" y="624.90" font-size="14.8" fill="#111" textLength="163.7" lengthAdjust="spacingAndGlyphs" transform="rotate(-90 295.90 624.90)">Activated αIIbβ3 expression</text>
<text x="320.30" y="497.70" font-size="11.2" fill="#222" textLength="13.9" lengthAdjust="spacingAndGlyphs" transform="rotate(-90 320.30 497.70)">WT</text>
<g transform="translate(320.8 603.7) rotate(-90)">
<text x="0.00" y="0.00" font-size="8.8" fill="#222" textLength="12.20" lengthAdjust="spacingAndGlyphs" stroke="#222" stroke-width="0.36">DAF</text>
<text x="13.20" y="0.00" font-size="8.8" fill="#222" textLength="20.40" lengthAdjust="spacingAndGlyphs" stroke="#222" stroke-width="0.36">/Crry</text>
<text x="34.60" y="0.00" font-size="8.8" fill="#222" textLength="12.70" lengthAdjust="spacingAndGlyphs" stroke="#222" stroke-width="0.36">/C3</text>
<text x="16.40" y="-7.20" font-size="6.2" text-anchor="middle" font-style="italic" fill="#222" textLength="6.60" lengthAdjust="spacingAndGlyphs" stroke="#222" stroke-width="0.36">-/-</text>
<text x="35.50" y="-7.20" font-size="6.2" text-anchor="middle" font-style="italic" fill="#222" textLength="6.60" lengthAdjust="spacingAndGlyphs" stroke="#222" stroke-width="0.36">-/-</text>
<text x="51.90" y="-7.20" font-size="6.2" text-anchor="middle" font-style="italic" fill="#222" textLength="6.60" lengthAdjust="spacingAndGlyphs" stroke="#222" stroke-width="0.36">-/-</text>
</g>
<text x="0.20" y="680.90" font-size="17.3" font-weight="bold">G</text>
<rect x="58.80" y="824.80" width="29.70" height="2.20" fill="#9a9a9a" stroke="#000" stroke-width="1.6"/>
<line x1="119.20" y1="814.00" x2="119.20" y2="815.20" stroke="#000" stroke-width="1.4"/>
<line x1="111.50" y1="814.00" x2="127.00" y2="814.00" stroke="#000" stroke-width="1.5"/>
<rect x="104.60" y="816.00" width="29.20" height="11.00" fill="#8a8a8a" stroke="#000" stroke-width="1.6"/>
<line x1="164.50" y1="782.00" x2="164.50" y2="788.80" stroke="#000" stroke-width="1.4"/>
<line x1="156.30" y1="782.00" x2="172.60" y2="782.00" stroke="#000" stroke-width="1.5"/>
<rect x="149.60" y="789.60" width="29.60" height="37.40" fill="#fff" stroke="#000" stroke-width="1.6"/>
<line x1="209.30" y1="710.80" x2="209.30" y2="722.50" stroke="#000" stroke-width="1.4"/>
<line x1="201.20" y1="710.80" x2="217.60" y2="710.80" stroke="#000" stroke-width="1.5"/>
<rect x="193.80" y="722.50" width="31.20" height="104.50" fill="#000"/>
<line x1="43.80" y1="696.80" x2="43.80" y2="827.80" stroke="#000" stroke-width="1.6"/>
<line x1="43.00" y1="827.00" x2="241.40" y2="827.00" stroke="#000" stroke-width="1.6"/>
<line x1="39.40" y1="827.00" x2="43.80" y2="827.00" stroke="#000" stroke-width="1.3"/>
<text x="38.40" y="830.31" font-size="8.4" text-anchor="end">0</text>
<line x1="39.40" y1="784.00" x2="43.80" y2="784.00" stroke="#000" stroke-width="1.3"/>
<text x="38.40" y="787.31" font-size="8.4" text-anchor="end">2500</text>
<line x1="39.40" y1="740.60" x2="43.80" y2="740.60" stroke="#000" stroke-width="1.3"/>
<text x="38.40" y="743.91" font-size="8.4" text-anchor="end">5000</text>
<line x1="39.40" y1="697.50" x2="43.80" y2="697.50" stroke="#000" stroke-width="1.3"/>
<text x="38.40" y="700.81" font-size="8.4" text-anchor="end">7500</text>
<text x="12.45" y="818.50" font-size="10.2" font-weight="bold" textLength="124.20" lengthAdjust="spacingAndGlyphs" transform="rotate(-90 12.45 818.50)">C3a/C3a-desArg (ng/mL)</text>
<path d="M157.8 703.4 V690.3 H212.3 V703.4" fill="none" stroke="#000" stroke-width="1.9" stroke-linecap="round" stroke-linejoin="round"/>
<text x="184.75" y="691.50" font-size="15.0" text-anchor="middle" fill="#222">*</text>
<text x="4.50" y="845.40" font-size="10.4" fill="#1a1a1a" textLength="33.00" lengthAdjust="spacingAndGlyphs">Platelet</text>
<text x="4.50" y="865.60" font-size="10.4" fill="#1a1a1a" textLength="48.00" lengthAdjust="spacingAndGlyphs">Incubation</text>
<text x="4.50" y="879.00" font-size="10.4" fill="#1a1a1a" textLength="61.00" lengthAdjust="spacingAndGlyphs">(30 min 37˚C)</text>
<text x="74.30" y="845.50" font-size="10.0" text-anchor="middle" fill="#222">-</text>
<text x="119.60" y="845.50" font-size="10.0" text-anchor="middle" fill="#222">-</text>
<text x="74.30" y="865.50" font-size="10.0" text-anchor="middle" fill="#222">-</text>
<text x="119.80" y="866.30" font-size="11.0" text-anchor="middle" fill="#222">+</text>
<text x="165.40" y="866.30" font-size="11.0" text-anchor="middle" fill="#222">+</text>
<text x="211.80" y="866.30" font-size="11.0" text-anchor="middle" fill="#222">+</text>
<text x="161.30" y="846.00" font-size="8.4" fill="#222" textLength="10.00" lengthAdjust="spacingAndGlyphs" stroke="#222" stroke-width="0.36">WT</text>
<text x="190.00" y="846.20" font-size="8.4" fill="#222" textLength="12.40" lengthAdjust="spacingAndGlyphs" stroke="#222" stroke-width="0.36">DAF</text>
<text x="205.20" y="846.20" font-size="8.4" fill="#222" textLength="16.80" lengthAdjust="spacingAndGlyphs" stroke="#222" stroke-width="0.36">/Crry</text>
<text x="225.20" y="846.20" font-size="8.4" fill="#222" textLength="11.80" lengthAdjust="spacingAndGlyphs" stroke="#222" stroke-width="0.36">/C3</text>
<text x="208.20" y="838.20" font-size="6.2" text-anchor="middle" font-style="italic" fill="#222" textLength="6.60" lengthAdjust="spacingAndGlyphs" stroke="#222" stroke-width="0.36">-/-</text>
<text x="227.20" y="838.20" font-size="6.2" text-anchor="middle" font-style="italic" fill="#222" textLength="6.60" lengthAdjust="spacingAndGlyphs" stroke="#222" stroke-width="0.36">-/-</text>
<text x="242.00" y="838.20" font-size="6.2" text-anchor="middle" font-style="italic" fill="#222" textLength="6.60" lengthAdjust="spacingAndGlyphs" stroke="#222" stroke-width="0.36">-/-</text>
<text x="272.80" y="680.80" font-size="17.3" font-weight="bold">H</text>
<line x1="323.80" y1="826.10" x2="355.00" y2="826.10" stroke="#222" stroke-width="1.0"/>
<line x1="384.70" y1="805.00" x2="384.70" y2="812.50" stroke="#000" stroke-width="1.4"/>
<line x1="377.40" y1="805.00" x2="392.40" y2="805.00" stroke="#000" stroke-width="1.5"/>
<rect x="370.10" y="813.30" width="29.30" height="13.70" fill="#8a8a8a" stroke="#000" stroke-width="1.6"/>
<line x1="429.60" y1="756.30" x2="429.60" y2="768.30" stroke="#000" stroke-width="1.4"/>
<line x1="421.80" y1="756.30" x2="437.60" y2="756.30" stroke="#000" stroke-width="1.5"/>
<rect x="415.30" y="769.10" width="29.10" height="57.90" fill="#fff" stroke="#000" stroke-width="1.6"/>
<line x1="475.00" y1="718.00" x2="475.00" y2="726.30" stroke="#000" stroke-width="1.4"/>
<line x1="467.00" y1="718.00" x2="483.30" y2="718.00" stroke="#000" stroke-width="1.5"/>
<rect x="459.50" y="726.30" width="31.30" height="100.70" fill="#000"/>
<line x1="308.80" y1="696.30" x2="308.80" y2="827.80" stroke="#000" stroke-width="1.6"/>
<line x1="308.00" y1="827.00" x2="506.40" y2="827.00" stroke="#000" stroke-width="1.6"/>
<line x1="304.40" y1="827.00" x2="308.80" y2="827.00" stroke="#000" stroke-width="1.3"/>
<text x="303.40" y="830.31" font-size="8.4" text-anchor="end">0</text>
<line x1="304.40" y1="801.00" x2="308.80" y2="801.00" stroke="#000" stroke-width="1.3"/>
<text x="303.40" y="804.31" font-size="8.4" text-anchor="end">100</text>
<line x1="304.40" y1="775.00" x2="308.80" y2="775.00" stroke="#000" stroke-width="1.3"/>
<text x="303.40" y="778.31" font-size="8.4" text-anchor="end">200</text>
<line x1="304.40" y1="749.00" x2="308.80" y2="749.00" stroke="#000" stroke-width="1.3"/>
<text x="303.40" y="752.31" font-size="8.4" text-anchor="end">300</text>
<line x1="304.40" y1="723.00" x2="308.80" y2="723.00" stroke="#000" stroke-width="1.3"/>
<text x="303.40" y="726.31" font-size="8.4" text-anchor="end">400</text>
<line x1="304.40" y1="697.00" x2="308.80" y2="697.00" stroke="#000" stroke-width="1.3"/>
<text x="303.40" y="700.31" font-size="8.4" text-anchor="end">500</text>
<text x="283.25" y="818.50" font-size="10.2" font-weight="bold" textLength="124.70" lengthAdjust="spacingAndGlyphs" transform="rotate(-90 283.25 818.50)">C5a/C5a-desArg (ng/mL)</text>
<path d="M422.2 703.8 V691.4 H476.2 V703.8" fill="none" stroke="#000" stroke-width="1.9" stroke-linecap="round" stroke-linejoin="round"/>
<text x="450.20" y="692.30" font-size="15.0" text-anchor="middle" fill="#222">**</text>
<text x="275.00" y="845.40" font-size="10.4" fill="#1a1a1a" textLength="33.00" lengthAdjust="spacingAndGlyphs">Platelet</text>
<text x="275.00" y="865.60" font-size="10.4" fill="#1a1a1a" textLength="48.00" lengthAdjust="spacingAndGlyphs">Incubation</text>
<text x="275.00" y="879.00" font-size="10.4" fill="#1a1a1a" textLength="61.00" lengthAdjust="spacingAndGlyphs">(30 min 37˚C)</text>
<text x="340.00" y="845.50" font-size="10.0" text-anchor="middle" fill="#222">-</text>
<text x="387.00" y="845.50" font-size="10.0" text-anchor="middle" fill="#222">-</text>
<text x="340.00" y="865.50" font-size="10.0" text-anchor="middle" fill="#222">-</text>
<text x="387.40" y="866.30" font-size="11.0" text-anchor="middle" fill="#222">+</text>
<text x="431.30" y="866.30" font-size="11.0" text-anchor="middle" fill="#222">+</text>
<text x="476.80" y="866.30" font-size="11.0" text-anchor="middle" fill="#222">+</text>
<text x="426.30" y="846.00" font-size="8.4" fill="#222" textLength="10.00" lengthAdjust="spacingAndGlyphs" stroke="#222" stroke-width="0.36">WT</text>
<text x="458.80" y="846.20" font-size="8.4" fill="#222" textLength="12.40" lengthAdjust="spacingAndGlyphs" stroke="#222" stroke-width="0.36">DAF</text>
<text x="474.60" y="846.20" font-size="8.4" fill="#222" textLength="16.60" lengthAdjust="spacingAndGlyphs" stroke="#222" stroke-width="0.36">/Crry</text>
<text x="494.60" y="846.20" font-size="8.4" fill="#222" textLength="11.60" lengthAdjust="spacingAndGlyphs" stroke="#222" stroke-width="0.36">/C3</text>
<text x="477.60" y="838.20" font-size="6.2" text-anchor="middle" font-style="italic" fill="#222" textLength="6.60" lengthAdjust="spacingAndGlyphs" stroke="#222" stroke-width="0.36">-/-</text>
<text x="496.40" y="838.20" font-size="6.2" text-anchor="middle" font-style="italic" fill="#222" textLength="6.60" lengthAdjust="spacingAndGlyphs" stroke="#222" stroke-width="0.36">-/-</text>
<text x="511.20" y="838.20" font-size="6.2" text-anchor="middle" font-style="italic" fill="#222" textLength="6.60" lengthAdjust="spacingAndGlyphs" stroke="#222" stroke-width="0.36">-/-</text>
</g>
</svg>
</body></html>
